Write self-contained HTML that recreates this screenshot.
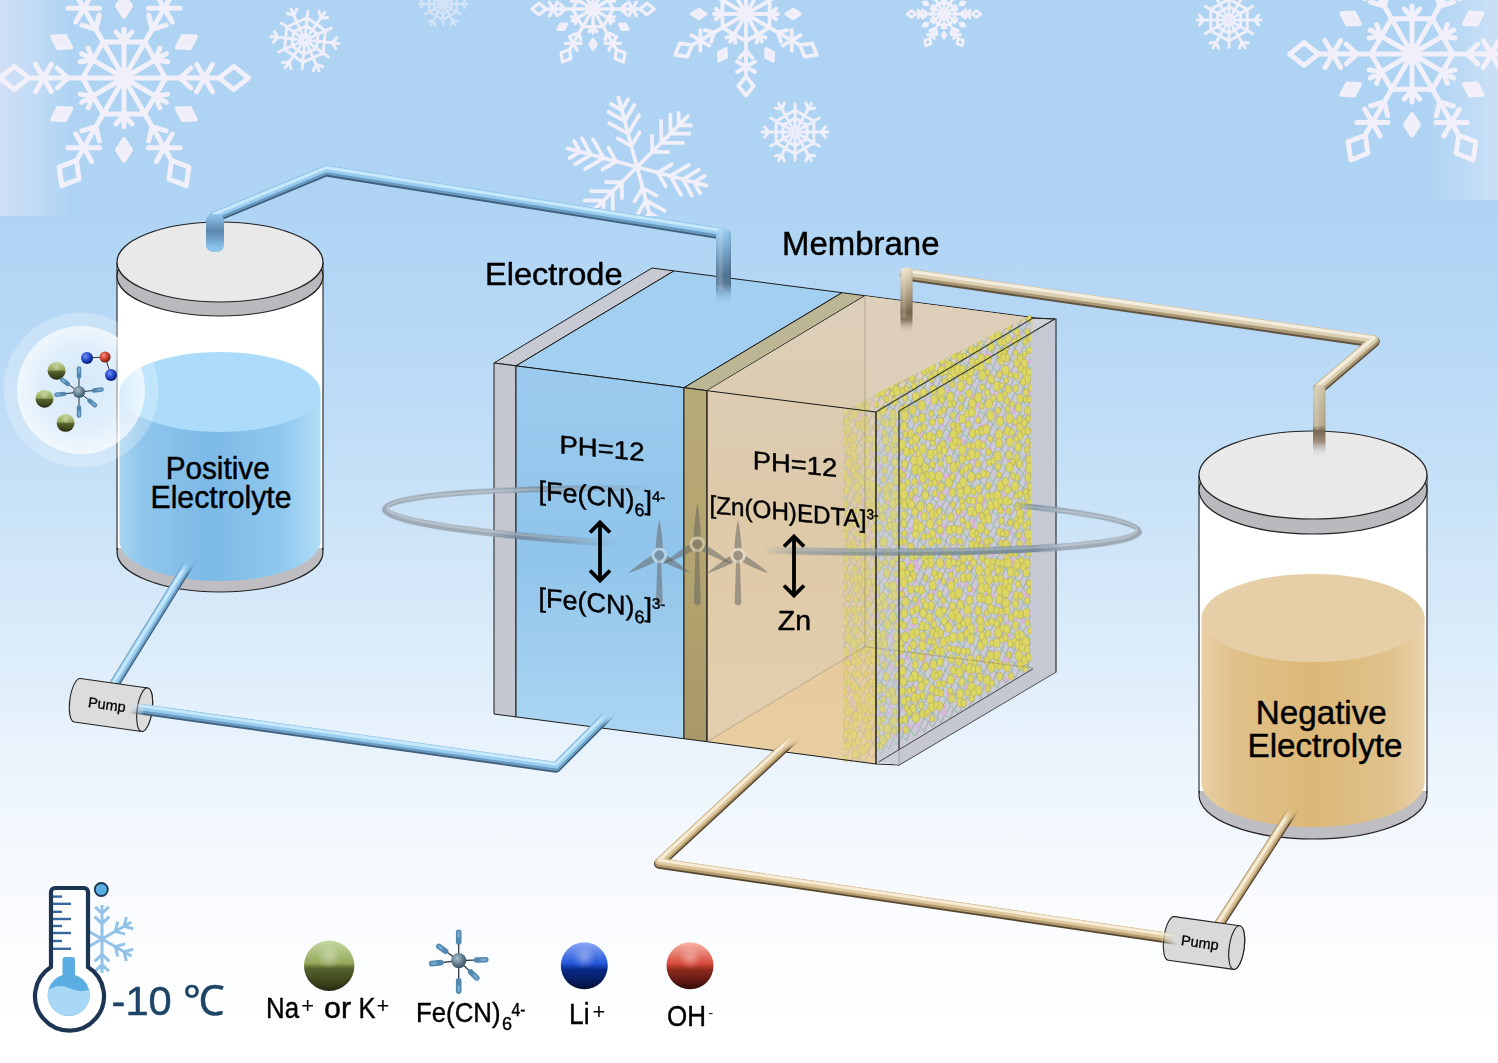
<!DOCTYPE html>
<html><head><meta charset="utf-8"><style>
html,body{margin:0;padding:0;width:1498px;height:1063px;overflow:hidden;background:#fff;}
svg{display:block;}
svg text{stroke:#000;stroke-width:0.45px;}
</style></head><body>
<svg width="1498" height="1063" viewBox="0 0 1498 1063"><defs>
<linearGradient id="bg" x1="0" y1="0" x2="0" y2="1063" gradientUnits="userSpaceOnUse">
 <stop offset="0" stop-color="#afd4f3"/>
 <stop offset="0.203" stop-color="#b0d5f4"/>
 <stop offset="0.282" stop-color="#b4d7f5"/>
 <stop offset="0.376" stop-color="#bddcf6"/>
 <stop offset="0.452" stop-color="#c6e1f7"/>
 <stop offset="0.527" stop-color="#d1e6f8"/>
 <stop offset="0.611" stop-color="#dcecfa"/>
 <stop offset="0.687" stop-color="#e7f2fc"/>
 <stop offset="0.771" stop-color="#f1f7fd"/>
 <stop offset="0.847" stop-color="#f9fbfe"/>
 <stop offset="0.941" stop-color="#fdfeff"/>
 <stop offset="1" stop-color="#ffffff"/>
</linearGradient>
<linearGradient id="haze" x1="0" y1="0" x2="1" y2="0">
 <stop offset="0" stop-color="#e2e4f8" stop-opacity="0.65"/>
 <stop offset="1" stop-color="#e6ecfa" stop-opacity="0"/>
</linearGradient>
<linearGradient id="hazeR" x1="1" y1="0" x2="0" y2="0">
 <stop offset="0" stop-color="#e6ecfa" stop-opacity="0.5"/>
 <stop offset="1" stop-color="#e6ecfa" stop-opacity="0"/>
</linearGradient>
<linearGradient id="blueLiq" x1="0" y1="0" x2="1" y2="0">
 <stop offset="0" stop-color="#a6d4f2"/>
 <stop offset="0.12" stop-color="#8fc6ec"/>
 <stop offset="0.45" stop-color="#7cb9e6"/>
 <stop offset="0.8" stop-color="#8fc8ee"/>
 <stop offset="1" stop-color="#b0dcf6"/>
</linearGradient>
<linearGradient id="tanLiq" x1="0" y1="0" x2="1" y2="0">
 <stop offset="0" stop-color="#e8d0a6"/>
 <stop offset="0.15" stop-color="#e0c08a"/>
 <stop offset="0.5" stop-color="#dcb877"/>
 <stop offset="0.85" stop-color="#e0c28c"/>
 <stop offset="1" stop-color="#e9d2aa"/>
</linearGradient>
<linearGradient id="blueFace" x1="0" y1="0" x2="0" y2="1">
 <stop offset="0" stop-color="#9ccbee"/>
 <stop offset="0.5" stop-color="#90c4ea"/>
 <stop offset="1" stop-color="#acd6f2"/>
</linearGradient>
<linearGradient id="tanFace" x1="0" y1="0" x2="0" y2="1">
 <stop offset="0" stop-color="#dccdb5"/>
 <stop offset="0.5" stop-color="#e0c9a4"/>
 <stop offset="1" stop-color="#ead0a4"/>
</linearGradient>
<radialGradient id="bubble" cx="0.5" cy="0.5" r="0.5">
 <stop offset="0" stop-color="#ffffff" stop-opacity="0.2"/>
 <stop offset="0.6" stop-color="#ffffff" stop-opacity="0.35"/>
 <stop offset="1" stop-color="#ffffff" stop-opacity="0.7"/>
</radialGradient>
<linearGradient id="gball2" x1="0" y1="0" x2="0" y2="1">
 <stop offset="0" stop-color="#c6d8a2"/>
 <stop offset="0.45" stop-color="#93a85a"/>
 <stop offset="0.55" stop-color="#55622c"/>
 <stop offset="1" stop-color="#2c3214"/>
</linearGradient>
<linearGradient id="bball2" x1="0" y1="0" x2="0" y2="1">
 <stop offset="0" stop-color="#8eaaf6"/>
 <stop offset="0.45" stop-color="#2456d8"/>
 <stop offset="0.58" stop-color="#0a2a88"/>
 <stop offset="1" stop-color="#02123e"/>
</linearGradient>
<linearGradient id="rball2" x1="0" y1="0" x2="0" y2="1">
 <stop offset="0" stop-color="#f6b4a8"/>
 <stop offset="0.45" stop-color="#d84c3c"/>
 <stop offset="0.58" stop-color="#8e2a1e"/>
 <stop offset="1" stop-color="#3c0c08"/>
</linearGradient>
<radialGradient id="hub" cx="0.4" cy="0.35" r="0.6">
 <stop offset="0" stop-color="#a9c0cc"/>
 <stop offset="1" stop-color="#3e5a6c"/>
</radialGradient>
<linearGradient id="stubB" x1="0" y1="0" x2="0" y2="1">
 <stop offset="0" stop-color="#92c8ec"/>
 <stop offset="0.45" stop-color="#5a86ac"/>
 <stop offset="0.85" stop-color="#86bee6"/>
 <stop offset="1" stop-color="#92caee"/>
</linearGradient>
<linearGradient id="stubB2" x1="0" y1="230" x2="0" y2="305" gradientUnits="userSpaceOnUse">
 <stop offset="0" stop-color="#98cdf0"/>
 <stop offset="0.2" stop-color="#7eb0d8"/>
 <stop offset="0.6" stop-color="#4d7090"/>
 <stop offset="0.72" stop-color="#56799a"/>
 <stop offset="1" stop-color="#a3cff1" stop-opacity="0"/>
</linearGradient>
<linearGradient id="stubT2" x1="0" y1="266" x2="0" y2="334" gradientUnits="userSpaceOnUse">
 <stop offset="0" stop-color="#eee6d2"/>
 <stop offset="0.18" stop-color="#d6c8aa"/>
 <stop offset="0.45" stop-color="#a89878"/>
 <stop offset="0.68" stop-color="#76664e"/>
 <stop offset="0.8" stop-color="#8c7d66"/>
 <stop offset="1" stop-color="#dcd0bb" stop-opacity="0"/>
</linearGradient>
<linearGradient id="stubHL" x1="0" y1="0" x2="1" y2="0">
 <stop offset="0" stop-color="#fff" stop-opacity="0.05"/>
 <stop offset="0.3" stop-color="#fff" stop-opacity="0.22"/>
 <stop offset="0.6" stop-color="#fff" stop-opacity="0"/>
 <stop offset="1" stop-color="#000" stop-opacity="0.12"/>
</linearGradient>
<linearGradient id="stubT" x1="0" y1="0" x2="0" y2="1">
 <stop offset="0" stop-color="#d8cdb4"/>
 <stop offset="0.5" stop-color="#8e8068"/>
 <stop offset="1" stop-color="#c9b898" stop-opacity="0.2"/>
</linearGradient>
<radialGradient id="gballR" cx="0.38" cy="0.35" r="0.65">
 <stop offset="0" stop-color="#c4d08e"/>
 <stop offset="0.6" stop-color="#8d9c52"/>
 <stop offset="1" stop-color="#4c5626"/>
</radialGradient>
<radialGradient id="bballR" cx="0.38" cy="0.35" r="0.65">
 <stop offset="0" stop-color="#6f8ef0"/>
 <stop offset="0.6" stop-color="#1f45c8"/>
 <stop offset="1" stop-color="#0a1f70"/>
</radialGradient>
<radialGradient id="rballR" cx="0.38" cy="0.35" r="0.65">
 <stop offset="0" stop-color="#f09080"/>
 <stop offset="0.6" stop-color="#cc3c2c"/>
 <stop offset="1" stop-color="#6e1a12"/>
</radialGradient>
<filter id="soft" filterUnits="userSpaceOnUse" x="0" y="0" width="1498" height="1063"><feGaussianBlur stdDeviation="0.6"/></filter>
<radialGradient id="sph" cx="0.5" cy="0.32" r="0.7">
 <stop offset="0" stop-color="#ffffff" stop-opacity="0.35"/>
 <stop offset="0.35" stop-color="#ffffff" stop-opacity="0"/>
 <stop offset="0.8" stop-color="#000000" stop-opacity="0.0"/>
 <stop offset="1" stop-color="#000000" stop-opacity="0.25"/>
</radialGradient>
<linearGradient id="membG" x1="0" y1="388" x2="0" y2="742" gradientUnits="userSpaceOnUse">
 <stop offset="0" stop-color="#b9ab78"/>
 <stop offset="0.5" stop-color="#b3a46f"/>
 <stop offset="1" stop-color="#a79866"/>
</linearGradient>
<linearGradient id="tanWall" x1="0" y1="300" x2="0" y2="740" gradientUnits="userSpaceOnUse">
 <stop offset="0" stop-color="#dccfba"/>
 <stop offset="0.5" stop-color="#dec9a8"/>
 <stop offset="1" stop-color="#e0cfb6"/>
</linearGradient>
<linearGradient id="tanFloor" x1="0" y1="650" x2="0" y2="764" gradientUnits="userSpaceOnUse">
 <stop offset="0" stop-color="#e9ca98"/>
 <stop offset="1" stop-color="#e8cd9e"/>
</linearGradient>
<linearGradient id="stubT3" x1="0" y1="385" x2="0" y2="458" gradientUnits="userSpaceOnUse">
 <stop offset="0" stop-color="#d2c7ad"/>
 <stop offset="0.55" stop-color="#b8aa8e"/>
 <stop offset="0.63" stop-color="#76664f"/>
 <stop offset="0.78" stop-color="#8a7a66" stop-opacity="0.8"/>
 <stop offset="1" stop-color="#e9e9ea" stop-opacity="0"/>
</linearGradient>
</defs>

<rect x="0" y="0" width="1498" height="1063" fill="url(#bg)"/>
<rect x="0" y="0" width="1498" height="216" fill="#afd4f3"/>
<rect x="0" y="0" width="70" height="216" fill="url(#haze)"/>
<rect x="1428" y="0" width="70" height="200" fill="url(#hazeR)"/>
<clipPath id="topband"><rect x="0" y="0" width="1498" height="216"/></clipPath><g clip-path="url(#topband)"><g filter="url(#soft)">
<g opacity="0.88"><path d="M124.0 78.0L204.5 78.0M165.5 78.0L144.7 113.9M180.1 78.0L190.8 68.0M180.1 78.0L190.8 88.0M204.5 78.0L220.4 78.0M204.5 78.0L212.5 91.7M204.5 78.0L196.6 91.7M204.5 78.0L196.6 64.3M204.5 78.0L212.5 64.3M219.2 78.0L233.8 89.6L248.4 78.0L233.8 66.4ZM124.0 78.0L166.3 102.4M155.7 96.3L167.7 94.2M155.7 96.3L159.8 107.8M124.0 78.0L164.3 147.7M144.7 113.9L103.3 113.9M152.1 126.6L166.1 130.9M152.1 126.6L148.8 140.9M164.3 147.7L172.2 161.5M164.3 147.7L156.3 161.5M164.3 147.7L148.4 147.7M164.3 147.7L172.2 134.0M164.3 147.7L180.1 147.7M171.6 160.4L168.9 178.9L186.2 185.8L188.9 167.3ZM124.0 78.0L124.0 126.8M124.0 114.6L131.9 123.9M124.0 114.6L116.1 123.9M124.0 78.0L83.7 147.7M103.3 113.9L82.5 78.0M95.9 126.6L99.2 140.9M95.9 126.6L81.9 130.9M83.7 147.7L75.8 161.5M83.7 147.7L67.9 147.7M83.7 147.7L75.8 134.0M83.7 147.7L99.6 147.7M83.7 147.7L91.7 161.5M76.4 160.4L59.1 167.3L61.8 185.8L79.1 178.9ZM124.0 78.0L81.7 102.4M92.3 96.3L88.2 107.8M92.3 96.3L80.3 94.2M124.0 78.0L43.5 78.0M82.5 78.0L103.3 42.1M67.9 78.0L57.2 88.0M67.9 78.0L57.2 68.0M43.5 78.0L27.6 78.0M43.5 78.0L35.5 64.3M43.5 78.0L51.4 64.3M43.5 78.0L51.4 91.7M43.5 78.0L35.5 91.7M28.8 78.0L14.2 66.4L-0.4 78.0L14.2 89.6ZM124.0 78.0L81.7 53.6M92.3 59.7L80.3 61.8M92.3 59.7L88.2 48.2M124.0 78.0L83.7 8.3M103.3 42.1L144.7 42.1M95.9 29.4L81.9 25.1M95.9 29.4L99.2 15.1M83.7 8.3L75.8 -5.5M83.7 8.3L91.7 -5.5M83.7 8.3L99.6 8.3M83.7 8.3L75.8 22.0M83.7 8.3L67.9 8.3M76.4 -4.4L79.1 -22.9L61.8 -29.8L59.1 -11.3ZM124.0 78.0L124.0 29.2M124.0 41.4L116.1 32.1M124.0 41.4L131.9 32.1M124.0 78.0L164.3 8.3M144.7 42.1L165.5 78.0M152.1 29.4L148.8 15.1M152.1 29.4L166.1 25.1M164.3 8.3L172.2 -5.5M164.3 8.3L180.1 8.3M164.3 8.3L172.2 22.0M164.3 8.3L148.4 8.3M164.3 8.3L156.3 -5.5M171.6 -4.4L188.9 -11.3L186.2 -29.8L168.9 -22.9ZM124.0 78.0L166.3 53.6M155.7 59.7L159.8 48.2M155.7 59.7L167.7 61.8" fill="none" stroke="#faf3fb" stroke-width="5.0" stroke-linecap="round" stroke-linejoin="round"/><path d="M176.8 108.5L182.8 120.1L195.8 119.5L189.9 107.9ZM124.0 139.0L116.9 150.0L124.0 161.0L131.1 150.0ZM71.2 108.5L58.1 107.9L52.2 119.5L65.2 120.1ZM71.2 47.5L65.2 35.9L52.2 36.5L58.1 48.1ZM124.0 17.0L131.1 6.0L124.0 -5.0L116.9 6.0ZM176.8 47.5L189.9 48.1L195.8 36.5L182.8 35.9Z" fill="#f7f0fa" stroke="#faf3fb" stroke-width="4.0" stroke-linejoin="round"/></g>
<path opacity="0.85" d="M310.0 43.6L304.4 46.1L299.4 42.5L300.0 36.4L305.6 33.9L310.6 37.5ZM316.6 48.3L303.6 54.2L292.0 45.9L293.4 31.7L306.4 25.8L318.0 34.1ZM323.2 53.1L302.8 62.3L284.5 49.2L286.8 26.9L307.2 17.7L325.5 30.8ZM313.5 40.8L338.8 43.4M332.1 42.7L336.8 37.8M332.1 42.7L335.7 48.4M311.9 45.0L328.5 56.9M308.5 47.7L319.0 71.0M316.2 64.8L322.8 66.5M316.2 64.8L313.1 70.8M304.2 48.5L302.1 68.8M300.0 46.9L285.1 67.6M289.1 62.1L291.0 68.6M289.1 62.1L282.3 62.4M297.3 43.5L278.7 51.9M296.5 39.2L271.2 36.6M277.9 37.3L273.2 42.2M277.9 37.3L274.3 31.6M298.1 35.0L281.5 23.1M301.5 32.3L291.0 9.0M293.8 15.2L287.2 13.5M293.8 15.2L296.9 9.2M305.8 31.5L307.9 11.2M310.0 33.1L324.9 12.4M320.9 17.9L319.0 11.4M320.9 17.9L327.7 17.6M312.7 36.5L331.3 28.1" fill="none" stroke="#faf3fb" stroke-width="3.0" stroke-linecap="round"/><circle cx="305" cy="40" r="2.4" fill="none" stroke="#faf3fb" stroke-width="3.0" opacity="0.85"/>
<g opacity="0.88"><path d="M593.0 9.0L632.6 9.0M613.4 9.0L603.2 26.7M620.6 9.0L625.9 4.1M620.6 9.0L625.9 13.9M632.6 9.0L640.4 9.0M632.6 9.0L636.5 15.8M632.6 9.0L628.7 15.8M632.6 9.0L628.7 2.2M632.6 9.0L636.5 2.2M639.8 9.0L647.0 14.7L654.2 9.0L647.0 3.3ZM593.0 9.0L613.8 21.0M608.6 18.0L614.5 16.9M608.6 18.0L610.6 23.6M593.0 9.0L612.8 43.3M603.2 26.7L582.8 26.7M606.8 32.9L613.7 35.0M606.8 32.9L605.2 39.9M612.8 43.3L616.7 50.0M612.8 43.3L608.9 50.0M612.8 43.3L605.0 43.3M612.8 43.3L616.7 36.5M612.8 43.3L620.6 43.3M616.4 49.5L615.1 58.6L623.6 62.0L624.9 52.9ZM593.0 9.0L593.0 33.0M593.0 27.0L596.9 31.6M593.0 27.0L589.1 31.6M593.0 9.0L573.2 43.3M582.8 26.7L572.6 9.0M579.2 32.9L580.8 39.9M579.2 32.9L572.3 35.0M573.2 43.3L569.3 50.0M573.2 43.3L565.4 43.3M573.2 43.3L569.3 36.5M573.2 43.3L581.0 43.3M573.2 43.3L577.1 50.0M569.6 49.5L561.1 52.9L562.4 62.0L570.9 58.6ZM593.0 9.0L572.2 21.0M577.4 18.0L575.4 23.6M577.4 18.0L571.5 16.9M593.0 9.0L553.4 9.0M572.6 9.0L582.8 -8.7M565.4 9.0L560.1 13.9M565.4 9.0L560.1 4.1M553.4 9.0L545.6 9.0M553.4 9.0L549.5 2.2M553.4 9.0L557.3 2.2M553.4 9.0L557.3 15.8M553.4 9.0L549.5 15.8M546.2 9.0L539.0 3.3L531.8 9.0L539.0 14.7ZM593.0 9.0L572.2 -3.0M577.4 0.0L571.5 1.1M577.4 0.0L575.4 -5.6M593.0 9.0L573.2 -25.3M582.8 -8.7L603.2 -8.7M579.2 -14.9L572.3 -17.0M579.2 -14.9L580.8 -21.9M573.2 -25.3L569.3 -32.0M573.2 -25.3L577.1 -32.0M573.2 -25.3L581.0 -25.3M573.2 -25.3L569.3 -18.5M573.2 -25.3L565.4 -25.3M569.6 -31.5L570.9 -40.6L562.4 -44.0L561.1 -34.9ZM593.0 9.0L593.0 -15.0M593.0 -9.0L589.1 -13.6M593.0 -9.0L596.9 -13.6M593.0 9.0L612.8 -25.3M603.2 -8.7L613.4 9.0M606.8 -14.9L605.2 -21.9M606.8 -14.9L613.7 -17.0M612.8 -25.3L616.7 -32.0M612.8 -25.3L620.6 -25.3M612.8 -25.3L616.7 -18.5M612.8 -25.3L605.0 -25.3M612.8 -25.3L608.9 -32.0M616.4 -31.5L624.9 -34.9L623.6 -44.0L615.1 -40.6ZM593.0 9.0L613.8 -3.0M608.6 0.0L610.6 -5.6M608.6 0.0L614.5 1.1" fill="none" stroke="#faf3fb" stroke-width="3.3" stroke-linecap="round" stroke-linejoin="round"/><path d="M619.0 24.0L621.9 29.7L628.3 29.4L625.4 23.7ZM593.0 39.0L589.5 44.4L593.0 49.8L596.5 44.4ZM567.0 24.0L560.6 23.7L557.7 29.4L564.1 29.7ZM567.0 -6.0L564.1 -11.7L557.7 -11.4L560.6 -5.7ZM593.0 -21.0L596.5 -26.4L593.0 -31.8L589.5 -26.4ZM619.0 -6.0L625.4 -5.7L628.3 -11.4L621.9 -11.7Z" fill="#f7f0fa" stroke="#faf3fb" stroke-width="2.64" stroke-linejoin="round"/></g>
<g opacity="0.88"><path d="M746.0 14.0L791.7 40.4M769.6 27.6L746.0 41.2M777.9 32.4L787.2 30.2M777.9 32.4L780.7 41.6M791.7 40.4L800.7 45.6M791.7 40.4L791.7 50.8M791.7 40.4L782.7 45.6M791.7 40.4L791.7 30.0M791.7 40.4L800.7 35.2M800.0 45.2L804.6 56.6L816.7 54.8L812.2 43.4ZM746.0 14.0L762.0 41.7M758.0 34.8L765.5 37.5M758.0 34.8L756.6 42.7M746.0 14.0L746.0 66.8M746.0 41.2L722.4 27.6M746.0 50.8L752.5 57.8M746.0 50.8L739.5 57.8M746.0 66.8L746.0 77.2M746.0 66.8L737.0 72.0M746.0 66.8L737.0 61.6M746.0 66.8L755.0 61.6M746.0 66.8L755.0 72.0M746.0 76.4L738.4 86.0L746.0 95.6L753.6 86.0ZM746.0 14.0L730.0 41.7M734.0 34.8L735.4 42.7M734.0 34.8L726.5 37.5M746.0 14.0L700.3 40.4M722.4 27.6L722.4 0.4M714.1 32.4L711.3 41.6M714.1 32.4L704.8 30.2M700.3 40.4L691.3 45.6M700.3 40.4L691.3 35.2M700.3 40.4L700.3 30.0M700.3 40.4L709.3 45.6M700.3 40.4L700.3 50.8M692.0 45.2L679.8 43.4L675.3 54.8L687.4 56.6ZM746.0 14.0L714.0 14.0M722.0 14.0L715.9 19.2M722.0 14.0L715.9 8.8M746.0 14.0L700.3 -12.4M722.4 0.4L746.0 -13.2M714.1 -4.4L704.8 -2.2M714.1 -4.4L711.3 -13.6M700.3 -12.4L691.3 -17.6M700.3 -12.4L700.3 -22.8M700.3 -12.4L709.3 -17.6M700.3 -12.4L700.3 -2.0M700.3 -12.4L691.3 -7.2M692.0 -17.2L687.4 -28.6L675.3 -26.8L679.8 -15.4ZM746.0 14.0L730.0 -13.7M734.0 -6.8L726.5 -9.5M734.0 -6.8L735.4 -14.7M746.0 14.0L746.0 -38.8M746.0 -13.2L769.6 0.4M746.0 -22.8L739.5 -29.8M746.0 -22.8L752.5 -29.8M746.0 -38.8L746.0 -49.2M746.0 -38.8L755.0 -44.0M746.0 -38.8L755.0 -33.6M746.0 -38.8L737.0 -33.6M746.0 -38.8L737.0 -44.0M746.0 -48.4L753.6 -58.0L746.0 -67.6L738.4 -58.0ZM746.0 14.0L762.0 -13.7M758.0 -6.8L756.6 -14.7M758.0 -6.8L765.5 -9.5M746.0 14.0L791.7 -12.4M769.6 0.4L769.6 27.6M777.9 -4.4L780.7 -13.6M777.9 -4.4L787.2 -2.2M791.7 -12.4L800.7 -17.6M791.7 -12.4L800.7 -7.2M791.7 -12.4L791.7 -2.0M791.7 -12.4L782.7 -17.6M791.7 -12.4L791.7 -22.8M800.0 -17.2L812.2 -15.4L816.7 -26.8L804.6 -28.6ZM746.0 14.0L778.0 14.0M770.0 14.0L776.1 8.8M770.0 14.0L776.1 19.2" fill="none" stroke="#faf3fb" stroke-width="3.8" stroke-linecap="round" stroke-linejoin="round"/><path d="M766.0 48.6L765.6 57.2L773.2 61.1L773.6 52.6ZM726.0 48.6L718.4 52.6L718.8 61.1L726.4 57.2ZM706.0 14.0L698.8 9.4L691.6 14.0L698.8 18.6ZM726.0 -20.6L726.4 -29.2L718.8 -33.1L718.4 -24.6ZM766.0 -20.6L773.6 -24.6L773.2 -33.1L765.6 -29.2ZM786.0 14.0L793.2 18.6L800.4 14.0L793.2 9.4Z" fill="#f7f0fa" stroke="#faf3fb" stroke-width="3.04" stroke-linejoin="round"/></g>
<path opacity="0.88" d="M637.0 167.0L687.9 116.1M652.3 151.7L652.0 135.9M652.3 151.7L668.1 152.0M661.4 142.6L661.1 121.0M661.4 142.6L683.0 142.9M670.6 133.4L670.3 114.7M670.6 133.4L689.3 133.7M678.7 125.3L678.6 113.0M678.7 125.3L691.0 125.4M637.0 167.0L706.5 185.6M657.9 172.6L671.5 164.5M657.9 172.6L665.6 186.4M670.4 175.9L688.9 164.9M670.4 175.9L680.9 194.8M682.9 179.3L699.0 169.7M682.9 179.3L692.0 195.6M694.0 182.3L704.5 176.0M694.0 182.3L700.0 193.0M637.0 167.0L655.6 236.5M642.6 187.9L656.4 195.6M642.6 187.9L634.5 201.5M645.9 200.4L664.8 210.9M645.9 200.4L634.9 218.9M649.3 212.9L665.6 222.0M649.3 212.9L639.7 229.0M652.3 224.0L663.0 230.0M652.3 224.0L646.0 234.5M637.0 167.0L586.1 217.9M621.7 182.3L622.0 198.1M621.7 182.3L605.9 182.0M612.6 191.4L612.9 213.0M612.6 191.4L591.0 191.1M603.4 200.6L603.7 219.3M603.4 200.6L584.7 200.3M595.3 208.7L595.4 221.0M595.3 208.7L583.0 208.6M637.0 167.0L567.5 148.4M616.1 161.4L602.5 169.5M616.1 161.4L608.4 147.6M603.6 158.1L585.1 169.1M603.6 158.1L593.1 139.2M591.1 154.7L575.0 164.3M591.1 154.7L582.0 138.4M580.0 151.7L569.5 158.0M580.0 151.7L574.0 141.0M637.0 167.0L618.4 97.5M631.4 146.1L617.6 138.4M631.4 146.1L639.5 132.5M628.1 133.6L609.2 123.1M628.1 133.6L639.1 115.1M624.7 121.1L608.4 112.0M624.7 121.1L634.3 105.0M621.7 110.0L611.0 104.0M621.7 110.0L628.0 99.5" fill="none" stroke="#faf3fb" stroke-width="3.8" stroke-linecap="round"/>
<path opacity="0.85" d="M800.1 135.0L795.0 137.9L789.9 135.0L789.9 129.0L795.0 126.1L800.1 129.0ZM807.0 138.9L795.0 145.9L783.0 138.9L783.0 125.1L795.0 118.1L807.0 125.1ZM813.9 142.9L795.0 153.8L776.1 142.9L776.1 121.1L795.0 110.2L813.9 121.1ZM803.2 132.0L828.0 132.0M821.4 132.0L825.5 126.8M821.4 132.0L825.5 137.2M802.1 136.1L819.3 146.0M799.1 139.1L811.5 160.6M808.2 154.9L814.7 155.8M808.2 154.9L805.8 161.0M795.0 140.2L795.0 160.1M790.9 139.1L778.5 160.6M781.8 154.9L784.2 161.0M781.8 154.9L775.3 155.8M787.9 136.1L770.7 146.0M786.8 132.0L762.0 132.0M768.6 132.0L764.5 137.2M768.6 132.0L764.5 126.8M787.9 127.9L770.7 118.0M790.9 124.9L778.5 103.4M781.8 109.1L775.3 108.2M781.8 109.1L784.2 103.0M795.0 123.8L795.0 104.0M799.1 124.9L811.5 103.4M808.2 109.1L805.8 103.0M808.2 109.1L814.7 108.2M802.1 127.9L819.3 118.0" fill="none" stroke="#faf3fb" stroke-width="3.0" stroke-linecap="round"/><circle cx="795" cy="132" r="2.3" fill="none" stroke="#faf3fb" stroke-width="3.0" opacity="0.85"/>
<g opacity="0.88"><path d="M944.0 14.0L967.8 14.0M956.2 14.0L950.1 24.6M960.6 14.0L963.7 11.1M960.6 14.0L963.7 16.9M967.8 14.0L972.4 14.0M967.8 14.0L970.1 18.1M967.8 14.0L965.4 18.1M967.8 14.0L965.4 9.9M967.8 14.0L970.1 9.9M972.1 14.0L976.4 17.4L980.7 14.0L976.4 10.6ZM944.0 14.0L956.5 21.2M953.4 19.4L956.9 18.8M953.4 19.4L954.6 22.8M944.0 14.0L955.9 34.6M950.1 24.6L937.9 24.6M952.3 28.3L956.4 29.6M952.3 28.3L951.3 32.6M955.9 34.6L958.2 38.6M955.9 34.6L953.5 38.6M955.9 34.6L951.2 34.6M955.9 34.6L958.2 30.5M955.9 34.6L960.6 34.6M958.0 38.3L957.2 43.8L962.4 45.8L963.2 40.3ZM944.0 14.0L944.0 28.4M944.0 24.8L946.3 27.6M944.0 24.8L941.7 27.6M944.0 14.0L932.1 34.6M937.9 24.6L931.8 14.0M935.7 28.3L936.7 32.6M935.7 28.3L931.6 29.6M932.1 34.6L929.8 38.6M932.1 34.6L927.4 34.6M932.1 34.6L929.8 30.5M932.1 34.6L936.8 34.6M932.1 34.6L934.5 38.6M930.0 38.3L924.8 40.3L925.6 45.8L930.8 43.8ZM944.0 14.0L931.5 21.2M934.6 19.4L933.4 22.8M934.6 19.4L931.1 18.8M944.0 14.0L920.2 14.0M931.8 14.0L937.9 3.4M927.4 14.0L924.3 16.9M927.4 14.0L924.3 11.1M920.2 14.0L915.6 14.0M920.2 14.0L917.9 9.9M920.2 14.0L922.6 9.9M920.2 14.0L922.6 18.1M920.2 14.0L917.9 18.1M915.9 14.0L911.6 10.6L907.3 14.0L911.6 17.4ZM944.0 14.0L931.5 6.8M934.6 8.6L931.1 9.2M934.6 8.6L933.4 5.2M944.0 14.0L932.1 -6.6M937.9 3.4L950.1 3.4M935.7 -0.3L931.6 -1.6M935.7 -0.3L936.7 -4.6M932.1 -6.6L929.8 -10.6M932.1 -6.6L934.5 -10.6M932.1 -6.6L936.8 -6.6M932.1 -6.6L929.8 -2.5M932.1 -6.6L927.4 -6.6M930.0 -10.3L930.8 -15.8L925.6 -17.8L924.8 -12.3ZM944.0 14.0L944.0 -0.4M944.0 3.2L941.7 0.4M944.0 3.2L946.3 0.4M944.0 14.0L955.9 -6.6M950.1 3.4L956.2 14.0M952.3 -0.3L951.3 -4.6M952.3 -0.3L956.4 -1.6M955.9 -6.6L958.2 -10.6M955.9 -6.6L960.6 -6.6M955.9 -6.6L958.2 -2.5M955.9 -6.6L951.2 -6.6M955.9 -6.6L953.5 -10.6M958.0 -10.3L963.2 -12.3L962.4 -17.8L957.2 -15.8ZM944.0 14.0L956.5 6.8M953.4 8.6L954.6 5.2M953.4 8.6L956.9 9.2" fill="none" stroke="#faf3fb" stroke-width="2.8" stroke-linecap="round" stroke-linejoin="round"/><path d="M959.6 23.0L961.4 26.4L965.2 26.2L963.4 22.8ZM944.0 32.0L941.9 35.2L944.0 38.5L946.1 35.2ZM928.4 23.0L924.6 22.8L922.8 26.2L926.6 26.4ZM928.4 5.0L926.6 1.6L922.8 1.8L924.6 5.2ZM944.0 -4.0L946.1 -7.2L944.0 -10.5L941.9 -7.2ZM959.6 5.0L963.4 5.2L965.2 1.8L961.4 1.6Z" fill="#f7f0fa" stroke="#faf3fb" stroke-width="2.2399999999999998" stroke-linejoin="round"/></g>
<path opacity="0.85" d="M1234.0 22.9L1229.0 25.8L1224.0 22.9L1224.0 17.1L1229.0 14.2L1234.0 17.1ZM1240.6 26.7L1229.0 33.4L1217.4 26.7L1217.4 13.3L1229.0 6.6L1240.6 13.3ZM1247.3 30.6L1229.0 41.1L1210.7 30.6L1210.7 9.4L1229.0 -1.1L1247.3 9.4ZM1237.0 20.0L1261.0 20.0M1254.6 20.0L1258.6 15.0M1254.6 20.0L1258.6 25.0M1235.9 24.0L1252.6 33.6M1233.0 26.9L1245.0 47.7M1241.8 42.2L1248.1 43.1M1241.8 42.2L1239.4 48.1M1229.0 28.0L1229.0 47.2M1225.0 26.9L1213.0 47.7M1216.2 42.2L1218.6 48.1M1216.2 42.2L1209.9 43.1M1222.1 24.0L1205.4 33.6M1221.0 20.0L1197.0 20.0M1203.4 20.0L1199.4 25.0M1203.4 20.0L1199.4 15.0M1222.1 16.0L1205.4 6.4M1225.0 13.1L1213.0 -7.7M1216.2 -2.2L1209.9 -3.1M1216.2 -2.2L1218.6 -8.1M1229.0 12.0L1229.0 -7.2M1233.0 13.1L1245.0 -7.7M1241.8 -2.2L1239.4 -8.1M1241.8 -2.2L1248.1 -3.1M1235.9 16.0L1252.6 6.4" fill="none" stroke="#faf3fb" stroke-width="3.0" stroke-linecap="round"/><circle cx="1229" cy="20" r="2.2" fill="none" stroke="#faf3fb" stroke-width="3.0" opacity="0.85"/>
<g opacity="0.88"><path d="M1412.0 54.0L1491.2 54.0M1452.8 54.0L1432.4 89.3M1467.2 54.0L1477.7 44.2M1467.2 54.0L1477.7 63.8M1491.2 54.0L1506.8 54.0M1491.2 54.0L1499.0 67.5M1491.2 54.0L1483.4 67.5M1491.2 54.0L1483.4 40.5M1491.2 54.0L1499.0 40.5M1505.6 54.0L1520.0 65.4L1534.4 54.0L1520.0 42.6ZM1412.0 54.0L1453.6 78.0M1443.2 72.0L1455.0 69.9M1443.2 72.0L1447.3 83.3M1412.0 54.0L1451.6 122.6M1432.4 89.3L1391.6 89.3M1439.6 101.8L1453.4 106.0M1439.6 101.8L1436.4 115.8M1451.6 122.6L1459.4 136.1M1451.6 122.6L1443.8 136.1M1451.6 122.6L1436.0 122.6M1451.6 122.6L1459.4 109.1M1451.6 122.6L1467.2 122.6M1458.8 135.1L1456.1 153.2L1473.2 160.0L1475.9 141.8ZM1412.0 54.0L1412.0 102.0M1412.0 90.0L1419.7 99.2M1412.0 90.0L1404.3 99.2M1412.0 54.0L1372.4 122.6M1391.6 89.3L1371.2 54.0M1384.4 101.8L1387.6 115.8M1384.4 101.8L1370.6 106.0M1372.4 122.6L1364.6 136.1M1372.4 122.6L1356.8 122.6M1372.4 122.6L1364.6 109.1M1372.4 122.6L1388.0 122.6M1372.4 122.6L1380.2 136.1M1365.2 135.1L1348.1 141.8L1350.8 160.0L1367.9 153.2ZM1412.0 54.0L1370.4 78.0M1380.8 72.0L1376.7 83.3M1380.8 72.0L1369.0 69.9M1412.0 54.0L1332.8 54.0M1371.2 54.0L1391.6 18.7M1356.8 54.0L1346.3 63.8M1356.8 54.0L1346.3 44.2M1332.8 54.0L1317.2 54.0M1332.8 54.0L1325.0 40.5M1332.8 54.0L1340.6 40.5M1332.8 54.0L1340.6 67.5M1332.8 54.0L1325.0 67.5M1318.4 54.0L1304.0 42.6L1289.6 54.0L1304.0 65.4ZM1412.0 54.0L1370.4 30.0M1380.8 36.0L1369.0 38.1M1380.8 36.0L1376.7 24.7M1412.0 54.0L1372.4 -14.6M1391.6 18.7L1432.4 18.7M1384.4 6.2L1370.6 2.0M1384.4 6.2L1387.6 -7.8M1372.4 -14.6L1364.6 -28.1M1372.4 -14.6L1380.2 -28.1M1372.4 -14.6L1388.0 -14.6M1372.4 -14.6L1364.6 -1.1M1372.4 -14.6L1356.8 -14.6M1365.2 -27.1L1367.9 -45.2L1350.8 -52.0L1348.1 -33.8ZM1412.0 54.0L1412.0 6.0M1412.0 18.0L1404.3 8.8M1412.0 18.0L1419.7 8.8M1412.0 54.0L1451.6 -14.6M1432.4 18.7L1452.8 54.0M1439.6 6.2L1436.4 -7.8M1439.6 6.2L1453.4 2.0M1451.6 -14.6L1459.4 -28.1M1451.6 -14.6L1467.2 -14.6M1451.6 -14.6L1459.4 -1.1M1451.6 -14.6L1436.0 -14.6M1451.6 -14.6L1443.8 -28.1M1458.8 -27.1L1475.9 -33.8L1473.2 -52.0L1456.1 -45.2ZM1412.0 54.0L1453.6 30.0M1443.2 36.0L1447.3 24.7M1443.2 36.0L1455.0 38.1" fill="none" stroke="#faf3fb" stroke-width="5.0" stroke-linecap="round" stroke-linejoin="round"/><path d="M1464.0 84.0L1469.8 95.4L1482.7 94.8L1476.8 83.4ZM1412.0 114.0L1405.0 124.8L1412.0 135.6L1419.0 124.8ZM1360.0 84.0L1347.2 83.4L1341.3 94.8L1354.2 95.4ZM1360.0 24.0L1354.2 12.6L1341.3 13.2L1347.2 24.6ZM1412.0 -6.0L1419.0 -16.8L1412.0 -27.6L1405.0 -16.8ZM1464.0 24.0L1476.8 24.6L1482.7 13.2L1469.8 12.6Z" fill="#f7f0fa" stroke="#faf3fb" stroke-width="4.0" stroke-linejoin="round"/></g>
<path opacity="0.5" d="M446.7 6.2L443.0 8.3L439.3 6.2L439.3 1.8L443.0 -0.3L446.7 1.8ZM451.7 9.0L443.0 14.1L434.3 9.0L434.3 -1.0L443.0 -6.1L451.7 -1.0ZM456.7 11.9L443.0 19.8L429.3 11.9L429.3 -3.9L443.0 -11.8L456.7 -3.9ZM449.0 4.0L467.0 4.0M462.2 4.0L465.2 0.2M462.2 4.0L465.2 7.8M448.2 7.0L460.7 14.2M446.0 9.2L455.0 24.8M452.6 20.6L457.3 21.3M452.6 20.6L450.8 25.1M443.0 10.0L443.0 24.4M440.0 9.2L431.0 24.8M433.4 20.6L435.2 25.1M433.4 20.6L428.7 21.3M437.8 7.0L425.3 14.2M437.0 4.0L419.0 4.0M423.8 4.0L420.8 7.8M423.8 4.0L420.8 0.2M437.8 1.0L425.3 -6.2M440.0 -1.2L431.0 -16.8M433.4 -12.6L428.7 -13.3M433.4 -12.6L435.2 -17.1M443.0 -2.0L443.0 -16.4M446.0 -1.2L455.0 -16.8M452.6 -12.6L450.8 -17.1M452.6 -12.6L457.3 -13.3M448.2 1.0L460.7 -6.2" fill="none" stroke="#faf3fb" stroke-width="2.4" stroke-linecap="round"/><circle cx="443" cy="4" r="1.7" fill="none" stroke="#faf3fb" stroke-width="2.4" opacity="0.5"/>
</g></g>
<g fill="none" stroke-linejoin="round" stroke-linecap="round" filter="url(#soft)"><path d="M214 217 L326 170.5 L722 233.5" stroke="#3f5f7c" stroke-width="10.58" transform="translate(0,0.69)"/><path d="M214 217 L326 170.5 L722 233.5" stroke="#6a9ac0" stroke-width="9.20" transform="translate(0,-0.46)"/><path d="M214 217 L326 170.5 L722 233.5" stroke="#98cdf0" stroke-width="6.90" transform="translate(0,-1.84)"/><path d="M214 217 L326 170.5 L722 233.5" stroke="#c8e8fc" stroke-width="2.99" transform="translate(0,-2.99)"/></g>
<g fill="none" stroke-linejoin="round" stroke-linecap="round" filter="url(#soft)"><path d="M906 274 L1374 341 L1319 388" stroke="#615240" stroke-width="11.50" transform="translate(0,0.75)"/><path d="M906 274 L1374 341 L1319 388" stroke="#a89878" stroke-width="10.00" transform="translate(0,-0.50)"/><path d="M906 274 L1374 341 L1319 388" stroke="#dccfb2" stroke-width="7.50" transform="translate(0,-2.00)"/><path d="M906 274 L1374 341 L1319 388" stroke="#f3ede0" stroke-width="3.25" transform="translate(0,-3.25)"/></g>
<ellipse cx="220" cy="552" rx="103" ry="40" fill="#bdbdc2" stroke="#222" stroke-width="1.2"/><rect x="117" y="262" width="206" height="286" fill="#ffffff"/><path d="M117 262 V550 M323 262 V550" stroke="#333" stroke-width="1.2"/><path d="M119.5 392 V541 A100.5 40 0 0 0 320.5 541 V392 Z" fill="url(#blueLiq)"/><ellipse cx="220" cy="392" rx="100.5" ry="40" fill="#acdcf9"/><ellipse cx="220" cy="276" rx="103" ry="40" fill="#b9b9be" stroke="#222" stroke-width="1.2"/><ellipse cx="220" cy="262" rx="103" ry="40" fill="#e9e9ea" stroke="#222" stroke-width="1.2"/><text x="217.7" y="478.6" font-family="'Liberation Sans', sans-serif" font-size="30.5" text-anchor="middle" textLength="104" lengthAdjust="spacingAndGlyphs">Positive</text><text x="221" y="508.4" font-family="'Liberation Sans', sans-serif" font-size="30.5" text-anchor="middle" textLength="141" lengthAdjust="spacingAndGlyphs">Electrolyte</text>
<ellipse cx="1313" cy="795" rx="114" ry="44" fill="#bdbdc2" stroke="#222" stroke-width="1.2"/><rect x="1199" y="475" width="228" height="316" fill="#ffffff"/><path d="M1199 475 V793 M1427 475 V793" stroke="#333" stroke-width="1.2"/><path d="M1201.5 618 V783 A111.5 44 0 0 0 1424.5 783 V618 Z" fill="url(#tanLiq)"/><ellipse cx="1313" cy="618" rx="111.5" ry="44" fill="#e6cfa6"/><ellipse cx="1313" cy="490" rx="114" ry="44" fill="#b9b9be" stroke="#222" stroke-width="1.2"/><ellipse cx="1313" cy="475" rx="114" ry="44" fill="#e9e9ea" stroke="#222" stroke-width="1.2"/><text x="1321.3" y="724.4" font-family="'Liberation Sans', sans-serif" font-size="32.5" text-anchor="middle" textLength="131" lengthAdjust="spacingAndGlyphs">Negative</text><text x="1325" y="757.4" font-family="'Liberation Sans', sans-serif" font-size="32.5" text-anchor="middle" textLength="155" lengthAdjust="spacingAndGlyphs">Electrolyte</text>
<rect x="206" y="214" width="18" height="38" rx="7" fill="url(#stubB)"/>
<rect x="1313" y="385" width="12.5" height="73" rx="5" fill="url(#stubT3)"/>
<rect x="1313" y="385" width="12.5" height="45" rx="5" fill="url(#stubHL)"/>
<polygon points="494.0,363.0 516.0,365.9 674.0,270.9 652.0,268.0" fill="#c7cad2" stroke="#1a1a1a" stroke-width="1.0" stroke-linejoin="round" />
<polygon points="516.0,365.9 684.0,387.7 842.0,292.7 674.0,270.9" fill="#a3cff1" stroke="#1a1a1a" stroke-width="1.0" stroke-linejoin="round" />
<polygon points="684.0,387.7 707.0,390.7 865.0,295.7 842.0,292.7" fill="#bcb694" stroke="#1a1a1a" stroke-width="1.0" stroke-linejoin="round" />
<polygon points="707.0,390.7 876.0,412.7 1034.0,317.7 865.0,295.7" fill="#dcd0bb" stroke="#1a1a1a" stroke-width="1.0" stroke-linejoin="round" />
<polygon points="876.0,412.0 899.0,411.0 1055.0,319.0 1033.0,318.0" fill="#cfd2d8" stroke="#333" stroke-width="1.0" stroke-linejoin="round" />
<polygon points="865.0,296.0 1033.0,318.0 1033.0,669.0 865.0,647.0" fill="#ddcfb9" stroke="none" stroke-width="1.0" stroke-linejoin="round" />
<polygon points="707.0,741.7 865.0,647.0 1033.0,669.0 876.0,764.0" fill="url(#tanFloor)" stroke="none" stroke-width="1.0" stroke-linejoin="round" />
<polygon points="707.0,390.7 865.0,296.0 865.0,647.0 707.0,741.7" fill="url(#tanWall)" stroke="none" stroke-width="1.0" stroke-linejoin="round" />
<rect x="716" y="228.5" width="15" height="77" rx="6" fill="url(#stubB2)"/>
<rect x="716" y="228.5" width="15" height="62" rx="6" fill="url(#stubHL)"/>
<rect x="900.5" y="267.5" width="12" height="66.5" rx="4" fill="url(#stubT2)"/>
<rect x="900.5" y="267.5" width="12" height="50" rx="4" fill="url(#stubHL)"/>
<polygon points="899.0,411.0 1055.0,319.0 1056.0,672.0 899.0,765.0" fill="#c4c9d4" stroke="none" stroke-width="1.0" stroke-linejoin="round" />
<clipPath id="slabclip"><polygon points="876,394 1031,315 1031,668 876,764"/></clipPath>
<defs><g id="slabG"><path d="M841.9 408.1L846.3 413.0M847.3 412.9L850.6 418.0M842.0 422.5L846.3 427.3M845.6 427.3L850.6 432.3M842.3 437.3L846.3 441.6M845.3 441.1L850.6 446.6M841.0 451.7L846.3 455.9M846.8 454.8L850.6 460.9M843.2 466.4L846.3 470.3M846.7 470.5L850.6 475.2M841.2 478.4L846.3 484.6M846.4 483.5L850.6 489.6M841.3 493.3L846.3 498.9M845.2 498.8L850.6 503.9M841.9 509.1L846.3 513.2M846.4 513.6L850.6 518.2M842.0 522.9L846.3 527.5M846.2 527.0L850.6 532.5M843.2 538.1L846.3 541.9M847.1 542.4L850.6 546.8M841.6 550.6L846.3 556.2M845.8 555.1L850.6 561.2M842.6 565.3L846.3 570.5M847.1 570.2L850.6 575.5M843.1 580.7L846.3 584.8M845.1 584.1L850.6 589.8M843.0 594.1L846.3 599.1M847.5 598.9L850.6 604.1M841.0 608.8L846.3 613.5M847.0 612.9L850.6 618.4M841.0 622.4L846.3 627.8M847.4 628.4L850.6 632.8M841.1 636.5L846.3 642.1M845.4 641.0L850.6 647.1M842.7 650.7L846.3 656.4M846.5 656.3L850.6 661.4M841.3 666.3L846.3 670.7M845.4 671.1L850.6 675.7M841.1 679.9L846.3 685.1M845.6 684.5L850.6 690.0M843.1 695.1L846.3 699.4M845.8 700.3L850.6 704.4M841.3 708.5L846.3 713.7M847.2 714.0L850.6 718.7M841.0 724.2L846.3 728.0M845.6 727.4L850.6 733.0M842.7 736.9L846.3 742.3M845.8 741.3L850.6 747.3M841.0 751.9L846.3 756.7M845.7 756.9L850.6 761.6M841.7 765.9L846.3 771.0M851.7 403.6L855.0 408.6M855.1 409.5L859.3 413.6M849.9 417.1L855.0 422.9M855.9 423.7L859.3 427.9M850.0 431.5L855.0 437.3M855.5 438.3L859.3 442.2M849.9 447.7L855.0 451.6M855.9 451.8L859.3 456.6M850.4 460.0L855.0 465.9M853.8 467.0L859.3 470.9M850.0 475.7L855.0 480.2M854.4 481.0L859.3 485.2M850.9 489.1L855.0 494.5M854.2 495.1L859.3 499.5M849.6 503.2L855.0 508.9M855.1 509.7L859.3 513.8M850.9 517.7L855.0 523.2M856.0 522.5L859.3 528.2M849.5 532.0L855.0 537.5M854.8 536.4L859.3 542.5M849.9 546.5L855.0 551.8M855.1 550.9L859.3 556.8M850.3 562.1L855.0 566.1M856.1 566.5L859.3 571.1M851.1 575.7L855.0 580.5M854.1 579.3L859.3 585.4M849.5 590.8L855.0 594.8M855.4 595.9L859.3 599.8M849.5 604.4L855.0 609.1M854.9 609.6L859.3 614.1M850.2 619.6L855.0 623.4M853.9 623.5L859.3 628.4M851.2 633.7L855.0 637.7M855.5 638.2L859.3 642.7M851.3 648.1L855.0 652.1M854.6 652.5L859.3 657.0M851.6 662.3L855.0 666.4M854.8 667.1L859.3 671.4M851.5 675.9L855.0 680.7M855.3 680.4L859.3 685.7M850.8 690.3L855.0 695.0M853.9 695.3L859.3 700.0M851.8 705.3L855.0 709.3M855.5 709.1L859.3 714.3M851.2 718.9L855.0 723.7M854.8 724.5L859.3 728.6M849.6 733.6L855.0 738.0M853.8 738.2L859.3 743.0M850.6 746.7L855.0 752.3M855.4 752.3L859.3 757.3M850.9 762.6L855.0 766.6M858.7 398.1L863.6 404.3M863.1 404.7L867.9 409.2M858.6 412.8L863.6 418.6M864.6 419.0L867.9 423.5M859.1 428.9L863.6 432.9M863.2 433.3L867.9 437.9M858.5 442.1L863.6 447.2M864.3 448.2L867.9 452.2M860.2 456.3L863.6 461.5M863.8 461.1L867.9 466.5M858.4 470.9L863.6 475.9M864.4 476.7L867.9 480.8M859.8 486.3L863.6 490.2M863.1 489.4L867.9 495.1M859.2 499.0L863.6 504.5M862.9 504.3L867.9 509.5M859.6 513.8L863.6 518.8M863.1 519.6L867.9 523.8M860.4 528.0L863.6 533.1M862.6 532.0L867.9 538.1M860.2 541.4L863.6 547.5M864.1 547.6L867.9 552.4M858.8 557.5L863.6 561.8M862.4 560.9L867.9 566.7M859.2 570.0L863.6 576.1M864.4 575.5L867.9 581.1M858.4 584.3L863.6 590.4M863.9 590.3L867.9 595.4M859.6 600.1L863.6 604.7M864.3 605.8L867.9 609.7M859.7 613.4L863.6 619.1M863.5 618.3L867.9 624.0M858.1 628.3L863.6 633.4M864.1 632.6L867.9 638.3M858.7 642.3L863.6 647.7M864.1 647.7L867.9 652.7M859.5 657.6L863.6 662.0M863.3 662.7L867.9 667.0M860.2 670.4L863.6 676.3M864.6 676.9L867.9 681.3M858.4 685.6L863.6 690.7M863.9 691.6L867.9 695.6M859.0 700.2L863.6 705.0M864.5 705.7L867.9 709.9M860.3 714.2L863.6 719.3M864.0 718.6L867.9 724.3M859.8 729.4L863.6 733.6M863.9 734.1L867.9 738.6M858.6 743.9L863.6 747.9M864.7 749.1L867.9 752.9M859.4 758.0L863.6 762.3M867.5 395.9L872.2 399.9M873.1 399.5L876.5 404.9M866.9 409.1L872.2 414.2M872.3 414.9L876.5 419.2M867.9 422.4L872.2 428.5M873.0 427.5L876.5 433.5M868.6 437.1L872.2 442.8M871.8 443.5L876.5 447.8M867.0 451.3L872.2 457.2M872.3 457.7L876.5 462.1M868.7 467.0L872.2 471.5M873.3 471.5L876.5 476.5M869.0 479.8L872.2 485.8M871.6 485.9L876.5 490.8M867.4 495.7L872.2 500.1M872.6 500.2L876.5 505.1M868.7 509.6L872.2 514.4M871.8 514.2L876.5 519.4M868.7 524.8L872.2 528.8M871.5 529.6L876.5 533.7M869.0 538.2L872.2 543.1M872.4 542.4L876.5 548.1M868.0 552.4L872.2 557.4M872.5 556.3L876.5 562.4M869.0 566.8L872.2 571.7M872.0 572.4L876.5 576.7M868.1 581.0L872.2 586.0M872.7 585.0L876.5 591.0M868.0 595.2L872.2 600.4M873.3 601.4L876.5 605.3M867.4 609.6L872.2 614.7M871.3 614.5L876.5 619.7M868.7 625.0L872.2 629.0M872.2 628.6L876.5 634.0M867.2 638.6L872.2 643.3M873.2 642.4L876.5 648.3M868.6 651.5L872.2 657.6M871.5 657.0L876.5 662.6M868.4 666.6L872.2 672.0M871.9 672.3L876.5 676.9M867.0 681.9L872.2 686.3M871.3 686.3L876.5 691.3M867.3 694.9L872.2 700.6M872.3 700.5L876.5 705.6M867.6 709.7L872.2 714.9M872.3 714.1L876.5 719.9M867.2 724.6L872.2 729.2M872.6 729.3L876.5 734.2M868.8 738.9L872.2 743.6M873.1 742.9L876.5 748.5M868.5 753.7L872.2 757.9M877.5 390.1L880.9 395.5M880.4 396.5L885.2 400.5M875.9 406.1L880.9 409.8M881.8 409.0L885.2 414.8M875.9 419.7L880.9 424.2M880.3 423.2L885.2 429.1M877.3 433.3L880.9 438.5M881.6 437.6L885.2 443.5M876.3 448.3L880.9 452.8M879.7 452.1L885.2 457.8M877.0 463.1L880.9 467.1M882.0 466.2L885.2 472.1M876.6 477.1L880.9 481.4M880.9 481.9L885.2 486.4M875.8 489.8L880.9 495.8M879.9 494.7L885.2 500.7M876.7 505.1L880.9 510.1M881.0 509.2L885.2 515.1M875.8 518.7L880.9 524.4M881.7 525.6L885.2 529.4M877.6 532.8L880.9 538.7M879.8 539.8L885.2 543.7M876.5 548.7L880.9 553.0M880.4 553.0L885.2 558.0M876.6 562.2L880.9 567.4M881.1 566.2L885.2 572.3M877.0 577.5L880.9 581.7M880.1 581.6L885.2 586.7M877.1 590.8L880.9 596.0M880.1 595.2L885.2 601.0M876.6 604.2L880.9 610.3M881.8 611.0L885.2 615.3M877.0 620.5L880.9 624.6M881.2 624.4L885.2 629.6M876.8 634.0L880.9 639.0M882.0 639.7L885.2 643.9M876.0 649.3L880.9 653.3M881.5 654.0L885.2 658.3M877.3 662.4L880.9 667.6M881.8 668.5L885.2 672.6M877.0 677.6L880.9 681.9M881.5 681.7L885.2 686.9M877.1 690.2L880.9 696.2M880.5 696.2L885.2 701.2M875.4 705.2L880.9 710.6M881.2 710.9L885.2 715.5M875.9 721.0L880.9 724.9M881.3 724.5L885.2 729.9M876.9 734.4L880.9 739.2M880.9 738.9L885.2 744.2M877.7 748.9L880.9 753.5M885.7 386.8L889.5 391.2M890.7 390.0L893.8 396.1M885.5 401.1L889.5 405.5M888.9 405.2L893.8 410.5M884.1 414.1L889.5 419.8M889.2 418.8L893.8 424.8M884.6 430.1L889.5 434.1M889.6 434.1L893.8 439.1M886.3 443.6L889.5 448.4M890.7 448.8L893.8 453.4M885.9 456.8L889.5 462.8M889.7 463.4L893.8 467.7M884.1 473.1L889.5 477.1M888.7 477.0L893.8 482.1M884.4 486.4L889.5 491.4M889.8 490.3L893.8 496.4M886.3 500.6L889.5 505.7M889.6 506.0L893.8 510.7M884.9 514.5L889.5 520.0M889.9 520.2L893.8 525.0M884.7 529.9L889.5 534.4M889.0 533.2L893.8 539.3M884.6 542.6L889.5 548.7M888.7 549.3L893.8 553.7M884.9 559.0L889.5 563.0M890.1 561.9L893.8 568.0M886.4 573.4L889.5 577.3M888.5 578.3L893.8 582.3M885.0 586.6L889.5 591.6M890.6 591.0L893.8 596.6M885.2 602.0L889.5 606.0M890.0 605.9L893.8 610.9M886.3 616.1L889.5 620.3M889.7 619.4L893.8 625.3M885.5 629.5L889.5 634.6M888.8 633.5L893.8 639.6M885.2 643.0L889.5 648.9M889.4 649.3L893.8 653.9M885.1 657.7L889.5 663.2M889.7 663.0L893.8 668.2M885.8 672.7L889.5 677.6M890.7 678.6L893.8 682.5M885.7 686.3L889.5 691.9M888.6 692.8L893.8 696.9M885.9 701.5L889.5 706.2M889.2 705.7L893.8 711.2M885.6 715.7L889.5 720.5M889.7 720.8L893.8 725.5M885.8 729.1L889.5 734.8M888.9 736.0L893.8 739.8M886.2 745.1L889.5 749.2M892.7 380.8L898.1 386.8M897.6 386.6L902.5 391.8M894.1 395.2L898.1 401.1M898.2 400.1L902.5 406.1M892.8 410.9L898.1 415.4M898.3 415.8L902.5 420.4M893.5 424.7L898.1 429.8M897.4 429.4L902.5 434.7M894.4 439.9L898.1 444.1M897.1 443.2L902.5 449.1M894.6 453.7L898.1 458.4M898.8 457.7L902.5 463.4M893.6 467.2L898.1 472.7M898.9 472.4L902.5 477.7M894.2 483.2L898.1 487.0M897.7 487.2L902.5 492.0M894.4 497.4L898.1 501.4M898.0 501.0L902.5 506.3M892.9 511.6L898.1 515.7M897.1 514.7L902.5 520.7M894.0 525.0L898.1 530.0M898.6 529.5L902.5 535.0M894.5 538.3L898.1 544.3M897.4 544.7L902.5 549.3M892.8 553.2L898.1 558.6M898.7 559.1L902.5 563.6M893.3 567.1L898.1 573.0M897.8 573.5L902.5 577.9M893.5 581.4L898.1 587.3M898.6 587.4L902.5 592.3M894.8 597.7L898.1 601.6M899.1 601.4L902.5 606.6M894.5 610.5L898.1 615.9M897.7 615.7L902.5 620.9M894.9 626.2L898.1 630.2M897.5 629.9L902.5 635.2M893.5 639.3L898.1 644.6M897.9 644.3L902.5 649.5M893.1 654.1L898.1 658.9M898.8 659.0L902.5 663.9M894.6 668.4L898.1 673.2M897.4 673.8L902.5 678.2M894.7 682.0L898.1 687.5M897.0 687.6L902.5 692.5M893.9 697.0L898.1 701.8M899.3 702.2L902.5 706.8M894.5 710.1L898.1 716.2M898.2 716.8L902.5 721.1M892.8 724.5L898.1 730.5M898.7 731.4L902.5 735.5M892.8 740.1L898.1 744.8M901.6 378.0L906.8 382.4M907.1 381.8L911.1 387.4M901.8 392.4L906.8 396.8M906.8 397.4L911.1 401.7M902.2 405.7L906.8 411.1M907.9 411.5L911.1 416.1M902.4 420.5L906.8 425.4M907.3 425.9L911.1 430.4M903.5 434.5L906.8 439.7M907.6 440.1L911.1 444.7M903.3 449.8L906.8 454.0M907.6 455.0L911.1 459.0M903.6 463.7L906.8 468.4M906.8 468.9L911.1 473.3M903.2 477.5L906.8 482.7M906.6 481.8L911.1 487.7M903.0 493.2L906.8 497.0M906.5 496.2L911.1 502.0M901.7 506.2L906.8 511.3M906.3 512.4L911.1 516.3M901.4 520.2L906.8 525.6M905.8 526.0L911.1 530.6M903.1 534.2L906.8 540.0M905.7 539.9L911.1 544.9M902.7 550.3L906.8 554.3M905.7 553.3L911.1 559.3M901.7 562.9L906.8 568.6M906.1 569.1L911.1 573.6M902.7 577.3L906.8 582.9M906.0 582.4L911.1 587.9M901.7 592.9L906.8 597.2M906.3 597.3L911.1 602.2M903.2 606.5L906.8 611.6M906.2 612.5L911.1 616.5M903.4 620.5L906.8 625.9M906.9 627.0L911.1 630.9M902.4 634.5L906.8 640.2M905.7 641.3L911.1 645.2M903.2 649.3L906.8 654.5M906.8 654.6L911.1 659.5M901.9 665.0L906.8 668.8M907.2 668.2L911.1 673.8M901.3 678.1L906.8 683.2M906.5 683.9L911.1 688.1M903.0 692.7L906.8 697.5M906.0 696.6L911.1 702.5M902.0 706.2L906.8 711.8M907.7 711.8L911.1 716.8M902.8 722.3L906.8 726.1M906.2 726.2L911.1 731.1M901.6 736.1L906.8 740.4M909.9 373.9L915.4 378.1M916.2 378.8L919.7 383.0M910.1 386.9L915.4 392.4M915.9 391.4L919.7 397.4M911.0 401.7L915.4 406.7M916.5 406.9L919.7 411.7M911.9 415.6L915.4 421.0M916.1 420.8L919.7 426.0M912.1 429.4L915.4 435.3M916.2 434.6L919.7 440.3M911.2 444.8L915.4 449.7M914.6 450.5L919.7 454.6M910.6 458.6L915.4 464.0M914.4 463.5L919.7 469.0M911.0 473.8L915.4 478.3M915.1 478.8L919.7 483.3M910.1 487.4L915.4 492.6M915.3 493.7L919.7 497.6M911.9 502.3L915.4 506.9M914.2 506.7L919.7 511.9M911.6 515.7L915.4 521.3M915.6 521.2L919.7 526.2M909.9 531.8L915.4 535.6M916.1 534.9L919.7 540.6M911.4 544.4L915.4 549.9M915.1 550.0L919.7 554.9M910.6 558.9L915.4 564.2M915.2 564.6L919.7 569.2M910.5 572.9L915.4 578.5M916.0 578.1L919.7 583.5M912.2 588.0L915.4 592.9M915.9 592.5L919.7 597.8M911.9 601.2L915.4 607.2M914.5 606.2L919.7 612.2M911.5 617.0L915.4 621.5M914.6 621.3L919.7 626.5M911.9 631.1L915.4 635.8M914.4 635.2L919.7 640.8M910.3 644.3L915.4 650.1M915.2 649.1L919.7 655.1M912.1 659.3L915.4 664.5M915.4 664.8L919.7 669.4M911.7 674.6L915.4 678.8M915.1 678.4L919.7 683.8M910.9 687.0L915.4 693.1M915.2 693.6L919.7 698.1M912.2 703.1L915.4 707.4M915.8 707.7L919.7 712.4M909.9 716.4L915.4 721.7M915.0 722.1L919.7 726.7M910.1 730.8L915.4 736.1M919.7 369.4L924.0 373.7M924.8 374.0L928.4 378.7M918.9 383.7L924.0 388.0M925.0 388.1L928.4 393.0M919.4 397.4L924.0 402.3M923.2 402.9L928.4 407.3M920.9 411.7L924.0 416.7M924.6 417.5L928.4 421.6M919.0 427.1L924.0 431.0M924.4 430.3L928.4 436.0M918.7 439.7L924.0 445.3M924.2 445.8L928.4 450.3M919.3 455.7L924.0 459.6M923.7 459.5L928.4 464.6M918.8 470.1L924.0 473.9M923.2 474.9L928.4 478.9M919.8 483.4L924.0 488.3M924.2 487.7L928.4 493.2M920.7 498.8L924.0 502.6M924.8 502.8L928.4 507.6M918.8 512.7L924.0 516.9M923.5 517.9L928.4 521.9M919.1 526.4L924.0 531.2M924.8 530.5L928.4 536.2M919.8 539.6L924.0 545.5M922.9 544.8L928.4 550.5M920.9 555.9L924.0 559.9M924.4 559.4L928.4 564.8M920.1 569.8L924.0 574.2M923.8 574.4L928.4 579.2M920.5 582.4L924.0 588.5M923.3 588.4L928.4 593.5M918.9 597.6L924.0 602.8M924.2 602.0L928.4 607.8M919.8 611.6L924.0 617.1M924.2 616.7L928.4 622.1M920.1 625.4L924.0 631.5M924.5 630.6L928.4 636.4M920.8 641.0L924.0 645.8M924.0 645.6L928.4 650.8M920.0 655.6L924.0 660.1M924.7 660.7L928.4 665.1M919.7 670.6L924.0 674.4M924.9 675.3L928.4 679.4M919.5 683.6L924.0 688.7M924.2 689.7L928.4 693.7M919.8 698.1L924.0 703.1M923.9 704.0L928.4 708.0M919.3 711.3L924.0 717.4M924.6 718.3L928.4 722.4M920.3 727.0L924.0 731.7M929.0 363.9L932.7 369.3M932.9 368.3L937.0 374.3M927.5 378.6L932.7 383.7M932.7 383.4L937.0 388.6M927.3 393.5L932.7 398.0M932.7 397.4L937.0 403.0M927.9 407.1L932.7 412.3M932.0 411.3L937.0 417.3M929.4 422.8L932.7 426.6M933.1 427.5L937.0 431.6M928.2 436.7L932.7 440.9M932.0 441.5L937.0 445.9M928.5 451.3L932.7 455.3M931.7 456.0L937.0 460.2M927.5 464.7L932.7 469.6M933.8 468.4L937.0 474.6M927.7 478.4L932.7 483.9M932.3 482.9L937.0 488.9M929.3 494.0L932.7 498.2M932.4 497.9L937.0 503.2M928.6 506.5L932.7 512.5M931.6 513.5L937.0 517.5M927.9 521.9L932.7 526.9M933.7 528.0L937.0 531.8M928.3 535.5L932.7 541.2M932.2 542.2L937.0 546.2M929.3 549.8L932.7 555.5M933.5 555.2L937.0 560.5M928.3 564.1L932.7 569.8M933.6 571.0L937.0 574.8M927.6 579.5L932.7 584.1M931.9 585.1L937.0 589.1M927.3 592.5L932.7 598.5M933.2 598.0L937.0 603.4M929.3 608.7L932.7 612.8M933.2 611.9L937.0 617.8M928.8 623.2L932.7 627.1M932.6 626.1L937.0 632.1M927.7 636.0L932.7 641.4M933.2 640.7L937.0 646.4M927.6 650.1L932.7 655.7M933.1 656.4L937.0 660.7M928.1 665.5L932.7 670.1M933.6 670.3L937.0 675.0M927.7 678.9L932.7 684.4M933.7 684.8L937.0 689.4M927.8 694.1L932.7 698.7M931.7 699.9L937.0 703.7M928.2 708.1L932.7 713.0M932.8 711.9L937.0 718.0M928.6 721.8L932.7 727.3M936.4 360.7L941.3 365.0M940.3 364.5L945.6 370.0M937.6 373.7L941.3 379.3M940.8 379.4L945.6 384.3M936.2 389.6L941.3 393.6M942.5 392.5L945.6 398.6M936.9 403.6L941.3 407.9M941.0 409.0L945.6 412.9M937.0 416.5L941.3 422.3M941.5 422.6L945.6 427.2M936.7 432.0L941.3 436.6M942.0 436.6L945.6 441.6M937.0 446.7L941.3 450.9M941.8 450.9L945.6 455.9M938.1 459.5L941.3 465.2M942.0 464.4L945.6 470.2M937.3 473.9L941.3 479.5M941.2 480.2L945.6 484.5M937.7 489.6L941.3 493.9M940.7 493.8L945.6 498.8M936.3 503.4L941.3 508.2M941.3 507.1L945.6 513.2M937.2 518.0L941.3 522.5M941.5 523.4L945.6 527.5M936.2 531.0L941.3 536.8M940.2 536.8L945.6 541.8M936.8 546.0L941.3 551.1M940.7 551.9L945.6 556.1M936.0 561.5L941.3 565.5M941.5 565.6L945.6 570.4M937.7 574.2L941.3 579.8M940.5 579.3L945.6 584.8M935.9 588.7L941.3 594.1M941.6 594.2L945.6 599.1M936.4 603.7L941.3 608.4M940.3 609.2L945.6 613.4M936.2 617.2L941.3 622.7M940.5 623.2L945.6 627.7M937.8 632.8L941.3 637.1M940.3 636.8L945.6 642.0M936.7 645.7L941.3 651.4M942.4 650.3L945.6 656.4M937.0 661.3L941.3 665.7M942.5 664.8L945.6 670.7M936.9 675.6L941.3 680.0M940.2 679.4L945.6 685.0M937.9 688.5L941.3 694.3M941.1 693.9L945.6 699.3M936.8 702.7L941.3 708.7M940.2 709.8L945.6 713.6M937.6 718.6L941.3 723.0M945.0 355.0L950.0 360.6M950.1 360.0L954.3 365.6M945.5 371.0L950.0 374.9M949.6 374.5L954.3 379.9M946.8 384.5L950.0 389.3M948.8 389.0L954.3 394.2M946.0 397.5L950.0 403.6M949.6 404.0L954.3 408.6M946.5 413.1L950.0 417.9M950.9 417.8L954.3 422.9M945.4 428.1L950.0 432.2M949.7 432.9L954.3 437.2M945.0 441.2L950.0 446.5M949.2 446.7L954.3 451.5M944.8 455.2L950.0 460.9M949.3 460.8L954.3 465.8M945.2 470.1L950.0 475.2M951.1 475.6L954.3 480.2M946.5 483.8L950.0 489.5M949.7 488.5L954.3 494.5M946.1 498.5L950.0 503.8M949.4 502.7L954.3 508.8M944.9 512.6L950.0 518.1M949.7 519.2L954.3 523.1M946.2 526.9L950.0 532.5M949.6 531.6L954.3 537.4M946.7 541.5L950.0 546.8M950.6 547.3L954.3 551.8M946.6 555.0L950.0 561.1M949.5 560.8L954.3 566.1M944.6 571.4L950.0 575.4M949.5 576.1L954.3 580.4M945.7 583.7L950.0 589.7M949.7 589.1L954.3 594.7M944.5 598.2L950.0 604.1M950.2 602.9L954.3 609.0M945.2 613.2L950.0 618.4M950.1 617.5L954.3 623.4M946.1 627.1L950.0 632.7M950.5 633.1L954.3 637.7M944.8 641.3L950.0 647.0M949.4 647.5L954.3 652.0M945.4 656.1L950.0 661.3M950.8 660.7L954.3 666.3M945.1 670.3L950.0 675.7M949.3 674.6L954.3 680.6M944.5 685.3L950.0 690.0M950.1 690.7L954.3 695.0M946.8 698.8L950.0 704.3M950.4 705.3L954.3 709.3M945.0 714.1L950.0 718.6M954.7 352.4L958.6 356.3M959.5 355.6L962.9 361.2M954.6 364.6L958.6 370.6M958.4 370.3L962.9 375.5M953.2 379.6L958.6 384.9M958.2 384.9L962.9 389.9M953.7 393.4L958.6 399.2M958.4 399.2L962.9 404.2M953.5 408.9L958.6 413.5M958.0 412.6L962.9 418.5M953.9 422.7L958.6 427.9M957.8 428.0L962.9 432.8M954.8 437.3L958.6 442.2M959.1 441.0L962.9 447.1M954.0 451.2L958.6 456.5M957.5 456.3L962.9 461.5M953.2 465.8L958.6 470.8M958.8 470.7L962.9 475.8M953.9 479.6L958.6 485.1M957.4 484.8L962.9 490.1M955.2 494.6L958.6 499.5M958.0 499.9L962.9 504.4M953.5 508.7L958.6 513.8M958.9 514.9L962.9 518.7M953.9 523.3L958.6 528.1M959.7 528.7L962.9 533.1M954.6 537.7L958.6 542.4M958.4 542.2L962.9 547.4M953.7 552.5L958.6 556.7M959.5 556.4L962.9 561.7M955.3 565.0L958.6 571.1M957.7 571.1L962.9 576.0M953.8 580.1L958.6 585.4M959.7 584.5L962.9 590.3M953.5 594.1L958.6 599.7M959.0 599.1L962.9 604.7M953.1 609.1L958.6 614.0M958.3 613.4L962.9 619.0M954.3 623.7L958.6 628.3M958.7 628.6L962.9 633.3M954.4 638.5L958.6 642.7M959.7 642.3L962.9 647.6M953.9 652.9L958.6 657.0M958.1 657.5L962.9 661.9M954.7 666.8L958.6 671.3M959.7 672.1L962.9 676.3M953.5 680.9L958.6 685.6M958.6 685.8L962.9 690.6M954.0 694.4L958.6 699.9M959.2 700.0L962.9 704.9M953.6 708.7L958.6 714.3M962.5 346.1L967.2 351.9M967.3 351.0L971.5 356.9M961.9 360.2L967.2 366.2M966.3 366.7L971.5 371.2M962.0 375.4L967.2 380.5M967.9 380.5L971.5 385.5M962.1 390.7L967.2 394.8M968.1 393.8L971.5 399.8M962.3 404.2L967.2 409.2M967.9 408.9L971.5 414.1M963.4 417.9L967.2 423.5M967.7 423.1L971.5 428.5M962.5 433.5L967.2 437.8M968.0 438.6L971.5 442.8M963.1 447.0L967.2 452.1M967.7 452.4L971.5 457.1M963.7 462.2L967.2 466.4M966.3 466.2L971.5 471.4M963.3 475.1L967.2 480.8M966.5 479.6L971.5 485.7M963.1 491.2L967.2 495.1M968.4 494.2L971.5 500.1M963.4 504.2L967.2 509.4M967.5 509.2L971.5 514.4M963.9 519.9L967.2 523.7M966.1 524.2L971.5 528.7M962.0 532.0L967.2 538.0M966.7 538.6L971.5 543.0M964.1 546.5L967.2 552.4M966.8 551.2L971.5 557.3M963.0 561.7L967.2 566.7M966.9 566.2L971.5 571.7M963.6 576.8L967.2 581.0M966.7 580.7L971.5 586.0M963.2 591.0L967.2 595.3M968.4 595.1L971.5 600.3M963.4 604.8L967.2 609.6M967.9 608.8L971.5 614.6M962.1 618.0L967.2 624.0M968.3 623.4L971.5 628.9M962.9 632.4L967.2 638.3M966.8 637.1L971.5 643.3M963.1 646.8L967.2 652.6M967.5 652.1L971.5 657.6M962.3 661.9L967.2 666.9M966.9 666.4L971.5 671.9M961.8 675.2L967.2 681.2M968.2 680.8L971.5 686.2M961.9 689.8L967.2 695.6M967.2 696.8L971.5 700.5M962.2 705.8L967.2 709.9M971.5 342.3L975.9 347.5M976.6 347.3L980.2 352.5M970.5 357.0L975.9 361.8M976.2 362.1L980.2 366.8M971.0 372.2L975.9 376.2M976.7 377.3L980.2 381.1M971.4 386.3L975.9 390.5M976.4 389.7L980.2 395.5M970.4 399.0L975.9 404.8M974.9 403.8L980.2 409.8M971.2 414.8L975.9 419.1M975.4 419.2L980.2 424.1M970.4 427.8L975.9 433.4M977.0 432.3L980.2 438.4M971.6 443.5L975.9 447.8M976.6 448.3L980.2 452.7M971.3 457.8L975.9 462.1M976.7 462.7L980.2 467.1M972.7 470.5L975.9 476.4M976.9 476.2L980.2 481.4M972.0 485.1L975.9 490.7M976.8 489.6L980.2 495.7M971.7 499.4L975.9 505.0M975.6 504.7L980.2 510.0M971.9 515.1L975.9 519.4M975.5 519.7L980.2 524.3M971.2 528.2L975.9 533.7M976.8 533.3L980.2 538.7M970.6 542.6L975.9 548.0M976.4 547.3L980.2 553.0M972.1 557.5L975.9 562.3M976.3 561.5L980.2 567.3M970.6 570.8L975.9 576.6M975.5 576.5L980.2 581.6M970.4 586.0L975.9 591.0M975.6 590.5L980.2 595.9M971.6 601.4L975.9 605.3M975.2 606.2L980.2 610.3M971.1 615.2L975.9 619.6M974.9 620.8L980.2 624.6M971.4 630.1L975.9 633.9M975.2 633.7L980.2 638.9M972.0 642.5L975.9 648.2M975.3 648.7L980.2 653.2M972.6 657.2L975.9 662.6M975.1 662.2L980.2 667.5M972.7 671.1L975.9 676.9M976.2 676.6L980.2 681.9M971.9 685.5L975.9 691.2M976.1 692.1L980.2 696.2M972.4 700.9L975.9 705.5M980.2 338.3L984.5 343.2M983.6 344.0L988.8 348.1M980.6 352.4L984.5 357.5M984.9 357.3L988.8 362.5M979.9 366.2L984.5 371.8M984.7 372.0L988.8 376.8M980.2 380.0L984.5 386.1M984.8 386.0L988.8 391.1M980.4 395.7L984.5 400.4M985.5 399.6L988.8 405.4M980.1 411.0L984.5 414.8M985.1 414.3L988.8 419.7M980.8 425.3L984.5 429.1M984.3 430.0L988.8 434.1M979.3 439.6L984.5 443.4M984.5 442.8L988.8 448.4M981.0 453.1L984.5 457.7M985.6 458.5L988.8 462.7M980.9 467.1L984.5 472.0M985.7 471.0L988.8 477.0M981.1 481.9L984.5 486.4M983.9 487.1L988.8 491.3M980.1 495.8L984.5 500.7M985.4 500.0L988.8 505.7M979.7 510.4L984.5 515.0M983.5 515.1L988.8 520.0M980.9 524.3L984.5 529.3M983.9 530.0L988.8 534.3M981.0 539.3L984.5 543.6M984.6 544.6L988.8 548.6M980.9 552.1L984.5 558.0M984.2 557.0L988.8 562.9M979.1 566.9L984.5 572.3M985.4 573.1L988.8 577.3M979.3 580.9L984.5 586.6M984.2 587.4L988.8 591.6M980.5 596.9L984.5 600.9M983.5 602.1L988.8 605.9M979.5 610.6L984.5 615.2M985.4 615.8L988.8 620.2M979.5 625.0L984.5 629.6M984.3 628.4L988.8 634.5M979.8 638.5L984.5 643.9M984.8 643.3L988.8 648.9M980.4 653.7L984.5 658.2M983.7 657.3L988.8 663.2M980.6 667.5L984.5 672.5M983.6 671.6L988.8 677.5M981.2 682.1L984.5 686.8M984.2 686.1L988.8 691.8M981.4 696.6L984.5 701.2M989.4 333.5L993.1 338.8M992.7 338.6L997.5 343.8M988.0 348.5L993.1 353.1M993.0 353.9L997.5 358.1M988.6 362.4L993.1 367.4M993.2 368.5L997.5 372.4M988.4 377.3L993.1 381.8M992.5 381.9L997.5 386.7M988.3 392.0L993.1 396.1M992.6 396.9L997.5 401.1M989.2 405.3L993.1 410.4M994.2 410.1L997.5 415.4M989.4 420.0L993.1 424.7M993.0 423.7L997.5 429.7M988.6 433.5L993.1 439.0M993.0 440.1L997.5 444.0M988.3 448.8L993.1 453.4M993.5 452.7L997.5 458.3M988.6 461.8L993.1 467.7M994.1 467.1L997.5 472.7M988.6 476.6L993.1 482.0M993.9 482.8L997.5 487.0M989.0 491.4L993.1 496.3M992.2 497.3L997.5 501.3M987.8 505.3L993.1 510.6M992.8 511.2L997.5 515.6M989.2 519.6L993.1 525.0M994.1 526.0L997.5 529.9M987.7 534.6L993.1 539.3M993.1 538.9L997.5 544.3M988.7 548.2L993.1 553.6M993.5 553.8L997.5 558.6M989.9 564.1L993.1 567.9M994.3 567.7L997.5 572.9M989.6 577.6L993.1 582.2M993.6 583.4L997.5 587.2M987.8 591.5L993.1 596.6M992.9 596.9L997.5 601.5M988.1 607.1L993.1 610.9M992.4 610.6L997.5 615.9M988.0 620.0L993.1 625.2M993.7 624.2L997.5 630.2M988.0 634.9L993.1 639.5M993.4 640.1L997.5 644.5M988.2 649.6L993.1 653.8M993.7 654.5L997.5 658.8M987.9 663.1L993.1 668.2M992.0 669.0L997.5 673.1M989.9 678.4L993.1 682.5M992.0 682.1L997.5 687.5M988.9 691.9L993.1 696.8M996.5 330.1L1001.8 334.4M1001.3 334.5L1006.1 339.4M996.6 343.9L1001.8 348.8M1000.9 347.8L1006.1 353.7M997.5 357.6L1001.8 363.1M1002.4 362.5L1006.1 368.1M997.2 371.3L1001.8 377.4M1001.1 377.3L1006.1 382.4M997.6 386.6L1001.8 391.7M1002.6 390.8L1006.1 396.7M998.3 400.2L1001.8 406.0M1002.9 406.1L1006.1 411.0M997.2 415.6L1001.8 420.4M1002.6 421.5L1006.1 425.3M997.2 428.5L1001.8 434.7M1000.9 435.4L1006.1 439.7M998.0 444.5L1001.8 449.0M1000.9 449.1L1006.1 454.0M996.3 457.4L1001.8 463.3M1001.3 464.4L1006.1 468.3M997.8 473.5L1001.8 477.6M1000.7 477.4L1006.1 482.6M996.4 486.4L1001.8 492.0M1000.8 493.0L1006.1 496.9M997.0 501.3L1001.8 506.3M1002.1 507.2L1006.1 511.3M998.5 515.8L1001.8 520.6M1001.8 521.6L1006.1 525.6M997.2 529.5L1001.8 534.9M1002.3 534.3L1006.1 539.9M997.1 544.1L1001.8 549.2M1001.7 548.9L1006.1 554.2M997.3 558.5L1001.8 563.6M1000.7 564.4L1006.1 568.5M996.4 573.0L1001.8 577.9M1001.9 577.6L1006.1 582.9M996.8 586.3L1001.8 592.2M1001.5 591.7L1006.1 597.2M997.4 600.9L1001.8 606.5M1002.4 606.5L1006.1 611.5M996.3 615.6L1001.8 620.8M1002.9 619.6L1006.1 625.8M997.7 631.3L1001.8 635.2M1001.5 635.4L1006.1 640.1M997.1 644.0L1001.8 649.5M1002.0 649.7L1006.1 654.5M997.0 658.8L1001.8 663.8M1001.8 664.4L1006.1 668.8M996.4 672.2L1001.8 678.1M1001.2 677.6L1006.1 683.1M998.2 687.3L1001.8 692.4M1007.0 324.9L1010.4 330.1M1009.9 330.5L1014.7 335.0M1005.1 340.6L1010.4 344.4M1011.2 344.0L1014.7 349.4M1005.7 354.5L1010.4 358.7M1011.1 359.1L1014.7 363.7M1005.0 368.7L1010.4 373.0M1009.3 373.3L1014.7 378.0M1006.2 383.4L1010.4 387.3M1010.7 386.2L1014.7 392.3M1007.1 397.3L1010.4 401.7M1010.6 400.5L1014.7 406.6M1006.7 410.8L1010.4 416.0M1010.8 417.1L1014.7 421.0M1007.1 424.3L1010.4 430.3M1011.1 430.2L1014.7 435.3M1006.7 439.4L1010.4 444.6M1010.3 444.5L1014.7 449.6M1005.2 453.5L1010.4 458.9M1011.0 457.9L1014.7 463.9M1005.2 469.1L1010.4 473.3M1010.8 473.4L1014.7 478.2M1005.2 481.7L1010.4 487.6M1010.0 488.7L1014.7 492.6M1006.2 497.9L1010.4 501.9M1009.7 501.7L1014.7 506.9M1006.2 512.1L1010.4 516.2M1009.5 517.1L1014.7 521.2M1006.0 524.4L1010.4 530.5M1010.2 530.3L1014.7 535.5M1006.5 540.9L1010.4 544.9M1010.4 545.3L1014.7 549.8M1005.8 554.9L1010.4 559.2M1009.5 559.8L1014.7 564.2M1005.3 568.7L1010.4 573.5M1009.7 573.1L1014.7 578.5M1005.3 582.5L1010.4 587.8M1010.6 587.9L1014.7 592.8M1005.8 597.3L1010.4 602.1M1011.2 601.8L1014.7 607.1M1006.3 611.4L1010.4 616.5M1011.6 616.1L1014.7 621.4M1006.6 625.2L1010.4 630.8M1009.8 631.3L1014.7 635.8M1006.3 639.5L1010.4 645.1M1009.4 645.9L1014.7 650.1M1005.8 655.0L1010.4 659.4M1010.2 659.7L1014.7 664.4M1006.2 669.9L1010.4 673.7M1011.4 673.6L1014.7 678.7M1006.1 682.4L1010.4 688.1M1015.3 319.8L1019.0 325.7M1018.6 326.5L1023.4 330.7M1013.6 335.5L1019.0 340.0M1019.2 340.1L1023.4 345.0M1014.3 348.5L1019.0 354.3M1020.1 355.0L1023.4 359.3M1015.5 362.7L1019.0 368.7M1019.7 368.0L1023.4 373.6M1014.0 378.1L1019.0 383.0M1019.3 382.1L1023.4 388.0M1015.4 392.5L1019.0 397.3M1020.0 398.3L1023.4 402.3M1015.2 406.3L1019.0 411.6M1020.1 412.2L1023.4 416.6M1014.2 421.8L1019.0 425.9M1019.6 425.4L1023.4 430.9M1014.1 434.1L1019.0 440.3M1019.1 439.7L1023.4 445.2M1014.2 449.0L1019.0 454.6M1018.2 454.5L1023.4 459.6M1014.2 463.4L1019.0 468.9M1018.5 468.9L1023.4 473.9M1015.6 477.4L1019.0 483.2M1019.9 484.1L1023.4 488.2M1015.0 492.7L1019.0 497.5M1019.6 497.6L1023.4 502.5M1015.1 507.9L1019.0 511.9M1019.7 511.3L1023.4 516.8M1013.7 522.3L1019.0 526.2M1018.7 526.9L1023.4 531.2M1014.1 535.4L1019.0 540.5M1018.7 541.1L1023.4 545.5M1015.8 549.9L1019.0 554.8M1019.2 554.5L1023.4 559.8M1014.1 565.2L1019.0 569.1M1018.1 570.2L1023.4 574.1M1015.1 577.5L1019.0 583.5M1020.0 582.5L1023.4 588.4M1014.9 591.9L1019.0 597.8M1020.2 597.3L1023.4 602.8M1015.6 606.1L1019.0 612.1M1019.4 611.1L1023.4 617.1M1013.6 621.6L1019.0 626.4M1020.2 626.9L1023.4 631.4M1015.6 636.5L1019.0 640.7M1019.1 639.7L1023.4 645.7M1014.8 649.3L1019.0 655.1M1019.1 654.7L1023.4 660.0M1014.7 663.7L1019.0 669.4M1019.5 669.2L1023.4 674.4M1014.7 677.7L1019.0 683.7M1023.3 316.5L1027.7 321.3M1028.8 321.5L1032.0 326.3M1022.5 330.2L1027.7 335.7M1027.3 336.1L1032.0 340.6M1024.4 346.1L1027.7 350.0M1028.8 351.0L1032.0 355.0M1024.2 360.4L1027.7 364.3M1026.5 364.3L1032.0 369.3M1023.6 374.1L1027.7 378.6M1028.0 378.9L1032.0 383.6M1024.4 387.0L1027.7 392.9M1027.7 394.0L1032.0 397.9M1022.2 401.4L1027.7 407.3M1028.6 408.4L1032.0 412.2M1022.2 415.5L1027.7 421.6M1028.5 422.0L1032.0 426.6M1023.4 431.1L1027.7 435.9M1028.3 436.6L1032.0 440.9M1022.2 444.2L1027.7 450.2M1028.4 451.4L1032.0 455.2M1024.2 459.3L1027.7 464.5M1027.3 464.2L1032.0 469.5M1022.2 474.5L1027.7 478.9M1027.1 479.1L1032.0 483.8M1023.4 487.8L1027.7 493.2M1028.1 493.1L1032.0 498.2M1022.7 503.4L1027.7 507.5M1026.9 506.7L1032.0 512.5M1022.8 516.8L1027.7 521.8M1028.4 521.4L1032.0 526.8M1022.7 531.5L1027.7 536.1M1027.1 536.2L1032.0 541.1M1022.8 546.4L1027.7 550.5M1026.9 549.8L1032.0 555.4M1022.9 559.4L1027.7 564.8M1028.2 565.2L1032.0 569.8M1024.1 574.2L1027.7 579.1M1026.7 579.7L1032.0 584.1M1022.8 587.8L1027.7 593.4M1027.5 594.6L1032.0 598.4M1023.1 602.4L1027.7 607.7M1028.7 608.9L1032.0 612.7M1023.1 616.2L1027.7 622.1M1028.4 622.7L1032.0 627.0M1023.0 632.1L1027.7 636.4M1027.4 635.9L1032.0 641.4M1023.6 646.3L1027.7 650.7M1027.6 651.5L1032.0 655.7M1022.2 660.0L1027.7 665.0M1027.4 664.0L1032.0 670.0M1024.4 673.5L1027.7 679.3M1031.3 312.9L1036.3 317.0M1037.4 318.0L1040.6 322.0M1031.6 327.4L1036.3 331.3M1035.5 331.8L1040.6 336.3M1033.1 339.9L1036.3 345.6M1035.4 346.0L1040.6 350.6M1032.9 355.5L1036.3 359.9M1037.4 359.8L1040.6 364.9M1031.7 368.4L1036.3 374.3M1035.8 375.3L1040.6 379.2M1031.0 382.8L1036.3 388.6M1036.0 387.5L1040.6 393.6M1031.5 397.2L1036.3 402.9M1035.4 403.0L1040.6 407.9M1032.1 412.4L1036.3 417.2M1036.9 417.3L1040.6 422.2M1033.1 425.6L1036.3 431.5M1035.7 430.5L1040.6 436.5M1031.5 441.5L1036.3 445.9M1037.3 445.9L1040.6 450.8M1031.2 454.8L1036.3 460.2M1036.5 459.7L1040.6 465.2M1032.7 470.7L1036.3 474.5M1036.2 474.7L1040.6 479.5M1032.8 483.8L1036.3 488.8M1035.6 489.9L1040.6 493.8M1033.1 497.0L1036.3 503.1M1036.9 502.9L1040.6 508.1M1030.9 511.7L1036.3 517.5M1035.5 518.0L1040.6 522.4M1031.3 525.6L1036.3 531.8M1035.6 532.5L1040.6 536.8M1032.0 541.5L1036.3 546.1M1036.2 545.3L1040.6 551.1M1030.8 555.0L1036.3 560.4M1035.2 559.8L1040.6 565.4M1032.3 569.4L1036.3 574.7M1036.3 575.0L1040.6 579.7M1031.6 583.7L1036.3 589.1M1037.2 589.3L1040.6 594.0M1031.8 598.5L1036.3 603.4M1036.2 603.0L1040.6 608.4M1033.0 612.1L1036.3 617.7M1037.4 618.5L1040.6 622.7M1032.9 626.2L1036.3 632.0M1036.3 633.2L1040.6 637.0M1031.5 640.6L1036.3 646.3M1036.9 645.7L1040.6 651.3M1032.2 654.9L1036.3 660.7M1037.4 660.1L1040.6 665.6M1031.0 670.4L1036.3 675.0" stroke="#98c8a6" stroke-width="1.3" fill="none" opacity="0.9"/><path d="M841.9 408.1L837.7 417.3M847.3 412.9L842.0 422.3M842.0 422.5L837.7 431.7M845.6 427.3L842.0 436.6M842.3 437.3L837.7 446.0M845.3 441.1L842.0 451.0M841.0 451.7L837.7 460.3M846.8 454.8L842.0 465.3M843.2 466.4L837.7 474.6M846.7 470.5L842.0 479.6M841.2 478.4L837.7 488.9M846.4 483.5L842.0 493.9M841.3 493.3L837.7 503.3M845.2 498.8L842.0 508.2M841.9 509.1L837.7 517.6M846.4 513.6L842.0 522.6M842.0 522.9L837.7 531.9M846.2 527.0L842.0 536.9M843.2 538.1L837.7 546.2M847.1 542.4L842.0 551.2M841.6 550.6L837.7 560.5M845.8 555.1L842.0 565.5M842.6 565.3L837.7 574.9M847.1 570.2L842.0 579.8M843.1 580.7L837.7 589.2M845.1 584.1L842.0 594.2M843.0 594.1L837.7 603.5M847.5 598.9L842.0 608.5M841.0 608.8L837.7 617.8M847.0 612.9L842.0 622.8M841.0 622.4L837.7 632.1M847.4 628.4L842.0 637.1M841.1 636.5L837.7 646.5M845.4 641.0L842.0 651.4M842.7 650.7L837.7 660.8M846.5 656.3L842.0 665.8M841.3 666.3L837.7 675.1M845.4 671.1L842.0 680.1M841.1 679.9L837.7 689.4M845.6 684.5L842.0 694.4M843.1 695.1L837.7 703.7M845.8 700.3L842.0 708.7M841.3 708.5L837.7 718.1M847.2 714.0L842.0 723.0M841.0 724.2L837.7 732.4M845.6 727.4L842.0 737.4M842.7 736.9L837.7 746.7M845.8 741.3L842.0 751.7M841.0 751.9L837.7 761.0M845.7 756.9L842.0 766.0M841.7 765.9L837.7 775.3M851.7 403.6L846.3 413.0M855.1 409.5L850.6 418.0M849.9 417.1L846.3 427.3M855.9 423.7L850.6 432.3M850.0 431.5L846.3 441.6M855.5 438.3L850.6 446.6M849.9 447.7L846.3 455.9M855.9 451.8L850.6 460.9M850.4 460.0L846.3 470.3M853.8 467.0L850.6 475.2M850.0 475.7L846.3 484.6M854.4 481.0L850.6 489.6M850.9 489.1L846.3 498.9M854.2 495.1L850.6 503.9M849.6 503.2L846.3 513.2M855.1 509.7L850.6 518.2M850.9 517.7L846.3 527.5M856.0 522.5L850.6 532.5M849.5 532.0L846.3 541.9M854.8 536.4L850.6 546.8M849.9 546.5L846.3 556.2M855.1 550.9L850.6 561.2M850.3 562.1L846.3 570.5M856.1 566.5L850.6 575.5M851.1 575.7L846.3 584.8M854.1 579.3L850.6 589.8M849.5 590.8L846.3 599.1M855.4 595.9L850.6 604.1M849.5 604.4L846.3 613.5M854.9 609.6L850.6 618.4M850.2 619.6L846.3 627.8M853.9 623.5L850.6 632.8M851.2 633.7L846.3 642.1M855.5 638.2L850.6 647.1M851.3 648.1L846.3 656.4M854.6 652.5L850.6 661.4M851.6 662.3L846.3 670.7M854.8 667.1L850.6 675.7M851.5 675.9L846.3 685.1M855.3 680.4L850.6 690.0M850.8 690.3L846.3 699.4M853.9 695.3L850.6 704.4M851.8 705.3L846.3 713.7M855.5 709.1L850.6 718.7M851.2 718.9L846.3 728.0M854.8 724.5L850.6 733.0M849.6 733.6L846.3 742.3M853.8 738.2L850.6 747.3M850.6 746.7L846.3 756.7M855.4 752.3L850.6 761.6M850.9 762.6L846.3 771.0M858.7 398.1L855.0 408.6M863.1 404.7L859.3 413.6M858.6 412.8L855.0 422.9M864.6 419.0L859.3 427.9M859.1 428.9L855.0 437.3M863.2 433.3L859.3 442.2M858.5 442.1L855.0 451.6M864.3 448.2L859.3 456.6M860.2 456.3L855.0 465.9M863.8 461.1L859.3 470.9M858.4 470.9L855.0 480.2M864.4 476.7L859.3 485.2M859.8 486.3L855.0 494.5M863.1 489.4L859.3 499.5M859.2 499.0L855.0 508.9M862.9 504.3L859.3 513.8M859.6 513.8L855.0 523.2M863.1 519.6L859.3 528.2M860.4 528.0L855.0 537.5M862.6 532.0L859.3 542.5M860.2 541.4L855.0 551.8M864.1 547.6L859.3 556.8M858.8 557.5L855.0 566.1M862.4 560.9L859.3 571.1M859.2 570.0L855.0 580.5M864.4 575.5L859.3 585.4M858.4 584.3L855.0 594.8M863.9 590.3L859.3 599.8M859.6 600.1L855.0 609.1M864.3 605.8L859.3 614.1M859.7 613.4L855.0 623.4M863.5 618.3L859.3 628.4M858.1 628.3L855.0 637.7M864.1 632.6L859.3 642.7M858.7 642.3L855.0 652.1M864.1 647.7L859.3 657.0M859.5 657.6L855.0 666.4M863.3 662.7L859.3 671.4M860.2 670.4L855.0 680.7M864.6 676.9L859.3 685.7M858.4 685.6L855.0 695.0M863.9 691.6L859.3 700.0M859.0 700.2L855.0 709.3M864.5 705.7L859.3 714.3M860.3 714.2L855.0 723.7M864.0 718.6L859.3 728.6M859.8 729.4L855.0 738.0M863.9 734.1L859.3 743.0M858.6 743.9L855.0 752.3M864.7 749.1L859.3 757.3M859.4 758.0L855.0 766.6M867.5 395.9L863.6 404.3M873.1 399.5L867.9 409.2M866.9 409.1L863.6 418.6M872.3 414.9L867.9 423.5M867.9 422.4L863.6 432.9M873.0 427.5L867.9 437.9M868.6 437.1L863.6 447.2M871.8 443.5L867.9 452.2M867.0 451.3L863.6 461.5M872.3 457.7L867.9 466.5M868.7 467.0L863.6 475.9M873.3 471.5L867.9 480.8M869.0 479.8L863.6 490.2M871.6 485.9L867.9 495.1M867.4 495.7L863.6 504.5M872.6 500.2L867.9 509.5M868.7 509.6L863.6 518.8M871.8 514.2L867.9 523.8M868.7 524.8L863.6 533.1M871.5 529.6L867.9 538.1M869.0 538.2L863.6 547.5M872.4 542.4L867.9 552.4M868.0 552.4L863.6 561.8M872.5 556.3L867.9 566.7M869.0 566.8L863.6 576.1M872.0 572.4L867.9 581.1M868.1 581.0L863.6 590.4M872.7 585.0L867.9 595.4M868.0 595.2L863.6 604.7M873.3 601.4L867.9 609.7M867.4 609.6L863.6 619.1M871.3 614.5L867.9 624.0M868.7 625.0L863.6 633.4M872.2 628.6L867.9 638.3M867.2 638.6L863.6 647.7M873.2 642.4L867.9 652.7M868.6 651.5L863.6 662.0M871.5 657.0L867.9 667.0M868.4 666.6L863.6 676.3M871.9 672.3L867.9 681.3M867.0 681.9L863.6 690.7M871.3 686.3L867.9 695.6M867.3 694.9L863.6 705.0M872.3 700.5L867.9 709.9M867.6 709.7L863.6 719.3M872.3 714.1L867.9 724.3M867.2 724.6L863.6 733.6M872.6 729.3L867.9 738.6M868.8 738.9L863.6 747.9M873.1 742.9L867.9 752.9M868.5 753.7L863.6 762.3M877.5 390.1L872.2 399.9M880.4 396.5L876.5 404.9M875.9 406.1L872.2 414.2M881.8 409.0L876.5 419.2M875.9 419.7L872.2 428.5M880.3 423.2L876.5 433.5M877.3 433.3L872.2 442.8M881.6 437.6L876.5 447.8M876.3 448.3L872.2 457.2M879.7 452.1L876.5 462.1M877.0 463.1L872.2 471.5M882.0 466.2L876.5 476.5M876.6 477.1L872.2 485.8M880.9 481.9L876.5 490.8M875.8 489.8L872.2 500.1M879.9 494.7L876.5 505.1M876.7 505.1L872.2 514.4M881.0 509.2L876.5 519.4M875.8 518.7L872.2 528.8M881.7 525.6L876.5 533.7M877.6 532.8L872.2 543.1M879.8 539.8L876.5 548.1M876.5 548.7L872.2 557.4M880.4 553.0L876.5 562.4M876.6 562.2L872.2 571.7M881.1 566.2L876.5 576.7M877.0 577.5L872.2 586.0M880.1 581.6L876.5 591.0M877.1 590.8L872.2 600.4M880.1 595.2L876.5 605.3M876.6 604.2L872.2 614.7M881.8 611.0L876.5 619.7M877.0 620.5L872.2 629.0M881.2 624.4L876.5 634.0M876.8 634.0L872.2 643.3M882.0 639.7L876.5 648.3M876.0 649.3L872.2 657.6M881.5 654.0L876.5 662.6M877.3 662.4L872.2 672.0M881.8 668.5L876.5 676.9M877.0 677.6L872.2 686.3M881.5 681.7L876.5 691.3M877.1 690.2L872.2 700.6M880.5 696.2L876.5 705.6M875.4 705.2L872.2 714.9M881.2 710.9L876.5 719.9M875.9 721.0L872.2 729.2M881.3 724.5L876.5 734.2M876.9 734.4L872.2 743.6M880.9 738.9L876.5 748.5M877.7 748.9L872.2 757.9M885.7 386.8L880.9 395.5M890.7 390.0L885.2 400.5M885.5 401.1L880.9 409.8M888.9 405.2L885.2 414.8M884.1 414.1L880.9 424.2M889.2 418.8L885.2 429.1M884.6 430.1L880.9 438.5M889.6 434.1L885.2 443.5M886.3 443.6L880.9 452.8M890.7 448.8L885.2 457.8M885.9 456.8L880.9 467.1M889.7 463.4L885.2 472.1M884.1 473.1L880.9 481.4M888.7 477.0L885.2 486.4M884.4 486.4L880.9 495.8M889.8 490.3L885.2 500.7M886.3 500.6L880.9 510.1M889.6 506.0L885.2 515.1M884.9 514.5L880.9 524.4M889.9 520.2L885.2 529.4M884.7 529.9L880.9 538.7M889.0 533.2L885.2 543.7M884.6 542.6L880.9 553.0M888.7 549.3L885.2 558.0M884.9 559.0L880.9 567.4M890.1 561.9L885.2 572.3M886.4 573.4L880.9 581.7M888.5 578.3L885.2 586.7M885.0 586.6L880.9 596.0M890.6 591.0L885.2 601.0M885.2 602.0L880.9 610.3M890.0 605.9L885.2 615.3M886.3 616.1L880.9 624.6M889.7 619.4L885.2 629.6M885.5 629.5L880.9 639.0M888.8 633.5L885.2 643.9M885.2 643.0L880.9 653.3M889.4 649.3L885.2 658.3M885.1 657.7L880.9 667.6M889.7 663.0L885.2 672.6M885.8 672.7L880.9 681.9M890.7 678.6L885.2 686.9M885.7 686.3L880.9 696.2M888.6 692.8L885.2 701.2M885.9 701.5L880.9 710.6M889.2 705.7L885.2 715.5M885.6 715.7L880.9 724.9M889.7 720.8L885.2 729.9M885.8 729.1L880.9 739.2M888.9 736.0L885.2 744.2M886.2 745.1L880.9 753.5M892.7 380.8L889.5 391.2M897.6 386.6L893.8 396.1M894.1 395.2L889.5 405.5M898.2 400.1L893.8 410.5M892.8 410.9L889.5 419.8M898.3 415.8L893.8 424.8M893.5 424.7L889.5 434.1M897.4 429.4L893.8 439.1M894.4 439.9L889.5 448.4M897.1 443.2L893.8 453.4M894.6 453.7L889.5 462.8M898.8 457.7L893.8 467.7M893.6 467.2L889.5 477.1M898.9 472.4L893.8 482.1M894.2 483.2L889.5 491.4M897.7 487.2L893.8 496.4M894.4 497.4L889.5 505.7M898.0 501.0L893.8 510.7M892.9 511.6L889.5 520.0M897.1 514.7L893.8 525.0M894.0 525.0L889.5 534.4M898.6 529.5L893.8 539.3M894.5 538.3L889.5 548.7M897.4 544.7L893.8 553.7M892.8 553.2L889.5 563.0M898.7 559.1L893.8 568.0M893.3 567.1L889.5 577.3M897.8 573.5L893.8 582.3M893.5 581.4L889.5 591.6M898.6 587.4L893.8 596.6M894.8 597.7L889.5 606.0M899.1 601.4L893.8 610.9M894.5 610.5L889.5 620.3M897.7 615.7L893.8 625.3M894.9 626.2L889.5 634.6M897.5 629.9L893.8 639.6M893.5 639.3L889.5 648.9M897.9 644.3L893.8 653.9M893.1 654.1L889.5 663.2M898.8 659.0L893.8 668.2M894.6 668.4L889.5 677.6M897.4 673.8L893.8 682.5M894.7 682.0L889.5 691.9M897.0 687.6L893.8 696.9M893.9 697.0L889.5 706.2M899.3 702.2L893.8 711.2M894.5 710.1L889.5 720.5M898.2 716.8L893.8 725.5M892.8 724.5L889.5 734.8M898.7 731.4L893.8 739.8M892.8 740.1L889.5 749.2M901.6 378.0L898.1 386.8M907.1 381.8L902.5 391.8M901.8 392.4L898.1 401.1M906.8 397.4L902.5 406.1M902.2 405.7L898.1 415.4M907.9 411.5L902.5 420.4M902.4 420.5L898.1 429.8M907.3 425.9L902.5 434.7M903.5 434.5L898.1 444.1M907.6 440.1L902.5 449.1M903.3 449.8L898.1 458.4M907.6 455.0L902.5 463.4M903.6 463.7L898.1 472.7M906.8 468.9L902.5 477.7M903.2 477.5L898.1 487.0M906.6 481.8L902.5 492.0M903.0 493.2L898.1 501.4M906.5 496.2L902.5 506.3M901.7 506.2L898.1 515.7M906.3 512.4L902.5 520.7M901.4 520.2L898.1 530.0M905.8 526.0L902.5 535.0M903.1 534.2L898.1 544.3M905.7 539.9L902.5 549.3M902.7 550.3L898.1 558.6M905.7 553.3L902.5 563.6M901.7 562.9L898.1 573.0M906.1 569.1L902.5 577.9M902.7 577.3L898.1 587.3M906.0 582.4L902.5 592.3M901.7 592.9L898.1 601.6M906.3 597.3L902.5 606.6M903.2 606.5L898.1 615.9M906.2 612.5L902.5 620.9M903.4 620.5L898.1 630.2M906.9 627.0L902.5 635.2M902.4 634.5L898.1 644.6M905.7 641.3L902.5 649.5M903.2 649.3L898.1 658.9M906.8 654.6L902.5 663.9M901.9 665.0L898.1 673.2M907.2 668.2L902.5 678.2M901.3 678.1L898.1 687.5M906.5 683.9L902.5 692.5M903.0 692.7L898.1 701.8M906.0 696.6L902.5 706.8M902.0 706.2L898.1 716.2M907.7 711.8L902.5 721.1M902.8 722.3L898.1 730.5M906.2 726.2L902.5 735.5M901.6 736.1L898.1 744.8M909.9 373.9L906.8 382.4M916.2 378.8L911.1 387.4M910.1 386.9L906.8 396.8M915.9 391.4L911.1 401.7M911.0 401.7L906.8 411.1M916.5 406.9L911.1 416.1M911.9 415.6L906.8 425.4M916.1 420.8L911.1 430.4M912.1 429.4L906.8 439.7M916.2 434.6L911.1 444.7M911.2 444.8L906.8 454.0M914.6 450.5L911.1 459.0M910.6 458.6L906.8 468.4M914.4 463.5L911.1 473.3M911.0 473.8L906.8 482.7M915.1 478.8L911.1 487.7M910.1 487.4L906.8 497.0M915.3 493.7L911.1 502.0M911.9 502.3L906.8 511.3M914.2 506.7L911.1 516.3M911.6 515.7L906.8 525.6M915.6 521.2L911.1 530.6M909.9 531.8L906.8 540.0M916.1 534.9L911.1 544.9M911.4 544.4L906.8 554.3M915.1 550.0L911.1 559.3M910.6 558.9L906.8 568.6M915.2 564.6L911.1 573.6M910.5 572.9L906.8 582.9M916.0 578.1L911.1 587.9M912.2 588.0L906.8 597.2M915.9 592.5L911.1 602.2M911.9 601.2L906.8 611.6M914.5 606.2L911.1 616.5M911.5 617.0L906.8 625.9M914.6 621.3L911.1 630.9M911.9 631.1L906.8 640.2M914.4 635.2L911.1 645.2M910.3 644.3L906.8 654.5M915.2 649.1L911.1 659.5M912.1 659.3L906.8 668.8M915.4 664.8L911.1 673.8M911.7 674.6L906.8 683.2M915.1 678.4L911.1 688.1M910.9 687.0L906.8 697.5M915.2 693.6L911.1 702.5M912.2 703.1L906.8 711.8M915.8 707.7L911.1 716.8M909.9 716.4L906.8 726.1M915.0 722.1L911.1 731.1M910.1 730.8L906.8 740.4M919.7 369.4L915.4 378.1M924.8 374.0L919.7 383.0M918.9 383.7L915.4 392.4M925.0 388.1L919.7 397.4M919.4 397.4L915.4 406.7M923.2 402.9L919.7 411.7M920.9 411.7L915.4 421.0M924.6 417.5L919.7 426.0M919.0 427.1L915.4 435.3M924.4 430.3L919.7 440.3M918.7 439.7L915.4 449.7M924.2 445.8L919.7 454.6M919.3 455.7L915.4 464.0M923.7 459.5L919.7 469.0M918.8 470.1L915.4 478.3M923.2 474.9L919.7 483.3M919.8 483.4L915.4 492.6M924.2 487.7L919.7 497.6M920.7 498.8L915.4 506.9M924.8 502.8L919.7 511.9M918.8 512.7L915.4 521.3M923.5 517.9L919.7 526.2M919.1 526.4L915.4 535.6M924.8 530.5L919.7 540.6M919.8 539.6L915.4 549.9M922.9 544.8L919.7 554.9M920.9 555.9L915.4 564.2M924.4 559.4L919.7 569.2M920.1 569.8L915.4 578.5M923.8 574.4L919.7 583.5M920.5 582.4L915.4 592.9M923.3 588.4L919.7 597.8M918.9 597.6L915.4 607.2M924.2 602.0L919.7 612.2M919.8 611.6L915.4 621.5M924.2 616.7L919.7 626.5M920.1 625.4L915.4 635.8M924.5 630.6L919.7 640.8M920.8 641.0L915.4 650.1M924.0 645.6L919.7 655.1M920.0 655.6L915.4 664.5M924.7 660.7L919.7 669.4M919.7 670.6L915.4 678.8M924.9 675.3L919.7 683.8M919.5 683.6L915.4 693.1M924.2 689.7L919.7 698.1M919.8 698.1L915.4 707.4M923.9 704.0L919.7 712.4M919.3 711.3L915.4 721.7M924.6 718.3L919.7 726.7M920.3 727.0L915.4 736.1M929.0 363.9L924.0 373.7M932.9 368.3L928.4 378.7M927.5 378.6L924.0 388.0M932.7 383.4L928.4 393.0M927.3 393.5L924.0 402.3M932.7 397.4L928.4 407.3M927.9 407.1L924.0 416.7M932.0 411.3L928.4 421.6M929.4 422.8L924.0 431.0M933.1 427.5L928.4 436.0M928.2 436.7L924.0 445.3M932.0 441.5L928.4 450.3M928.5 451.3L924.0 459.6M931.7 456.0L928.4 464.6M927.5 464.7L924.0 473.9M933.8 468.4L928.4 478.9M927.7 478.4L924.0 488.3M932.3 482.9L928.4 493.2M929.3 494.0L924.0 502.6M932.4 497.9L928.4 507.6M928.6 506.5L924.0 516.9M931.6 513.5L928.4 521.9M927.9 521.9L924.0 531.2M933.7 528.0L928.4 536.2M928.3 535.5L924.0 545.5M932.2 542.2L928.4 550.5M929.3 549.8L924.0 559.9M933.5 555.2L928.4 564.8M928.3 564.1L924.0 574.2M933.6 571.0L928.4 579.2M927.6 579.5L924.0 588.5M931.9 585.1L928.4 593.5M927.3 592.5L924.0 602.8M933.2 598.0L928.4 607.8M929.3 608.7L924.0 617.1M933.2 611.9L928.4 622.1M928.8 623.2L924.0 631.5M932.6 626.1L928.4 636.4M927.7 636.0L924.0 645.8M933.2 640.7L928.4 650.8M927.6 650.1L924.0 660.1M933.1 656.4L928.4 665.1M928.1 665.5L924.0 674.4M933.6 670.3L928.4 679.4M927.7 678.9L924.0 688.7M933.7 684.8L928.4 693.7M927.8 694.1L924.0 703.1M931.7 699.9L928.4 708.0M928.2 708.1L924.0 717.4M932.8 711.9L928.4 722.4M928.6 721.8L924.0 731.7M936.4 360.7L932.7 369.3M940.3 364.5L937.0 374.3M937.6 373.7L932.7 383.7M940.8 379.4L937.0 388.6M936.2 389.6L932.7 398.0M942.5 392.5L937.0 403.0M936.9 403.6L932.7 412.3M941.0 409.0L937.0 417.3M937.0 416.5L932.7 426.6M941.5 422.6L937.0 431.6M936.7 432.0L932.7 440.9M942.0 436.6L937.0 445.9M937.0 446.7L932.7 455.3M941.8 450.9L937.0 460.2M938.1 459.5L932.7 469.6M942.0 464.4L937.0 474.6M937.3 473.9L932.7 483.9M941.2 480.2L937.0 488.9M937.7 489.6L932.7 498.2M940.7 493.8L937.0 503.2M936.3 503.4L932.7 512.5M941.3 507.1L937.0 517.5M937.2 518.0L932.7 526.9M941.5 523.4L937.0 531.8M936.2 531.0L932.7 541.2M940.2 536.8L937.0 546.2M936.8 546.0L932.7 555.5M940.7 551.9L937.0 560.5M936.0 561.5L932.7 569.8M941.5 565.6L937.0 574.8M937.7 574.2L932.7 584.1M940.5 579.3L937.0 589.1M935.9 588.7L932.7 598.5M941.6 594.2L937.0 603.4M936.4 603.7L932.7 612.8M940.3 609.2L937.0 617.8M936.2 617.2L932.7 627.1M940.5 623.2L937.0 632.1M937.8 632.8L932.7 641.4M940.3 636.8L937.0 646.4M936.7 645.7L932.7 655.7M942.4 650.3L937.0 660.7M937.0 661.3L932.7 670.1M942.5 664.8L937.0 675.0M936.9 675.6L932.7 684.4M940.2 679.4L937.0 689.4M937.9 688.5L932.7 698.7M941.1 693.9L937.0 703.7M936.8 702.7L932.7 713.0M940.2 709.8L937.0 718.0M937.6 718.6L932.7 727.3M945.0 355.0L941.3 365.0M950.1 360.0L945.6 370.0M945.5 371.0L941.3 379.3M949.6 374.5L945.6 384.3M946.8 384.5L941.3 393.6M948.8 389.0L945.6 398.6M946.0 397.5L941.3 407.9M949.6 404.0L945.6 412.9M946.5 413.1L941.3 422.3M950.9 417.8L945.6 427.2M945.4 428.1L941.3 436.6M949.7 432.9L945.6 441.6M945.0 441.2L941.3 450.9M949.2 446.7L945.6 455.9M944.8 455.2L941.3 465.2M949.3 460.8L945.6 470.2M945.2 470.1L941.3 479.5M951.1 475.6L945.6 484.5M946.5 483.8L941.3 493.9M949.7 488.5L945.6 498.8M946.1 498.5L941.3 508.2M949.4 502.7L945.6 513.2M944.9 512.6L941.3 522.5M949.7 519.2L945.6 527.5M946.2 526.9L941.3 536.8M949.6 531.6L945.6 541.8M946.7 541.5L941.3 551.1M950.6 547.3L945.6 556.1M946.6 555.0L941.3 565.5M949.5 560.8L945.6 570.4M944.6 571.4L941.3 579.8M949.5 576.1L945.6 584.8M945.7 583.7L941.3 594.1M949.7 589.1L945.6 599.1M944.5 598.2L941.3 608.4M950.2 602.9L945.6 613.4M945.2 613.2L941.3 622.7M950.1 617.5L945.6 627.7M946.1 627.1L941.3 637.1M950.5 633.1L945.6 642.0M944.8 641.3L941.3 651.4M949.4 647.5L945.6 656.4M945.4 656.1L941.3 665.7M950.8 660.7L945.6 670.7M945.1 670.3L941.3 680.0M949.3 674.6L945.6 685.0M944.5 685.3L941.3 694.3M950.1 690.7L945.6 699.3M946.8 698.8L941.3 708.7M950.4 705.3L945.6 713.6M945.0 714.1L941.3 723.0M954.7 352.4L950.0 360.6M959.5 355.6L954.3 365.6M954.6 364.6L950.0 374.9M958.4 370.3L954.3 379.9M953.2 379.6L950.0 389.3M958.2 384.9L954.3 394.2M953.7 393.4L950.0 403.6M958.4 399.2L954.3 408.6M953.5 408.9L950.0 417.9M958.0 412.6L954.3 422.9M953.9 422.7L950.0 432.2M957.8 428.0L954.3 437.2M954.8 437.3L950.0 446.5M959.1 441.0L954.3 451.5M954.0 451.2L950.0 460.9M957.5 456.3L954.3 465.8M953.2 465.8L950.0 475.2M958.8 470.7L954.3 480.2M953.9 479.6L950.0 489.5M957.4 484.8L954.3 494.5M955.2 494.6L950.0 503.8M958.0 499.9L954.3 508.8M953.5 508.7L950.0 518.1M958.9 514.9L954.3 523.1M953.9 523.3L950.0 532.5M959.7 528.7L954.3 537.4M954.6 537.7L950.0 546.8M958.4 542.2L954.3 551.8M953.7 552.5L950.0 561.1M959.5 556.4L954.3 566.1M955.3 565.0L950.0 575.4M957.7 571.1L954.3 580.4M953.8 580.1L950.0 589.7M959.7 584.5L954.3 594.7M953.5 594.1L950.0 604.1M959.0 599.1L954.3 609.0M953.1 609.1L950.0 618.4M958.3 613.4L954.3 623.4M954.3 623.7L950.0 632.7M958.7 628.6L954.3 637.7M954.4 638.5L950.0 647.0M959.7 642.3L954.3 652.0M953.9 652.9L950.0 661.3M958.1 657.5L954.3 666.3M954.7 666.8L950.0 675.7M959.7 672.1L954.3 680.6M953.5 680.9L950.0 690.0M958.6 685.8L954.3 695.0M954.0 694.4L950.0 704.3M959.2 700.0L954.3 709.3M953.6 708.7L950.0 718.6M962.5 346.1L958.6 356.3M967.3 351.0L962.9 361.2M961.9 360.2L958.6 370.6M966.3 366.7L962.9 375.5M962.0 375.4L958.6 384.9M967.9 380.5L962.9 389.9M962.1 390.7L958.6 399.2M968.1 393.8L962.9 404.2M962.3 404.2L958.6 413.5M967.9 408.9L962.9 418.5M963.4 417.9L958.6 427.9M967.7 423.1L962.9 432.8M962.5 433.5L958.6 442.2M968.0 438.6L962.9 447.1M963.1 447.0L958.6 456.5M967.7 452.4L962.9 461.5M963.7 462.2L958.6 470.8M966.3 466.2L962.9 475.8M963.3 475.1L958.6 485.1M966.5 479.6L962.9 490.1M963.1 491.2L958.6 499.5M968.4 494.2L962.9 504.4M963.4 504.2L958.6 513.8M967.5 509.2L962.9 518.7M963.9 519.9L958.6 528.1M966.1 524.2L962.9 533.1M962.0 532.0L958.6 542.4M966.7 538.6L962.9 547.4M964.1 546.5L958.6 556.7M966.8 551.2L962.9 561.7M963.0 561.7L958.6 571.1M966.9 566.2L962.9 576.0M963.6 576.8L958.6 585.4M966.7 580.7L962.9 590.3M963.2 591.0L958.6 599.7M968.4 595.1L962.9 604.7M963.4 604.8L958.6 614.0M967.9 608.8L962.9 619.0M962.1 618.0L958.6 628.3M968.3 623.4L962.9 633.3M962.9 632.4L958.6 642.7M966.8 637.1L962.9 647.6M963.1 646.8L958.6 657.0M967.5 652.1L962.9 661.9M962.3 661.9L958.6 671.3M966.9 666.4L962.9 676.3M961.8 675.2L958.6 685.6M968.2 680.8L962.9 690.6M961.9 689.8L958.6 699.9M967.2 696.8L962.9 704.9M962.2 705.8L958.6 714.3M971.5 342.3L967.2 351.9M976.6 347.3L971.5 356.9M970.5 357.0L967.2 366.2M976.2 362.1L971.5 371.2M971.0 372.2L967.2 380.5M976.7 377.3L971.5 385.5M971.4 386.3L967.2 394.8M976.4 389.7L971.5 399.8M970.4 399.0L967.2 409.2M974.9 403.8L971.5 414.1M971.2 414.8L967.2 423.5M975.4 419.2L971.5 428.5M970.4 427.8L967.2 437.8M977.0 432.3L971.5 442.8M971.6 443.5L967.2 452.1M976.6 448.3L971.5 457.1M971.3 457.8L967.2 466.4M976.7 462.7L971.5 471.4M972.7 470.5L967.2 480.8M976.9 476.2L971.5 485.7M972.0 485.1L967.2 495.1M976.8 489.6L971.5 500.1M971.7 499.4L967.2 509.4M975.6 504.7L971.5 514.4M971.9 515.1L967.2 523.7M975.5 519.7L971.5 528.7M971.2 528.2L967.2 538.0M976.8 533.3L971.5 543.0M970.6 542.6L967.2 552.4M976.4 547.3L971.5 557.3M972.1 557.5L967.2 566.7M976.3 561.5L971.5 571.7M970.6 570.8L967.2 581.0M975.5 576.5L971.5 586.0M970.4 586.0L967.2 595.3M975.6 590.5L971.5 600.3M971.6 601.4L967.2 609.6M975.2 606.2L971.5 614.6M971.1 615.2L967.2 624.0M974.9 620.8L971.5 628.9M971.4 630.1L967.2 638.3M975.2 633.7L971.5 643.3M972.0 642.5L967.2 652.6M975.3 648.7L971.5 657.6M972.6 657.2L967.2 666.9M975.1 662.2L971.5 671.9M972.7 671.1L967.2 681.2M976.2 676.6L971.5 686.2M971.9 685.5L967.2 695.6M976.1 692.1L971.5 700.5M972.4 700.9L967.2 709.9M980.2 338.3L975.9 347.5M983.6 344.0L980.2 352.5M980.6 352.4L975.9 361.8M984.9 357.3L980.2 366.8M979.9 366.2L975.9 376.2M984.7 372.0L980.2 381.1M980.2 380.0L975.9 390.5M984.8 386.0L980.2 395.5M980.4 395.7L975.9 404.8M985.5 399.6L980.2 409.8M980.1 411.0L975.9 419.1M985.1 414.3L980.2 424.1M980.8 425.3L975.9 433.4M984.3 430.0L980.2 438.4M979.3 439.6L975.9 447.8M984.5 442.8L980.2 452.7M981.0 453.1L975.9 462.1M985.6 458.5L980.2 467.1M980.9 467.1L975.9 476.4M985.7 471.0L980.2 481.4M981.1 481.9L975.9 490.7M983.9 487.1L980.2 495.7M980.1 495.8L975.9 505.0M985.4 500.0L980.2 510.0M979.7 510.4L975.9 519.4M983.5 515.1L980.2 524.3M980.9 524.3L975.9 533.7M983.9 530.0L980.2 538.7M981.0 539.3L975.9 548.0M984.6 544.6L980.2 553.0M980.9 552.1L975.9 562.3M984.2 557.0L980.2 567.3M979.1 566.9L975.9 576.6M985.4 573.1L980.2 581.6M979.3 580.9L975.9 591.0M984.2 587.4L980.2 595.9M980.5 596.9L975.9 605.3M983.5 602.1L980.2 610.3M979.5 610.6L975.9 619.6M985.4 615.8L980.2 624.6M979.5 625.0L975.9 633.9M984.3 628.4L980.2 638.9M979.8 638.5L975.9 648.2M984.8 643.3L980.2 653.2M980.4 653.7L975.9 662.6M983.7 657.3L980.2 667.5M980.6 667.5L975.9 676.9M983.6 671.6L980.2 681.9M981.2 682.1L975.9 691.2M984.2 686.1L980.2 696.2M981.4 696.6L975.9 705.5M989.4 333.5L984.5 343.2M992.7 338.6L988.8 348.1M988.0 348.5L984.5 357.5M993.0 353.9L988.8 362.5M988.6 362.4L984.5 371.8M993.2 368.5L988.8 376.8M988.4 377.3L984.5 386.1M992.5 381.9L988.8 391.1M988.3 392.0L984.5 400.4M992.6 396.9L988.8 405.4M989.2 405.3L984.5 414.8M994.2 410.1L988.8 419.7M989.4 420.0L984.5 429.1M993.0 423.7L988.8 434.1M988.6 433.5L984.5 443.4M993.0 440.1L988.8 448.4M988.3 448.8L984.5 457.7M993.5 452.7L988.8 462.7M988.6 461.8L984.5 472.0M994.1 467.1L988.8 477.0M988.6 476.6L984.5 486.4M993.9 482.8L988.8 491.3M989.0 491.4L984.5 500.7M992.2 497.3L988.8 505.7M987.8 505.3L984.5 515.0M992.8 511.2L988.8 520.0M989.2 519.6L984.5 529.3M994.1 526.0L988.8 534.3M987.7 534.6L984.5 543.6M993.1 538.9L988.8 548.6M988.7 548.2L984.5 558.0M993.5 553.8L988.8 562.9M989.9 564.1L984.5 572.3M994.3 567.7L988.8 577.3M989.6 577.6L984.5 586.6M993.6 583.4L988.8 591.6M987.8 591.5L984.5 600.9M992.9 596.9L988.8 605.9M988.1 607.1L984.5 615.2M992.4 610.6L988.8 620.2M988.0 620.0L984.5 629.6M993.7 624.2L988.8 634.5M988.0 634.9L984.5 643.9M993.4 640.1L988.8 648.9M988.2 649.6L984.5 658.2M993.7 654.5L988.8 663.2M987.9 663.1L984.5 672.5M992.0 669.0L988.8 677.5M989.9 678.4L984.5 686.8M992.0 682.1L988.8 691.8M988.9 691.9L984.5 701.2M996.5 330.1L993.1 338.8M1001.3 334.5L997.5 343.8M996.6 343.9L993.1 353.1M1000.9 347.8L997.5 358.1M997.5 357.6L993.1 367.4M1002.4 362.5L997.5 372.4M997.2 371.3L993.1 381.8M1001.1 377.3L997.5 386.7M997.6 386.6L993.1 396.1M1002.6 390.8L997.5 401.1M998.3 400.2L993.1 410.4M1002.9 406.1L997.5 415.4M997.2 415.6L993.1 424.7M1002.6 421.5L997.5 429.7M997.2 428.5L993.1 439.0M1000.9 435.4L997.5 444.0M998.0 444.5L993.1 453.4M1000.9 449.1L997.5 458.3M996.3 457.4L993.1 467.7M1001.3 464.4L997.5 472.7M997.8 473.5L993.1 482.0M1000.7 477.4L997.5 487.0M996.4 486.4L993.1 496.3M1000.8 493.0L997.5 501.3M997.0 501.3L993.1 510.6M1002.1 507.2L997.5 515.6M998.5 515.8L993.1 525.0M1001.8 521.6L997.5 529.9M997.2 529.5L993.1 539.3M1002.3 534.3L997.5 544.3M997.1 544.1L993.1 553.6M1001.7 548.9L997.5 558.6M997.3 558.5L993.1 567.9M1000.7 564.4L997.5 572.9M996.4 573.0L993.1 582.2M1001.9 577.6L997.5 587.2M996.8 586.3L993.1 596.6M1001.5 591.7L997.5 601.5M997.4 600.9L993.1 610.9M1002.4 606.5L997.5 615.9M996.3 615.6L993.1 625.2M1002.9 619.6L997.5 630.2M997.7 631.3L993.1 639.5M1001.5 635.4L997.5 644.5M997.1 644.0L993.1 653.8M1002.0 649.7L997.5 658.8M997.0 658.8L993.1 668.2M1001.8 664.4L997.5 673.1M996.4 672.2L993.1 682.5M1001.2 677.6L997.5 687.5M998.2 687.3L993.1 696.8M1007.0 324.9L1001.8 334.4M1009.9 330.5L1006.1 339.4M1005.1 340.6L1001.8 348.8M1011.2 344.0L1006.1 353.7M1005.7 354.5L1001.8 363.1M1011.1 359.1L1006.1 368.1M1005.0 368.7L1001.8 377.4M1009.3 373.3L1006.1 382.4M1006.2 383.4L1001.8 391.7M1010.7 386.2L1006.1 396.7M1007.1 397.3L1001.8 406.0M1010.6 400.5L1006.1 411.0M1006.7 410.8L1001.8 420.4M1010.8 417.1L1006.1 425.3M1007.1 424.3L1001.8 434.7M1011.1 430.2L1006.1 439.7M1006.7 439.4L1001.8 449.0M1010.3 444.5L1006.1 454.0M1005.2 453.5L1001.8 463.3M1011.0 457.9L1006.1 468.3M1005.2 469.1L1001.8 477.6M1010.8 473.4L1006.1 482.6M1005.2 481.7L1001.8 492.0M1010.0 488.7L1006.1 496.9M1006.2 497.9L1001.8 506.3M1009.7 501.7L1006.1 511.3M1006.2 512.1L1001.8 520.6M1009.5 517.1L1006.1 525.6M1006.0 524.4L1001.8 534.9M1010.2 530.3L1006.1 539.9M1006.5 540.9L1001.8 549.2M1010.4 545.3L1006.1 554.2M1005.8 554.9L1001.8 563.6M1009.5 559.8L1006.1 568.5M1005.3 568.7L1001.8 577.9M1009.7 573.1L1006.1 582.9M1005.3 582.5L1001.8 592.2M1010.6 587.9L1006.1 597.2M1005.8 597.3L1001.8 606.5M1011.2 601.8L1006.1 611.5M1006.3 611.4L1001.8 620.8M1011.6 616.1L1006.1 625.8M1006.6 625.2L1001.8 635.2M1009.8 631.3L1006.1 640.1M1006.3 639.5L1001.8 649.5M1009.4 645.9L1006.1 654.5M1005.8 655.0L1001.8 663.8M1010.2 659.7L1006.1 668.8M1006.2 669.9L1001.8 678.1M1011.4 673.6L1006.1 683.1M1006.1 682.4L1001.8 692.4M1015.3 319.8L1010.4 330.1M1018.6 326.5L1014.7 335.0M1013.6 335.5L1010.4 344.4M1019.2 340.1L1014.7 349.4M1014.3 348.5L1010.4 358.7M1020.1 355.0L1014.7 363.7M1015.5 362.7L1010.4 373.0M1019.7 368.0L1014.7 378.0M1014.0 378.1L1010.4 387.3M1019.3 382.1L1014.7 392.3M1015.4 392.5L1010.4 401.7M1020.0 398.3L1014.7 406.6M1015.2 406.3L1010.4 416.0M1020.1 412.2L1014.7 421.0M1014.2 421.8L1010.4 430.3M1019.6 425.4L1014.7 435.3M1014.1 434.1L1010.4 444.6M1019.1 439.7L1014.7 449.6M1014.2 449.0L1010.4 458.9M1018.2 454.5L1014.7 463.9M1014.2 463.4L1010.4 473.3M1018.5 468.9L1014.7 478.2M1015.6 477.4L1010.4 487.6M1019.9 484.1L1014.7 492.6M1015.0 492.7L1010.4 501.9M1019.6 497.6L1014.7 506.9M1015.1 507.9L1010.4 516.2M1019.7 511.3L1014.7 521.2M1013.7 522.3L1010.4 530.5M1018.7 526.9L1014.7 535.5M1014.1 535.4L1010.4 544.9M1018.7 541.1L1014.7 549.8M1015.8 549.9L1010.4 559.2M1019.2 554.5L1014.7 564.2M1014.1 565.2L1010.4 573.5M1018.1 570.2L1014.7 578.5M1015.1 577.5L1010.4 587.8M1020.0 582.5L1014.7 592.8M1014.9 591.9L1010.4 602.1M1020.2 597.3L1014.7 607.1M1015.6 606.1L1010.4 616.5M1019.4 611.1L1014.7 621.4M1013.6 621.6L1010.4 630.8M1020.2 626.9L1014.7 635.8M1015.6 636.5L1010.4 645.1M1019.1 639.7L1014.7 650.1M1014.8 649.3L1010.4 659.4M1019.1 654.7L1014.7 664.4M1014.7 663.7L1010.4 673.7M1019.5 669.2L1014.7 678.7M1014.7 677.7L1010.4 688.1M1023.3 316.5L1019.0 325.7M1028.8 321.5L1023.4 330.7M1022.5 330.2L1019.0 340.0M1027.3 336.1L1023.4 345.0M1024.4 346.1L1019.0 354.3M1028.8 351.0L1023.4 359.3M1024.2 360.4L1019.0 368.7M1026.5 364.3L1023.4 373.6M1023.6 374.1L1019.0 383.0M1028.0 378.9L1023.4 388.0M1024.4 387.0L1019.0 397.3M1027.7 394.0L1023.4 402.3M1022.2 401.4L1019.0 411.6M1028.6 408.4L1023.4 416.6M1022.2 415.5L1019.0 425.9M1028.5 422.0L1023.4 430.9M1023.4 431.1L1019.0 440.3M1028.3 436.6L1023.4 445.2M1022.2 444.2L1019.0 454.6M1028.4 451.4L1023.4 459.6M1024.2 459.3L1019.0 468.9M1027.3 464.2L1023.4 473.9M1022.2 474.5L1019.0 483.2M1027.1 479.1L1023.4 488.2M1023.4 487.8L1019.0 497.5M1028.1 493.1L1023.4 502.5M1022.7 503.4L1019.0 511.9M1026.9 506.7L1023.4 516.8M1022.8 516.8L1019.0 526.2M1028.4 521.4L1023.4 531.2M1022.7 531.5L1019.0 540.5M1027.1 536.2L1023.4 545.5M1022.8 546.4L1019.0 554.8M1026.9 549.8L1023.4 559.8M1022.9 559.4L1019.0 569.1M1028.2 565.2L1023.4 574.1M1024.1 574.2L1019.0 583.5M1026.7 579.7L1023.4 588.4M1022.8 587.8L1019.0 597.8M1027.5 594.6L1023.4 602.8M1023.1 602.4L1019.0 612.1M1028.7 608.9L1023.4 617.1M1023.1 616.2L1019.0 626.4M1028.4 622.7L1023.4 631.4M1023.0 632.1L1019.0 640.7M1027.4 635.9L1023.4 645.7M1023.6 646.3L1019.0 655.1M1027.6 651.5L1023.4 660.0M1022.2 660.0L1019.0 669.4M1027.4 664.0L1023.4 674.4M1024.4 673.5L1019.0 683.7M1031.3 312.9L1027.7 321.3M1037.4 318.0L1032.0 326.3M1031.6 327.4L1027.7 335.7M1035.5 331.8L1032.0 340.6M1033.1 339.9L1027.7 350.0M1035.4 346.0L1032.0 355.0M1032.9 355.5L1027.7 364.3M1037.4 359.8L1032.0 369.3M1031.7 368.4L1027.7 378.6M1035.8 375.3L1032.0 383.6M1031.0 382.8L1027.7 392.9M1036.0 387.5L1032.0 397.9M1031.5 397.2L1027.7 407.3M1035.4 403.0L1032.0 412.2M1032.1 412.4L1027.7 421.6M1036.9 417.3L1032.0 426.6M1033.1 425.6L1027.7 435.9M1035.7 430.5L1032.0 440.9M1031.5 441.5L1027.7 450.2M1037.3 445.9L1032.0 455.2M1031.2 454.8L1027.7 464.5M1036.5 459.7L1032.0 469.5M1032.7 470.7L1027.7 478.9M1036.2 474.7L1032.0 483.8M1032.8 483.8L1027.7 493.2M1035.6 489.9L1032.0 498.2M1033.1 497.0L1027.7 507.5M1036.9 502.9L1032.0 512.5M1030.9 511.7L1027.7 521.8M1035.5 518.0L1032.0 526.8M1031.3 525.6L1027.7 536.1M1035.6 532.5L1032.0 541.1M1032.0 541.5L1027.7 550.5M1036.2 545.3L1032.0 555.4M1030.8 555.0L1027.7 564.8M1035.2 559.8L1032.0 569.8M1032.3 569.4L1027.7 579.1M1036.3 575.0L1032.0 584.1M1031.6 583.7L1027.7 593.4M1037.2 589.3L1032.0 598.4M1031.8 598.5L1027.7 607.7M1036.2 603.0L1032.0 612.7M1033.0 612.1L1027.7 622.1M1037.4 618.5L1032.0 627.0M1032.9 626.2L1027.7 636.4M1036.3 633.2L1032.0 641.4M1031.5 640.6L1027.7 650.7M1036.9 645.7L1032.0 655.7M1032.2 654.9L1027.7 665.0M1037.4 660.1L1032.0 670.0M1031.0 670.4L1027.7 679.3" stroke="#a9a7b0" stroke-width="1.2" fill="none" opacity="0.8"/><ellipse cx="907.9" cy="574.9" rx="1.8" ry="2.3" fill="#dcb0dc"/><ellipse cx="936.5" cy="690.5" rx="1.8" ry="2.3" fill="#dcb0dc"/><ellipse cx="939.7" cy="494.3" rx="1.8" ry="2.3" fill="#dcb0dc"/><ellipse cx="842.3" cy="585.6" rx="1.8" ry="2.3" fill="#dcb0dc"/><ellipse cx="893.1" cy="587.7" rx="1.8" ry="2.3" fill="#dcb0dc"/><ellipse cx="962.1" cy="512.8" rx="1.8" ry="2.3" fill="#dcb0dc"/><ellipse cx="859.1" cy="577.5" rx="1.8" ry="2.3" fill="#dcb0dc"/><ellipse cx="933.5" cy="591.3" rx="1.8" ry="2.3" fill="#dcb0dc"/><ellipse cx="1026.3" cy="415.2" rx="1.8" ry="2.3" fill="#dcb0dc"/><ellipse cx="926.1" cy="395.8" rx="1.8" ry="2.3" fill="#dcb0dc"/><ellipse cx="994.0" cy="415.1" rx="1.8" ry="2.3" fill="#dcb0dc"/><ellipse cx="999.5" cy="614.1" rx="1.8" ry="2.3" fill="#dcb0dc"/><ellipse cx="890.4" cy="706.8" rx="1.8" ry="2.3" fill="#dcb0dc"/><ellipse cx="937.8" cy="512.2" rx="1.8" ry="2.3" fill="#dcb0dc"/><ellipse cx="947.5" cy="693.3" rx="1.8" ry="2.3" fill="#dcb0dc"/><ellipse cx="935.1" cy="533.6" rx="1.8" ry="2.3" fill="#dcb0dc"/><ellipse cx="897.2" cy="681.2" rx="1.8" ry="2.3" fill="#dcb0dc"/><ellipse cx="937.6" cy="482.3" rx="1.8" ry="2.3" fill="#dcb0dc"/><ellipse cx="879.3" cy="466.2" rx="1.8" ry="2.3" fill="#dcb0dc"/><ellipse cx="1000.5" cy="615.6" rx="1.8" ry="2.3" fill="#dcb0dc"/><ellipse cx="1027.9" cy="642.4" rx="1.8" ry="2.3" fill="#dcb0dc"/><ellipse cx="972.2" cy="627.7" rx="1.8" ry="2.3" fill="#dcb0dc"/><ellipse cx="977.2" cy="629.5" rx="1.8" ry="2.3" fill="#dcb0dc"/><ellipse cx="994.2" cy="394.2" rx="1.8" ry="2.3" fill="#dcb0dc"/><ellipse cx="996.8" cy="438.4" rx="1.8" ry="2.3" fill="#dcb0dc"/><ellipse cx="888.4" cy="713.8" rx="1.8" ry="2.3" fill="#dcb0dc"/><ellipse cx="846.3" cy="589.0" rx="1.8" ry="2.3" fill="#dcb0dc"/><ellipse cx="907.2" cy="658.5" rx="1.8" ry="2.3" fill="#dcb0dc"/><ellipse cx="958.0" cy="675.5" rx="1.8" ry="2.3" fill="#dcb0dc"/><ellipse cx="1019.2" cy="549.1" rx="1.8" ry="2.3" fill="#dcb0dc"/><ellipse cx="854.3" cy="640.7" rx="1.8" ry="2.3" fill="#dcb0dc"/><ellipse cx="862.8" cy="749.1" rx="1.8" ry="2.3" fill="#dcb0dc"/><ellipse cx="1007.6" cy="435.6" rx="1.8" ry="2.3" fill="#dcb0dc"/><ellipse cx="877.3" cy="638.7" rx="1.8" ry="2.3" fill="#dcb0dc"/><ellipse cx="986.0" cy="687.9" rx="1.8" ry="2.3" fill="#dcb0dc"/><ellipse cx="960.3" cy="393.1" rx="1.8" ry="2.3" fill="#dcb0dc"/><ellipse cx="980.1" cy="359.2" rx="1.8" ry="2.3" fill="#dcb0dc"/><ellipse cx="1006.9" cy="599.9" rx="1.8" ry="2.3" fill="#dcb0dc"/><ellipse cx="991.2" cy="645.4" rx="1.8" ry="2.3" fill="#dcb0dc"/><ellipse cx="950.1" cy="691.1" rx="1.8" ry="2.3" fill="#dcb0dc"/><ellipse cx="963.4" cy="522.8" rx="1.8" ry="2.3" fill="#dcb0dc"/><ellipse cx="915.1" cy="497.6" rx="1.8" ry="2.3" fill="#dcb0dc"/><ellipse cx="846.3" cy="463.5" rx="1.8" ry="2.3" fill="#dcb0dc"/><ellipse cx="993.2" cy="413.5" rx="1.8" ry="2.3" fill="#dcb0dc"/><ellipse cx="966.2" cy="622.8" rx="1.8" ry="2.3" fill="#dcb0dc"/><ellipse cx="973.9" cy="526.0" rx="1.8" ry="2.3" fill="#dcb0dc"/><ellipse cx="902.0" cy="475.4" rx="1.8" ry="2.3" fill="#dcb0dc"/><ellipse cx="877.6" cy="621.9" rx="1.8" ry="2.3" fill="#dcb0dc"/><ellipse cx="972.4" cy="679.4" rx="1.8" ry="2.3" fill="#dcb0dc"/><ellipse cx="904.8" cy="708.2" rx="1.8" ry="2.3" fill="#dcb0dc"/><ellipse cx="1015.2" cy="424.5" rx="1.8" ry="2.3" fill="#dcb0dc"/><ellipse cx="1022.9" cy="538.3" rx="1.8" ry="2.3" fill="#dcb0dc"/><ellipse cx="1024.9" cy="592.7" rx="1.8" ry="2.3" fill="#dcb0dc"/><ellipse cx="905.3" cy="476.0" rx="1.8" ry="2.3" fill="#dcb0dc"/><ellipse cx="941.3" cy="532.5" rx="1.8" ry="2.3" fill="#dcb0dc"/><ellipse cx="848.7" cy="713.4" rx="1.8" ry="2.3" fill="#dcb0dc"/><ellipse cx="943.7" cy="525.9" rx="1.8" ry="2.3" fill="#dcb0dc"/><ellipse cx="983.5" cy="425.9" rx="1.8" ry="2.3" fill="#dcb0dc"/><ellipse cx="879.9" cy="596.8" rx="1.8" ry="2.3" fill="#dcb0dc"/><ellipse cx="887.9" cy="502.1" rx="1.8" ry="2.3" fill="#dcb0dc"/><ellipse cx="855.3" cy="420.0" rx="1.8" ry="2.3" fill="#dcb0dc"/><ellipse cx="909.5" cy="562.5" rx="1.8" ry="2.3" fill="#dcb0dc"/><ellipse cx="1022.3" cy="545.9" rx="1.8" ry="2.3" fill="#dcb0dc"/><ellipse cx="920.7" cy="513.8" rx="1.8" ry="2.3" fill="#dcb0dc"/><ellipse cx="886.7" cy="555.1" rx="1.8" ry="2.3" fill="#dcb0dc"/><ellipse cx="1024.2" cy="359.6" rx="1.8" ry="2.3" fill="#dcb0dc"/><ellipse cx="924.3" cy="611.9" rx="1.8" ry="2.3" fill="#dcb0dc"/><ellipse cx="986.9" cy="533.5" rx="1.8" ry="2.3" fill="#dcb0dc"/><ellipse cx="963.8" cy="682.4" rx="1.8" ry="2.3" fill="#dcb0dc"/><ellipse cx="1013.5" cy="411.3" rx="1.8" ry="2.3" fill="#dcb0dc"/><ellipse cx="944.8" cy="713.1" rx="1.8" ry="2.3" fill="#dcb0dc"/><ellipse cx="942.3" cy="425.1" rx="1.8" ry="2.3" fill="#dcb0dc"/><ellipse cx="987.6" cy="354.8" rx="1.8" ry="2.3" fill="#dcb0dc"/><ellipse cx="870.6" cy="590.9" rx="1.8" ry="2.3" fill="#dcb0dc"/><ellipse cx="893.8" cy="639.5" rx="1.8" ry="2.3" fill="#dcb0dc"/><ellipse cx="980.1" cy="452.5" rx="1.8" ry="2.3" fill="#dcb0dc"/><ellipse cx="987.7" cy="566.3" rx="1.8" ry="2.3" fill="#dcb0dc"/><ellipse cx="976.1" cy="503.7" rx="1.8" ry="2.3" fill="#dcb0dc"/><ellipse cx="924.2" cy="404.6" rx="1.8" ry="2.3" fill="#dcb0dc"/><ellipse cx="932.2" cy="704.2" rx="1.8" ry="2.3" fill="#dcb0dc"/><ellipse cx="1010.8" cy="342.8" rx="1.8" ry="2.3" fill="#dcb0dc"/><ellipse cx="855.5" cy="497.6" rx="1.8" ry="2.3" fill="#dcb0dc"/><ellipse cx="974.0" cy="498.0" rx="1.8" ry="2.3" fill="#dcb0dc"/><ellipse cx="866.3" cy="548.1" rx="1.8" ry="2.3" fill="#dcb0dc"/><ellipse cx="950.9" cy="619.4" rx="1.8" ry="2.3" fill="#dcb0dc"/><ellipse cx="918.6" cy="601.9" rx="1.8" ry="2.3" fill="#dcb0dc"/><ellipse cx="971.4" cy="563.0" rx="1.8" ry="2.3" fill="#dcb0dc"/><ellipse cx="850.8" cy="657.9" rx="1.8" ry="2.3" fill="#dcb0dc"/><ellipse cx="866.4" cy="415.3" rx="1.8" ry="2.3" fill="#dcb0dc"/><ellipse cx="932.0" cy="368.6" rx="1.8" ry="2.3" fill="#dcb0dc"/><ellipse cx="855.8" cy="541.0" rx="1.8" ry="2.3" fill="#dcb0dc"/><ellipse cx="931.0" cy="400.8" rx="1.8" ry="2.3" fill="#dcb0dc"/><ellipse cx="1023.2" cy="621.5" rx="1.8" ry="2.3" fill="#dcb0dc"/><ellipse cx="934.5" cy="571.7" rx="1.8" ry="2.3" fill="#dcb0dc"/><ellipse cx="902.0" cy="729.9" rx="1.8" ry="2.3" fill="#dcb0dc"/><ellipse cx="864.8" cy="505.4" rx="1.8" ry="2.3" fill="#dcb0dc"/><ellipse cx="884.0" cy="696.7" rx="1.8" ry="2.3" fill="#dcb0dc"/><ellipse cx="938.7" cy="506.1" rx="1.8" ry="2.3" fill="#dcb0dc"/><ellipse cx="917.8" cy="687.3" rx="1.8" ry="2.3" fill="#dcb0dc"/><ellipse cx="890.9" cy="666.6" rx="1.8" ry="2.3" fill="#dcb0dc"/><ellipse cx="976.5" cy="500.5" rx="1.8" ry="2.3" fill="#dcb0dc"/><ellipse cx="911.5" cy="529.3" rx="1.8" ry="2.3" fill="#dcb0dc"/><ellipse cx="928.1" cy="477.5" rx="1.8" ry="2.3" fill="#dcb0dc"/><ellipse cx="960.5" cy="495.3" rx="1.8" ry="2.3" fill="#dcb0dc"/><ellipse cx="899.7" cy="655.5" rx="1.8" ry="2.3" fill="#dcb0dc"/><ellipse cx="928.5" cy="533.8" rx="1.8" ry="2.3" fill="#dcb0dc"/><ellipse cx="1009.1" cy="486.3" rx="1.8" ry="2.3" fill="#dcb0dc"/><ellipse cx="913.4" cy="693.4" rx="1.8" ry="2.3" fill="#dcb0dc"/><ellipse cx="1027.5" cy="595.5" rx="1.8" ry="2.3" fill="#dcb0dc"/><ellipse cx="918.3" cy="609.7" rx="1.8" ry="2.3" fill="#dcb0dc"/><ellipse cx="982.8" cy="442.9" rx="1.8" ry="2.3" fill="#dcb0dc"/><ellipse cx="979.6" cy="678.5" rx="1.8" ry="2.3" fill="#dcb0dc"/><ellipse cx="966.6" cy="584.5" rx="1.8" ry="2.3" fill="#dcb0dc"/><ellipse cx="924.7" cy="600.1" rx="1.8" ry="2.3" fill="#dcb0dc"/><ellipse cx="884.9" cy="662.1" rx="1.8" ry="2.3" fill="#dcb0dc"/><ellipse cx="944.4" cy="707.1" rx="1.8" ry="2.3" fill="#dcb0dc"/><ellipse cx="906.9" cy="630.0" rx="1.8" ry="2.3" fill="#dcb0dc"/><ellipse cx="845.2" cy="555.4" rx="1.8" ry="2.3" fill="#dcb0dc"/><ellipse cx="987.6" cy="427.3" rx="1.8" ry="2.3" fill="#dcb0dc"/><ellipse cx="958.6" cy="428.2" rx="1.8" ry="2.3" fill="#dcb0dc"/><ellipse cx="917.7" cy="725.5" rx="1.8" ry="2.3" fill="#dcb0dc"/><ellipse cx="879.4" cy="715.9" rx="1.8" ry="2.3" fill="#dcb0dc"/><ellipse cx="853.4" cy="611.0" rx="1.8" ry="2.3" fill="#dcb0dc"/><ellipse cx="998.0" cy="628.9" rx="1.8" ry="2.3" fill="#dcb0dc"/><ellipse cx="916.3" cy="581.8" rx="1.8" ry="2.3" fill="#dcb0dc"/><ellipse cx="977.3" cy="612.3" rx="1.8" ry="2.3" fill="#dcb0dc"/><ellipse cx="983.9" cy="543.6" rx="1.8" ry="2.3" fill="#dcb0dc"/><ellipse cx="889.8" cy="636.3" rx="1.8" ry="2.3" fill="#dcb0dc"/><ellipse cx="948.6" cy="549.0" rx="1.8" ry="2.3" fill="#dcb0dc"/><ellipse cx="1029.5" cy="362.1" rx="1.8" ry="2.3" fill="#dcb0dc"/><ellipse cx="990.3" cy="449.3" rx="1.8" ry="2.3" fill="#dcb0dc"/><ellipse cx="980.0" cy="678.5" rx="1.8" ry="2.3" fill="#dcb0dc"/><ellipse cx="894.1" cy="584.7" rx="1.8" ry="2.3" fill="#dcb0dc"/><ellipse cx="942.4" cy="534.6" rx="1.8" ry="2.3" fill="#dcb0dc"/><ellipse cx="873.7" cy="615.9" rx="1.8" ry="2.3" fill="#dcb0dc"/><ellipse cx="1011.8" cy="559.7" rx="1.8" ry="2.3" fill="#dcb0dc"/><ellipse cx="896.9" cy="668.8" rx="1.8" ry="2.3" fill="#dcb0dc"/><ellipse cx="921.8" cy="419.7" rx="1.8" ry="2.3" fill="#dcb0dc"/><ellipse cx="957.1" cy="514.6" rx="1.8" ry="2.3" fill="#dcb0dc"/><ellipse cx="942.7" cy="712.0" rx="1.8" ry="2.3" fill="#dcb0dc"/><ellipse cx="950.2" cy="694.7" rx="1.8" ry="2.3" fill="#dcb0dc"/><ellipse cx="909.0" cy="645.8" rx="1.8" ry="2.3" fill="#dcb0dc"/><ellipse cx="856.3" cy="508.3" rx="1.8" ry="2.3" fill="#dcb0dc"/><ellipse cx="973.5" cy="588.7" rx="1.8" ry="2.3" fill="#dcb0dc"/><ellipse cx="999.4" cy="464.6" rx="1.8" ry="2.3" fill="#dcb0dc"/><ellipse cx="894.0" cy="510.0" rx="1.8" ry="2.3" fill="#dcb0dc"/><ellipse cx="944.1" cy="365.1" rx="1.8" ry="2.3" fill="#dcb0dc"/><ellipse cx="913.2" cy="607.3" rx="1.8" ry="2.3" fill="#dcb0dc"/><ellipse cx="870.2" cy="505.1" rx="1.8" ry="2.3" fill="#dcb0dc"/><ellipse cx="1007.8" cy="658.4" rx="1.8" ry="2.3" fill="#dcb0dc"/><ellipse cx="889.4" cy="447.7" rx="1.8" ry="2.3" fill="#dcb0dc"/><ellipse cx="864.4" cy="427.4" rx="1.8" ry="2.3" fill="#dcb0dc"/><ellipse cx="992.9" cy="596.3" rx="1.8" ry="2.3" fill="#dcb0dc"/><ellipse cx="892.2" cy="557.7" rx="1.8" ry="2.3" fill="#dcb0dc"/><ellipse cx="974.1" cy="351.3" rx="1.8" ry="2.3" fill="#dcb0dc"/><ellipse cx="997.6" cy="637.1" rx="1.8" ry="2.3" fill="#dcb0dc"/><ellipse cx="882.1" cy="639.5" rx="1.8" ry="2.3" fill="#dcb0dc"/><ellipse cx="974.9" cy="461.5" rx="1.8" ry="2.3" fill="#dcb0dc"/><ellipse cx="1008.9" cy="401.9" rx="1.8" ry="2.3" fill="#dcb0dc"/><ellipse cx="932.0" cy="474.8" rx="1.8" ry="2.3" fill="#dcb0dc"/><ellipse cx="926.0" cy="656.4" rx="1.8" ry="2.3" fill="#dcb0dc"/><ellipse cx="950.3" cy="571.4" rx="1.8" ry="2.3" fill="#dcb0dc"/><ellipse cx="1029.5" cy="393.2" rx="1.8" ry="2.3" fill="#dcb0dc"/><ellipse cx="884.3" cy="608.5" rx="1.8" ry="2.3" fill="#dcb0dc"/><ellipse cx="870.5" cy="738.8" rx="1.8" ry="2.3" fill="#dcb0dc"/><ellipse cx="906.8" cy="532.8" rx="1.8" ry="2.3" fill="#dcb0dc"/><ellipse cx="923.9" cy="662.9" rx="1.8" ry="2.3" fill="#dcb0dc"/><ellipse cx="1015.9" cy="562.5" rx="1.8" ry="2.3" fill="#dcb0dc"/><ellipse cx="874.6" cy="518.7" rx="1.8" ry="2.3" fill="#dcb0dc"/><ellipse cx="976.2" cy="417.5" rx="1.8" ry="2.3" fill="#dcb0dc"/><ellipse cx="1009.7" cy="635.5" rx="1.8" ry="2.3" fill="#dcb0dc"/><ellipse cx="885.0" cy="516.7" rx="1.8" ry="2.3" fill="#dcb0dc"/><ellipse cx="885.5" cy="643.3" rx="1.8" ry="2.3" fill="#dcb0dc"/><ellipse cx="851.0" cy="652.5" rx="1.8" ry="2.3" fill="#dcb0dc"/><ellipse cx="853.9" cy="703.1" rx="1.8" ry="2.3" fill="#dcb0dc"/><ellipse cx="945.2" cy="564.6" rx="1.8" ry="2.3" fill="#dcb0dc"/><ellipse cx="860.1" cy="414.7" rx="1.8" ry="2.3" fill="#dcb0dc"/><ellipse cx="909.1" cy="726.6" rx="1.8" ry="2.3" fill="#dcb0dc"/><ellipse cx="956.0" cy="659.1" rx="1.8" ry="2.3" fill="#dcb0dc"/><ellipse cx="853.9" cy="438.4" rx="1.8" ry="2.3" fill="#dcb0dc"/><ellipse cx="846.0" cy="655.5" rx="1.8" ry="2.3" fill="#dcb0dc"/><ellipse cx="875.5" cy="488.7" rx="1.8" ry="2.3" fill="#dcb0dc"/><ellipse cx="968.7" cy="593.0" rx="1.8" ry="2.3" fill="#dcb0dc"/><ellipse cx="903.3" cy="544.4" rx="1.8" ry="2.3" fill="#dcb0dc"/><ellipse cx="896.9" cy="581.2" rx="1.8" ry="2.3" fill="#dcb0dc"/><ellipse cx="909.6" cy="502.7" rx="1.8" ry="2.3" fill="#dcb0dc"/><ellipse cx="889.3" cy="488.7" rx="1.8" ry="2.3" fill="#dcb0dc"/><ellipse cx="891.6" cy="388.8" rx="1.8" ry="2.3" fill="#dcb0dc"/><ellipse cx="901.0" cy="590.1" rx="1.8" ry="2.3" fill="#dcb0dc"/><ellipse cx="893.0" cy="422.7" rx="1.8" ry="2.3" fill="#dcb0dc"/><ellipse cx="1002.7" cy="494.7" rx="1.8" ry="2.3" fill="#dcb0dc"/><ellipse cx="939.2" cy="470.5" rx="1.8" ry="2.3" fill="#dcb0dc"/><ellipse cx="1010.5" cy="592.8" rx="1.8" ry="2.3" fill="#dcb0dc"/><ellipse cx="960.3" cy="584.3" rx="1.8" ry="2.3" fill="#dcb0dc"/><ellipse cx="973.6" cy="520.7" rx="1.8" ry="2.3" fill="#dcb0dc"/><ellipse cx="920.5" cy="508.0" rx="1.8" ry="2.3" fill="#dcb0dc"/><ellipse cx="937.8" cy="527.4" rx="1.8" ry="2.3" fill="#dcb0dc"/><ellipse cx="942.5" cy="548.1" rx="1.8" ry="2.3" fill="#dcb0dc"/><ellipse cx="991.8" cy="651.8" rx="1.8" ry="2.3" fill="#dcb0dc"/><ellipse cx="884.6" cy="394.5" rx="1.8" ry="2.3" fill="#dcb0dc"/><ellipse cx="899.2" cy="390.5" rx="1.8" ry="2.3" fill="#dcb0dc"/><ellipse cx="993.3" cy="553.6" rx="1.8" ry="2.3" fill="#dcb0dc"/><ellipse cx="896.2" cy="449.1" rx="1.8" ry="2.3" fill="#dcb0dc"/><ellipse cx="1007.0" cy="623.9" rx="1.8" ry="2.3" fill="#dcb0dc"/><ellipse cx="971.9" cy="590.0" rx="1.8" ry="2.3" fill="#dcb0dc"/><ellipse cx="983.5" cy="499.3" rx="1.8" ry="2.3" fill="#dcb0dc"/><ellipse cx="917.5" cy="567.8" rx="1.8" ry="2.3" fill="#dcb0dc"/><ellipse cx="1009.3" cy="678.4" rx="1.8" ry="2.3" fill="#dcb0dc"/><ellipse cx="1016.2" cy="619.1" rx="1.8" ry="2.3" fill="#dcb0dc"/><ellipse cx="856.1" cy="489.3" rx="1.8" ry="2.3" fill="#dcb0dc"/><ellipse cx="1026.5" cy="509.4" rx="1.8" ry="2.3" fill="#dcb0dc"/><ellipse cx="939.8" cy="469.5" rx="1.8" ry="2.3" fill="#dcb0dc"/><ellipse cx="1005.8" cy="510.3" rx="1.8" ry="2.3" fill="#dcb0dc"/><ellipse cx="1030.2" cy="340.0" rx="1.8" ry="2.3" fill="#dcb0dc"/><ellipse cx="1030.7" cy="317.4" rx="1.8" ry="2.3" fill="#dcb0dc"/><ellipse cx="870.2" cy="533.2" rx="1.8" ry="2.3" fill="#dcb0dc"/><ellipse cx="963.5" cy="386.2" rx="1.8" ry="2.3" fill="#dcb0dc"/><ellipse cx="948.9" cy="690.3" rx="1.8" ry="2.3" fill="#dcb0dc"/><ellipse cx="924.7" cy="639.1" rx="1.8" ry="2.3" fill="#dcb0dc"/><ellipse cx="954.5" cy="559.7" rx="1.8" ry="2.3" fill="#dcb0dc"/><ellipse cx="874.9" cy="557.5" rx="1.8" ry="2.3" fill="#dcb0dc"/><ellipse cx="1013.1" cy="562.9" rx="1.8" ry="2.3" fill="#dcb0dc"/><ellipse cx="883.2" cy="547.2" rx="1.8" ry="2.3" fill="#dcb0dc"/><ellipse cx="945.3" cy="476.4" rx="1.8" ry="2.3" fill="#dcb0dc"/><ellipse cx="951.8" cy="578.6" rx="1.8" ry="2.3" fill="#dcb0dc"/><ellipse cx="845.4" cy="485.1" rx="1.8" ry="2.3" fill="#dcb0dc"/><ellipse cx="966.8" cy="421.7" rx="1.8" ry="2.3" fill="#dcb0dc"/><ellipse cx="855.8" cy="673.8" rx="1.8" ry="2.3" fill="#dcb0dc"/><ellipse cx="905.4" cy="718.8" rx="1.8" ry="2.3" fill="#dcb0dc"/><ellipse cx="948.2" cy="390.6" rx="1.8" ry="2.3" fill="#dcb0dc"/><ellipse cx="963.0" cy="440.8" rx="1.8" ry="2.3" fill="#dcb0dc"/><ellipse cx="996.7" cy="589.1" rx="1.8" ry="2.3" fill="#dcb0dc"/><ellipse cx="986.1" cy="355.7" rx="1.8" ry="2.3" fill="#dcb0dc"/><ellipse cx="848.5" cy="690.4" rx="1.8" ry="2.3" fill="#dcb0dc"/><ellipse cx="868.7" cy="466.7" rx="1.8" ry="2.3" fill="#dcb0dc"/><ellipse cx="847.7" cy="463.7" rx="1.8" ry="2.3" fill="#dcb0dc"/><ellipse cx="932.0" cy="705.5" rx="1.8" ry="2.3" fill="#dcb0dc"/><ellipse cx="903.0" cy="470.0" rx="1.8" ry="2.3" fill="#dcb0dc"/><ellipse cx="999.3" cy="394.5" rx="1.8" ry="2.3" fill="#dcb0dc"/><ellipse cx="962.7" cy="567.3" rx="1.8" ry="2.3" fill="#dcb0dc"/><ellipse cx="1019.7" cy="333.9" rx="1.8" ry="2.3" fill="#dcb0dc"/><ellipse cx="949.0" cy="491.0" rx="1.8" ry="2.3" fill="#dcb0dc"/><ellipse cx="998.5" cy="419.3" rx="1.8" ry="2.3" fill="#dcb0dc"/><ellipse cx="977.8" cy="405.7" rx="1.8" ry="2.3" fill="#dcb0dc"/><ellipse cx="936.1" cy="707.1" rx="1.8" ry="2.3" fill="#dcb0dc"/><ellipse cx="887.6" cy="484.8" rx="1.8" ry="2.3" fill="#dcb0dc"/><ellipse cx="1016.3" cy="561.4" rx="1.8" ry="2.3" fill="#dcb0dc"/><ellipse cx="854.5" cy="468.4" rx="1.8" ry="2.3" fill="#dcb0dc"/><ellipse cx="887.1" cy="489.0" rx="1.8" ry="2.3" fill="#dcb0dc"/><ellipse cx="1002.5" cy="577.7" rx="1.8" ry="2.3" fill="#dcb0dc"/><ellipse cx="1028.2" cy="553.7" rx="1.8" ry="2.3" fill="#dcb0dc"/><ellipse cx="961.3" cy="484.9" rx="1.8" ry="2.3" fill="#dcb0dc"/><ellipse cx="978.3" cy="515.8" rx="1.8" ry="2.3" fill="#dcb0dc"/><ellipse cx="853.2" cy="578.5" rx="1.8" ry="2.3" fill="#dcb0dc"/><ellipse cx="915.0" cy="561.2" rx="1.8" ry="2.3" fill="#dcb0dc"/><ellipse cx="851.3" cy="413.3" rx="1.8" ry="2.3" fill="#dcb0dc"/><ellipse cx="1028.7" cy="446.6" rx="1.8" ry="2.3" fill="#dcb0dc"/><ellipse cx="904.7" cy="429.4" rx="1.8" ry="2.3" fill="#dcb0dc"/><ellipse cx="954.6" cy="678.6" rx="1.8" ry="2.3" fill="#dcb0dc"/><ellipse cx="876.3" cy="569.8" rx="1.8" ry="2.3" fill="#dcb0dc"/><ellipse cx="936.9" cy="634.2" rx="1.8" ry="2.3" fill="#dcb0dc"/><ellipse cx="949.4" cy="439.3" rx="1.8" ry="2.3" fill="#dcb0dc"/><ellipse cx="878.0" cy="649.2" rx="1.8" ry="2.3" fill="#dcb0dc"/><ellipse cx="856.8" cy="710.1" rx="1.8" ry="2.3" fill="#dcb0dc"/><ellipse cx="848.4" cy="472.6" rx="1.8" ry="2.3" fill="#dcb0dc"/><ellipse cx="930.9" cy="665.2" rx="1.8" ry="2.3" fill="#dcb0dc"/><ellipse cx="959.7" cy="615.5" rx="1.8" ry="2.3" fill="#dcb0dc"/><ellipse cx="986.6" cy="593.6" rx="1.8" ry="2.3" fill="#dcb0dc"/><ellipse cx="851.8" cy="698.5" rx="1.8" ry="2.3" fill="#dcb0dc"/><ellipse cx="870.1" cy="451.9" rx="1.8" ry="2.3" fill="#dcb0dc"/><ellipse cx="849.1" cy="414.6" rx="1.8" ry="2.3" fill="#dcb0dc"/><ellipse cx="1008.6" cy="460.2" rx="1.8" ry="2.3" fill="#dcb0dc"/><ellipse cx="858.4" cy="416.4" rx="1.8" ry="2.3" fill="#dcb0dc"/><ellipse cx="1002.8" cy="542.1" rx="1.8" ry="2.3" fill="#dcb0dc"/><ellipse cx="1016.1" cy="333.4" rx="1.8" ry="2.3" fill="#dcb0dc"/><ellipse cx="863.4" cy="499.8" rx="1.8" ry="2.3" fill="#dcb0dc"/><ellipse cx="878.3" cy="429.8" rx="1.8" ry="2.3" fill="#dcb0dc"/><ellipse cx="880.1" cy="618.0" rx="1.8" ry="2.3" fill="#dcb0dc"/><ellipse cx="873.9" cy="452.2" rx="1.8" ry="2.3" fill="#dcb0dc"/><ellipse cx="943.8" cy="491.0" rx="1.8" ry="2.3" fill="#dcb0dc"/><ellipse cx="870.4" cy="597.0" rx="1.8" ry="2.3" fill="#dcb0dc"/><ellipse cx="938.5" cy="498.1" rx="1.8" ry="2.3" fill="#dcb0dc"/><ellipse cx="932.1" cy="376.7" rx="1.8" ry="2.3" fill="#dcb0dc"/><ellipse cx="958.9" cy="418.2" rx="1.8" ry="2.3" fill="#dcb0dc"/><ellipse cx="905.8" cy="379.1" rx="1.8" ry="2.3" fill="#dcb0dc"/><ellipse cx="1010.7" cy="533.2" rx="1.8" ry="2.3" fill="#dcb0dc"/><ellipse cx="916.5" cy="564.3" rx="1.8" ry="2.3" fill="#dcb0dc"/><ellipse cx="1020.6" cy="365.1" rx="1.8" ry="2.3" fill="#dcb0dc"/><ellipse cx="914.9" cy="624.7" rx="1.8" ry="2.3" fill="#dcb0dc"/><ellipse cx="912.7" cy="625.3" rx="1.8" ry="2.3" fill="#dcb0dc"/><ellipse cx="1014.6" cy="335.4" rx="1.8" ry="2.3" fill="#dcb0dc"/><ellipse cx="896.1" cy="485.5" rx="1.8" ry="2.3" fill="#dcb0dc"/><ellipse cx="984.5" cy="616.8" rx="1.8" ry="2.3" fill="#dcb0dc"/><ellipse cx="974.9" cy="671.9" rx="1.8" ry="2.3" fill="#dcb0dc"/><ellipse cx="877.3" cy="531.0" rx="1.8" ry="2.3" fill="#dcb0dc"/><ellipse cx="1004.1" cy="600.2" rx="1.8" ry="2.3" fill="#dcb0dc"/><ellipse cx="863.4" cy="747.9" rx="1.8" ry="2.3" fill="#dcb0dc"/><ellipse cx="982.7" cy="646.9" rx="1.8" ry="2.3" fill="#dcb0dc"/><ellipse cx="910.8" cy="590.0" rx="1.8" ry="2.3" fill="#dcb0dc"/><ellipse cx="1024.2" cy="637.4" rx="1.8" ry="2.3" fill="#dcb0dc"/><ellipse cx="951.6" cy="671.2" rx="1.8" ry="2.3" fill="#dcb0dc"/><ellipse cx="1031.8" cy="612.5" rx="1.8" ry="2.3" fill="#dcb0dc"/><ellipse cx="966.6" cy="688.8" rx="1.8" ry="2.3" fill="#dcb0dc"/><ellipse cx="869.3" cy="538.7" rx="1.8" ry="2.3" fill="#dcb0dc"/><ellipse cx="949.2" cy="401.0" rx="1.8" ry="2.3" fill="#dcb0dc"/><ellipse cx="990.3" cy="355.3" rx="1.8" ry="2.3" fill="#dcb0dc"/><ellipse cx="961.5" cy="447.8" rx="1.8" ry="2.3" fill="#dcb0dc"/><ellipse cx="903.3" cy="594.3" rx="1.8" ry="2.3" fill="#dcb0dc"/><ellipse cx="878.4" cy="549.8" rx="1.8" ry="2.3" fill="#dcb0dc"/><ellipse cx="1004.9" cy="679.0" rx="1.8" ry="2.3" fill="#dcb0dc"/><ellipse cx="891.9" cy="513.7" rx="1.8" ry="2.3" fill="#dcb0dc"/><ellipse cx="973.8" cy="409.3" rx="1.8" ry="2.3" fill="#dcb0dc"/><ellipse cx="1003.3" cy="397.6" rx="1.8" ry="2.3" fill="#dcb0dc"/><ellipse cx="947.8" cy="476.1" rx="1.8" ry="2.3" fill="#dcb0dc"/><ellipse cx="842.2" cy="408.3" rx="1.8" ry="2.3" fill="#dcb0dc"/><ellipse cx="842.4" cy="525.3" rx="1.8" ry="2.3" fill="#dcb0dc"/><ellipse cx="894.3" cy="736.5" rx="1.8" ry="2.3" fill="#dcb0dc"/><ellipse cx="963.2" cy="370.1" rx="1.8" ry="2.3" fill="#dcb0dc"/><ellipse cx="978.0" cy="422.5" rx="1.8" ry="2.3" fill="#dcb0dc"/><ellipse cx="933.5" cy="620.5" rx="1.8" ry="2.3" fill="#dcb0dc"/><ellipse cx="1004.8" cy="660.6" rx="1.8" ry="2.3" fill="#dcb0dc"/><ellipse cx="922.0" cy="481.3" rx="1.8" ry="2.3" fill="#dcb0dc"/><ellipse cx="917.5" cy="481.8" rx="1.8" ry="2.3" fill="#dcb0dc"/><ellipse cx="982.9" cy="502.5" rx="1.8" ry="2.3" fill="#dcb0dc"/><ellipse cx="972.2" cy="396.6" rx="1.8" ry="2.3" fill="#dcb0dc"/><ellipse cx="990.7" cy="678.9" rx="1.8" ry="2.3" fill="#dcb0dc"/><ellipse cx="880.6" cy="609.2" rx="1.8" ry="2.3" fill="#dcb0dc"/><ellipse cx="872.8" cy="405.1" rx="1.8" ry="2.3" fill="#dcb0dc"/><ellipse cx="920.7" cy="433.9" rx="1.8" ry="2.3" fill="#dcb0dc"/><ellipse cx="980.8" cy="542.7" rx="1.8" ry="2.3" fill="#dcb0dc"/><ellipse cx="849.4" cy="409.1" rx="2.4" ry="3.2" fill="#dcd664" stroke="#b9b04a" stroke-width="0.6"/><ellipse cx="845.8" cy="412.2" rx="2.5" ry="3.4" fill="#dcd868" stroke="#b9b04a" stroke-width="0.6"/><ellipse cx="847.0" cy="421.6" rx="3.0" ry="4.1" fill="#dcd664" stroke="#b9b04a" stroke-width="0.6"/><ellipse cx="847.6" cy="429.5" rx="3.3" ry="4.5" fill="#dcd664" stroke="#b9b04a" stroke-width="0.6"/><ellipse cx="843.3" cy="434.2" rx="2.2" ry="3.0" fill="#dcd868" stroke="#b9b04a" stroke-width="0.6"/><ellipse cx="844.6" cy="441.5" rx="3.7" ry="5.0" fill="#dcd664" stroke="#b9b04a" stroke-width="0.6"/><ellipse cx="849.1" cy="451.4" rx="3.0" ry="4.1" fill="#dcd664" stroke="#b9b04a" stroke-width="0.6"/><ellipse cx="848.9" cy="463.0" rx="3.7" ry="5.0" fill="#dcd664" stroke="#b9b04a" stroke-width="0.6"/><ellipse cx="844.2" cy="474.5" rx="3.7" ry="5.0" fill="#dcd664" stroke="#b9b04a" stroke-width="0.6"/><ellipse cx="848.3" cy="481.8" rx="3.3" ry="4.5" fill="#dcd664" stroke="#b9b04a" stroke-width="0.6"/><ellipse cx="846.6" cy="490.5" rx="3.0" ry="4.1" fill="#dcd664" stroke="#b9b04a" stroke-width="0.6"/><ellipse cx="844.8" cy="503.9" rx="3.0" ry="4.1" fill="#dcd664" stroke="#b9b04a" stroke-width="0.6"/><ellipse cx="840.8" cy="504.9" rx="2.2" ry="3.0" fill="#dcd868" stroke="#b9b04a" stroke-width="0.6"/><ellipse cx="848.4" cy="514.9" rx="3.0" ry="4.1" fill="#dcd664" stroke="#b9b04a" stroke-width="0.6"/><ellipse cx="853.1" cy="511.8" rx="2.8" ry="3.8" fill="#dcd868" stroke="#b9b04a" stroke-width="0.6"/><ellipse cx="846.2" cy="526.4" rx="3.3" ry="4.5" fill="#dcd664" stroke="#b9b04a" stroke-width="0.6"/><ellipse cx="844.6" cy="535.4" rx="3.3" ry="4.5" fill="#dcd664" stroke="#b9b04a" stroke-width="0.6"/><ellipse cx="849.3" cy="545.7" rx="3.3" ry="4.5" fill="#dcd664" stroke="#b9b04a" stroke-width="0.6"/><ellipse cx="852.9" cy="542.0" rx="2.2" ry="3.0" fill="#dcd868" stroke="#b9b04a" stroke-width="0.6"/><ellipse cx="845.6" cy="557.7" rx="3.0" ry="4.1" fill="#dcd664" stroke="#b9b04a" stroke-width="0.6"/><ellipse cx="841.1" cy="556.5" rx="2.2" ry="3.0" fill="#dcd868" stroke="#b9b04a" stroke-width="0.6"/><ellipse cx="844.7" cy="568.5" rx="2.7" ry="3.6" fill="#dcd664" stroke="#b9b04a" stroke-width="0.6"/><ellipse cx="840.4" cy="568.2" rx="2.5" ry="3.4" fill="#dcd868" stroke="#b9b04a" stroke-width="0.6"/><ellipse cx="847.3" cy="577.2" rx="2.4" ry="3.2" fill="#dcd664" stroke="#b9b04a" stroke-width="0.6"/><ellipse cx="843.4" cy="576.7" rx="2.2" ry="3.0" fill="#dcd868" stroke="#b9b04a" stroke-width="0.6"/><ellipse cx="844.1" cy="587.3" rx="3.0" ry="4.1" fill="#dcd664" stroke="#b9b04a" stroke-width="0.6"/><ellipse cx="848.4" cy="597.5" rx="2.7" ry="3.6" fill="#dcd664" stroke="#b9b04a" stroke-width="0.6"/><ellipse cx="844.9" cy="611.7" rx="3.3" ry="4.5" fill="#dcd664" stroke="#b9b04a" stroke-width="0.6"/><ellipse cx="848.7" cy="610.9" rx="2.2" ry="3.0" fill="#dcd868" stroke="#b9b04a" stroke-width="0.6"/><ellipse cx="844.8" cy="621.8" rx="3.3" ry="4.5" fill="#dcd664" stroke="#b9b04a" stroke-width="0.6"/><ellipse cx="848.0" cy="629.6" rx="2.4" ry="3.2" fill="#dcd664" stroke="#b9b04a" stroke-width="0.6"/><ellipse cx="848.7" cy="638.3" rx="3.7" ry="5.0" fill="#dcd664" stroke="#b9b04a" stroke-width="0.6"/><ellipse cx="845.3" cy="652.3" rx="3.7" ry="5.0" fill="#dcd664" stroke="#b9b04a" stroke-width="0.6"/><ellipse cx="847.3" cy="663.5" rx="3.0" ry="4.1" fill="#dcd664" stroke="#b9b04a" stroke-width="0.6"/><ellipse cx="846.3" cy="673.6" rx="2.7" ry="3.6" fill="#dcd664" stroke="#b9b04a" stroke-width="0.6"/><ellipse cx="844.4" cy="683.0" rx="2.7" ry="3.6" fill="#dcd664" stroke="#b9b04a" stroke-width="0.6"/><ellipse cx="848.6" cy="681.9" rx="2.5" ry="3.4" fill="#dcd868" stroke="#b9b04a" stroke-width="0.6"/><ellipse cx="844.3" cy="691.9" rx="2.7" ry="3.6" fill="#dcd664" stroke="#b9b04a" stroke-width="0.6"/><ellipse cx="844.6" cy="702.7" rx="3.7" ry="5.0" fill="#dcd664" stroke="#b9b04a" stroke-width="0.6"/><ellipse cx="848.3" cy="711.8" rx="3.7" ry="5.0" fill="#dcd664" stroke="#b9b04a" stroke-width="0.6"/><ellipse cx="846.4" cy="724.6" rx="2.7" ry="3.6" fill="#dcd664" stroke="#b9b04a" stroke-width="0.6"/><ellipse cx="846.2" cy="734.4" rx="3.0" ry="4.1" fill="#dcd664" stroke="#b9b04a" stroke-width="0.6"/><ellipse cx="850.2" cy="731.3" rx="2.5" ry="3.4" fill="#dcd868" stroke="#b9b04a" stroke-width="0.6"/><ellipse cx="847.8" cy="745.5" rx="3.0" ry="4.1" fill="#dcd664" stroke="#b9b04a" stroke-width="0.6"/><ellipse cx="844.0" cy="746.1" rx="2.2" ry="3.0" fill="#dcd868" stroke="#b9b04a" stroke-width="0.6"/><ellipse cx="844.9" cy="759.7" rx="3.0" ry="4.1" fill="#dcd664" stroke="#b9b04a" stroke-width="0.6"/><ellipse cx="859.0" cy="404.4" rx="3.7" ry="5.0" fill="#dcd664" stroke="#b9b04a" stroke-width="0.6"/><ellipse cx="854.9" cy="414.8" rx="3.3" ry="4.5" fill="#dcd664" stroke="#b9b04a" stroke-width="0.6"/><ellipse cx="850.9" cy="416.6" rx="2.2" ry="3.0" fill="#dcd868" stroke="#b9b04a" stroke-width="0.6"/><ellipse cx="858.7" cy="424.7" rx="3.0" ry="4.1" fill="#dcd664" stroke="#b9b04a" stroke-width="0.6"/><ellipse cx="862.2" cy="424.0" rx="2.5" ry="3.4" fill="#dcd868" stroke="#b9b04a" stroke-width="0.6"/><ellipse cx="853.5" cy="437.8" rx="3.3" ry="4.5" fill="#dcd664" stroke="#b9b04a" stroke-width="0.6"/><ellipse cx="849.7" cy="439.4" rx="2.5" ry="3.4" fill="#dcd868" stroke="#b9b04a" stroke-width="0.6"/><ellipse cx="853.6" cy="447.2" rx="3.3" ry="4.5" fill="#dcd664" stroke="#b9b04a" stroke-width="0.6"/><ellipse cx="854.2" cy="456.1" rx="3.7" ry="5.0" fill="#dcd664" stroke="#b9b04a" stroke-width="0.6"/><ellipse cx="856.7" cy="467.0" rx="2.7" ry="3.6" fill="#dcd664" stroke="#b9b04a" stroke-width="0.6"/><ellipse cx="853.0" cy="470.0" rx="2.8" ry="3.8" fill="#dcd868" stroke="#b9b04a" stroke-width="0.6"/><ellipse cx="855.7" cy="475.8" rx="2.7" ry="3.6" fill="#dcd664" stroke="#b9b04a" stroke-width="0.6"/><ellipse cx="860.0" cy="476.5" rx="2.2" ry="3.0" fill="#dcd868" stroke="#b9b04a" stroke-width="0.6"/><ellipse cx="857.1" cy="486.8" rx="3.3" ry="4.5" fill="#dcd664" stroke="#b9b04a" stroke-width="0.6"/><ellipse cx="861.5" cy="482.1" rx="2.8" ry="3.8" fill="#dcd868" stroke="#b9b04a" stroke-width="0.6"/><ellipse cx="858.0" cy="498.6" rx="3.7" ry="5.0" fill="#dcd664" stroke="#b9b04a" stroke-width="0.6"/><ellipse cx="858.1" cy="510.4" rx="2.4" ry="3.2" fill="#dcd664" stroke="#b9b04a" stroke-width="0.6"/><ellipse cx="858.3" cy="521.9" rx="3.0" ry="4.1" fill="#dcd664" stroke="#b9b04a" stroke-width="0.6"/><ellipse cx="854.2" cy="524.4" rx="2.5" ry="3.4" fill="#dcd868" stroke="#b9b04a" stroke-width="0.6"/><ellipse cx="856.9" cy="533.6" rx="2.4" ry="3.2" fill="#dcd664" stroke="#b9b04a" stroke-width="0.6"/><ellipse cx="853.4" cy="547.3" rx="3.7" ry="5.0" fill="#dcd664" stroke="#b9b04a" stroke-width="0.6"/><ellipse cx="849.9" cy="547.4" rx="2.8" ry="3.8" fill="#dcd868" stroke="#b9b04a" stroke-width="0.6"/><ellipse cx="857.2" cy="556.2" rx="3.3" ry="4.5" fill="#dcd664" stroke="#b9b04a" stroke-width="0.6"/><ellipse cx="853.1" cy="555.0" rx="2.2" ry="3.0" fill="#dcd868" stroke="#b9b04a" stroke-width="0.6"/><ellipse cx="854.0" cy="569.1" rx="2.7" ry="3.6" fill="#dcd664" stroke="#b9b04a" stroke-width="0.6"/><ellipse cx="856.5" cy="578.6" rx="3.3" ry="4.5" fill="#dcd664" stroke="#b9b04a" stroke-width="0.6"/><ellipse cx="851.8" cy="580.1" rx="2.2" ry="3.0" fill="#dcd868" stroke="#b9b04a" stroke-width="0.6"/><ellipse cx="857.2" cy="588.5" rx="3.3" ry="4.5" fill="#dcd664" stroke="#b9b04a" stroke-width="0.6"/><ellipse cx="862.0" cy="583.9" rx="2.2" ry="3.0" fill="#dcd868" stroke="#b9b04a" stroke-width="0.6"/><ellipse cx="855.8" cy="598.9" rx="2.4" ry="3.2" fill="#dcd664" stroke="#b9b04a" stroke-width="0.6"/><ellipse cx="854.1" cy="610.0" rx="3.0" ry="4.1" fill="#dcd664" stroke="#b9b04a" stroke-width="0.6"/><ellipse cx="858.5" cy="609.3" rx="2.5" ry="3.4" fill="#dcd868" stroke="#b9b04a" stroke-width="0.6"/><ellipse cx="856.0" cy="619.1" rx="3.3" ry="4.5" fill="#dcd664" stroke="#b9b04a" stroke-width="0.6"/><ellipse cx="856.3" cy="630.8" rx="3.0" ry="4.1" fill="#dcd664" stroke="#b9b04a" stroke-width="0.6"/><ellipse cx="854.3" cy="643.2" rx="3.7" ry="5.0" fill="#dcd664" stroke="#b9b04a" stroke-width="0.6"/><ellipse cx="859.1" cy="641.1" rx="2.5" ry="3.4" fill="#dcd868" stroke="#b9b04a" stroke-width="0.6"/><ellipse cx="854.7" cy="654.2" rx="3.0" ry="4.1" fill="#dcd664" stroke="#b9b04a" stroke-width="0.6"/><ellipse cx="858.4" cy="649.5" rx="2.2" ry="3.0" fill="#dcd868" stroke="#b9b04a" stroke-width="0.6"/><ellipse cx="857.3" cy="661.1" rx="3.7" ry="5.0" fill="#dcd664" stroke="#b9b04a" stroke-width="0.6"/><ellipse cx="853.6" cy="661.8" rx="2.5" ry="3.4" fill="#dcd868" stroke="#b9b04a" stroke-width="0.6"/><ellipse cx="854.7" cy="674.1" rx="2.4" ry="3.2" fill="#dcd664" stroke="#b9b04a" stroke-width="0.6"/><ellipse cx="858.6" cy="674.0" rx="2.8" ry="3.8" fill="#dcd868" stroke="#b9b04a" stroke-width="0.6"/><ellipse cx="853.7" cy="686.7" rx="3.3" ry="4.5" fill="#dcd664" stroke="#b9b04a" stroke-width="0.6"/><ellipse cx="857.2" cy="688.3" rx="2.2" ry="3.0" fill="#dcd868" stroke="#b9b04a" stroke-width="0.6"/><ellipse cx="856.8" cy="697.6" rx="3.7" ry="5.0" fill="#dcd664" stroke="#b9b04a" stroke-width="0.6"/><ellipse cx="859.1" cy="705.2" rx="2.7" ry="3.6" fill="#dcd664" stroke="#b9b04a" stroke-width="0.6"/><ellipse cx="856.0" cy="715.7" rx="3.3" ry="4.5" fill="#dcd664" stroke="#b9b04a" stroke-width="0.6"/><ellipse cx="859.7" cy="716.7" rx="2.8" ry="3.8" fill="#dcd868" stroke="#b9b04a" stroke-width="0.6"/><ellipse cx="855.1" cy="724.2" rx="3.0" ry="4.1" fill="#dcd664" stroke="#b9b04a" stroke-width="0.6"/><ellipse cx="853.8" cy="734.7" rx="3.3" ry="4.5" fill="#dcd664" stroke="#b9b04a" stroke-width="0.6"/><ellipse cx="849.8" cy="737.5" rx="2.5" ry="3.4" fill="#dcd868" stroke="#b9b04a" stroke-width="0.6"/><ellipse cx="853.8" cy="743.8" rx="2.4" ry="3.2" fill="#dcd664" stroke="#b9b04a" stroke-width="0.6"/><ellipse cx="858.0" cy="740.9" rx="2.8" ry="3.8" fill="#dcd868" stroke="#b9b04a" stroke-width="0.6"/><ellipse cx="855.5" cy="753.5" rx="3.3" ry="4.5" fill="#dcd664" stroke="#b9b04a" stroke-width="0.6"/><ellipse cx="865.1" cy="399.9" rx="3.0" ry="4.1" fill="#dcd664" stroke="#b9b04a" stroke-width="0.6"/><ellipse cx="867.2" cy="406.7" rx="2.7" ry="3.6" fill="#dcd664" stroke="#b9b04a" stroke-width="0.6"/><ellipse cx="862.6" cy="409.7" rx="2.8" ry="3.8" fill="#dcd868" stroke="#b9b04a" stroke-width="0.6"/><ellipse cx="865.0" cy="420.1" rx="3.3" ry="4.5" fill="#dcd664" stroke="#b9b04a" stroke-width="0.6"/><ellipse cx="865.3" cy="428.6" rx="3.3" ry="4.5" fill="#dcd664" stroke="#b9b04a" stroke-width="0.6"/><ellipse cx="865.7" cy="439.1" rx="3.0" ry="4.1" fill="#dcd664" stroke="#b9b04a" stroke-width="0.6"/><ellipse cx="869.9" cy="439.1" rx="2.8" ry="3.8" fill="#dcd868" stroke="#b9b04a" stroke-width="0.6"/><ellipse cx="867.0" cy="450.8" rx="3.0" ry="4.1" fill="#dcd664" stroke="#b9b04a" stroke-width="0.6"/><ellipse cx="866.2" cy="461.7" rx="3.7" ry="5.0" fill="#dcd664" stroke="#b9b04a" stroke-width="0.6"/><ellipse cx="868.2" cy="473.6" rx="3.7" ry="5.0" fill="#dcd664" stroke="#b9b04a" stroke-width="0.6"/><ellipse cx="868.0" cy="484.4" rx="3.7" ry="5.0" fill="#dcd664" stroke="#b9b04a" stroke-width="0.6"/><ellipse cx="868.3" cy="493.9" rx="2.7" ry="3.6" fill="#dcd664" stroke="#b9b04a" stroke-width="0.6"/><ellipse cx="868.0" cy="503.3" rx="3.3" ry="4.5" fill="#dcd664" stroke="#b9b04a" stroke-width="0.6"/><ellipse cx="872.7" cy="500.5" rx="2.5" ry="3.4" fill="#dcd868" stroke="#b9b04a" stroke-width="0.6"/><ellipse cx="867.1" cy="512.8" rx="3.0" ry="4.1" fill="#dcd664" stroke="#b9b04a" stroke-width="0.6"/><ellipse cx="865.5" cy="523.5" rx="2.4" ry="3.2" fill="#dcd664" stroke="#b9b04a" stroke-width="0.6"/><ellipse cx="863.3" cy="536.0" rx="3.3" ry="4.5" fill="#dcd664" stroke="#b9b04a" stroke-width="0.6"/><ellipse cx="863.5" cy="545.5" rx="3.3" ry="4.5" fill="#dcd664" stroke="#b9b04a" stroke-width="0.6"/><ellipse cx="865.4" cy="553.0" rx="3.0" ry="4.1" fill="#dcd664" stroke="#b9b04a" stroke-width="0.6"/><ellipse cx="863.9" cy="564.2" rx="3.3" ry="4.5" fill="#dcd664" stroke="#b9b04a" stroke-width="0.6"/><ellipse cx="865.4" cy="573.7" rx="3.7" ry="5.0" fill="#dcd664" stroke="#b9b04a" stroke-width="0.6"/><ellipse cx="860.5" cy="579.0" rx="2.8" ry="3.8" fill="#dcd868" stroke="#b9b04a" stroke-width="0.6"/><ellipse cx="864.3" cy="583.2" rx="3.3" ry="4.5" fill="#dcd664" stroke="#b9b04a" stroke-width="0.6"/><ellipse cx="866.9" cy="592.2" rx="3.0" ry="4.1" fill="#dcd664" stroke="#b9b04a" stroke-width="0.6"/><ellipse cx="863.3" cy="597.1" rx="2.8" ry="3.8" fill="#dcd868" stroke="#b9b04a" stroke-width="0.6"/><ellipse cx="868.3" cy="604.2" rx="2.7" ry="3.6" fill="#dcd664" stroke="#b9b04a" stroke-width="0.6"/><ellipse cx="863.7" cy="609.3" rx="2.5" ry="3.4" fill="#dcd868" stroke="#b9b04a" stroke-width="0.6"/><ellipse cx="865.4" cy="616.2" rx="3.0" ry="4.1" fill="#dcd664" stroke="#b9b04a" stroke-width="0.6"/><ellipse cx="865.6" cy="627.6" rx="3.0" ry="4.1" fill="#dcd664" stroke="#b9b04a" stroke-width="0.6"/><ellipse cx="864.4" cy="638.6" rx="3.7" ry="5.0" fill="#dcd664" stroke="#b9b04a" stroke-width="0.6"/><ellipse cx="867.1" cy="648.7" rx="2.7" ry="3.6" fill="#dcd664" stroke="#b9b04a" stroke-width="0.6"/><ellipse cx="863.4" cy="652.3" rx="2.2" ry="3.0" fill="#dcd868" stroke="#b9b04a" stroke-width="0.6"/><ellipse cx="868.2" cy="660.8" rx="3.3" ry="4.5" fill="#dcd664" stroke="#b9b04a" stroke-width="0.6"/><ellipse cx="866.1" cy="673.8" rx="2.4" ry="3.2" fill="#dcd664" stroke="#b9b04a" stroke-width="0.6"/><ellipse cx="867.1" cy="685.8" rx="2.4" ry="3.2" fill="#dcd664" stroke="#b9b04a" stroke-width="0.6"/><ellipse cx="862.9" cy="689.8" rx="2.2" ry="3.0" fill="#dcd868" stroke="#b9b04a" stroke-width="0.6"/><ellipse cx="868.5" cy="697.5" rx="3.3" ry="4.5" fill="#dcd664" stroke="#b9b04a" stroke-width="0.6"/><ellipse cx="864.7" cy="708.3" rx="3.3" ry="4.5" fill="#dcd664" stroke="#b9b04a" stroke-width="0.6"/><ellipse cx="860.1" cy="709.7" rx="2.8" ry="3.8" fill="#dcd868" stroke="#b9b04a" stroke-width="0.6"/><ellipse cx="865.5" cy="719.8" rx="2.7" ry="3.6" fill="#dcd664" stroke="#b9b04a" stroke-width="0.6"/><ellipse cx="870.0" cy="717.9" rx="2.2" ry="3.0" fill="#dcd868" stroke="#b9b04a" stroke-width="0.6"/><ellipse cx="868.5" cy="726.9" rx="2.7" ry="3.6" fill="#dcd664" stroke="#b9b04a" stroke-width="0.6"/><ellipse cx="868.4" cy="735.5" rx="3.7" ry="5.0" fill="#dcd664" stroke="#b9b04a" stroke-width="0.6"/><ellipse cx="863.0" cy="749.5" rx="3.7" ry="5.0" fill="#dcd664" stroke="#b9b04a" stroke-width="0.6"/><ellipse cx="867.4" cy="746.3" rx="2.5" ry="3.4" fill="#dcd868" stroke="#b9b04a" stroke-width="0.6"/><ellipse cx="878.0" cy="392.3" rx="3.7" ry="5.0" fill="#dcd664" stroke="#b9b04a" stroke-width="0.6"/><ellipse cx="875.9" cy="404.6" rx="2.4" ry="3.2" fill="#dcd664" stroke="#b9b04a" stroke-width="0.6"/><ellipse cx="878.0" cy="415.5" rx="3.3" ry="4.5" fill="#dcd664" stroke="#b9b04a" stroke-width="0.6"/><ellipse cx="875.8" cy="427.5" rx="2.7" ry="3.6" fill="#dcd664" stroke="#b9b04a" stroke-width="0.6"/><ellipse cx="874.5" cy="439.1" rx="2.4" ry="3.2" fill="#dcd664" stroke="#b9b04a" stroke-width="0.6"/><ellipse cx="875.2" cy="448.2" rx="3.3" ry="4.5" fill="#dcd664" stroke="#b9b04a" stroke-width="0.6"/><ellipse cx="876.8" cy="459.6" rx="2.7" ry="3.6" fill="#dcd664" stroke="#b9b04a" stroke-width="0.6"/><ellipse cx="874.7" cy="473.0" rx="2.4" ry="3.2" fill="#dcd664" stroke="#b9b04a" stroke-width="0.6"/><ellipse cx="872.7" cy="486.5" rx="3.7" ry="5.0" fill="#dcd664" stroke="#b9b04a" stroke-width="0.6"/><ellipse cx="876.3" cy="487.4" rx="2.8" ry="3.8" fill="#dcd868" stroke="#b9b04a" stroke-width="0.6"/><ellipse cx="874.7" cy="494.9" rx="2.4" ry="3.2" fill="#dcd664" stroke="#b9b04a" stroke-width="0.6"/><ellipse cx="878.6" cy="489.7" rx="2.8" ry="3.8" fill="#dcd868" stroke="#b9b04a" stroke-width="0.6"/><ellipse cx="873.5" cy="508.3" rx="3.7" ry="5.0" fill="#dcd664" stroke="#b9b04a" stroke-width="0.6"/><ellipse cx="877.0" cy="505.1" rx="2.8" ry="3.8" fill="#dcd868" stroke="#b9b04a" stroke-width="0.6"/><ellipse cx="875.2" cy="516.8" rx="3.7" ry="5.0" fill="#dcd664" stroke="#b9b04a" stroke-width="0.6"/><ellipse cx="874.4" cy="528.5" rx="3.3" ry="4.5" fill="#dcd664" stroke="#b9b04a" stroke-width="0.6"/><ellipse cx="879.3" cy="528.0" rx="2.8" ry="3.8" fill="#dcd868" stroke="#b9b04a" stroke-width="0.6"/><ellipse cx="873.2" cy="542.0" rx="3.0" ry="4.1" fill="#dcd664" stroke="#b9b04a" stroke-width="0.6"/><ellipse cx="873.1" cy="550.2" rx="2.4" ry="3.2" fill="#dcd664" stroke="#b9b04a" stroke-width="0.6"/><ellipse cx="876.8" cy="561.2" rx="2.7" ry="3.6" fill="#dcd664" stroke="#b9b04a" stroke-width="0.6"/><ellipse cx="874.9" cy="570.5" rx="3.3" ry="4.5" fill="#dcd664" stroke="#b9b04a" stroke-width="0.6"/><ellipse cx="879.1" cy="566.8" rx="2.5" ry="3.4" fill="#dcd868" stroke="#b9b04a" stroke-width="0.6"/><ellipse cx="872.8" cy="581.4" rx="2.4" ry="3.2" fill="#dcd664" stroke="#b9b04a" stroke-width="0.6"/><ellipse cx="869.1" cy="582.9" rx="2.5" ry="3.4" fill="#dcd868" stroke="#b9b04a" stroke-width="0.6"/><ellipse cx="876.2" cy="589.2" rx="3.7" ry="5.0" fill="#dcd664" stroke="#b9b04a" stroke-width="0.6"/><ellipse cx="877.7" cy="600.8" rx="3.0" ry="4.1" fill="#dcd664" stroke="#b9b04a" stroke-width="0.6"/><ellipse cx="875.8" cy="611.4" rx="2.4" ry="3.2" fill="#dcd664" stroke="#b9b04a" stroke-width="0.6"/><ellipse cx="876.3" cy="621.5" rx="2.7" ry="3.6" fill="#dcd664" stroke="#b9b04a" stroke-width="0.6"/><ellipse cx="872.4" cy="634.0" rx="2.7" ry="3.6" fill="#dcd664" stroke="#b9b04a" stroke-width="0.6"/><ellipse cx="877.1" cy="631.6" rx="2.5" ry="3.4" fill="#dcd868" stroke="#b9b04a" stroke-width="0.6"/><ellipse cx="872.6" cy="645.3" rx="3.7" ry="5.0" fill="#dcd664" stroke="#b9b04a" stroke-width="0.6"/><ellipse cx="877.1" cy="640.3" rx="2.8" ry="3.8" fill="#dcd868" stroke="#b9b04a" stroke-width="0.6"/><ellipse cx="874.8" cy="653.0" rx="3.7" ry="5.0" fill="#dcd664" stroke="#b9b04a" stroke-width="0.6"/><ellipse cx="879.5" cy="652.0" rx="2.5" ry="3.4" fill="#dcd868" stroke="#b9b04a" stroke-width="0.6"/><ellipse cx="876.8" cy="661.6" rx="3.0" ry="4.1" fill="#dcd664" stroke="#b9b04a" stroke-width="0.6"/><ellipse cx="873.2" cy="660.5" rx="2.8" ry="3.8" fill="#dcd868" stroke="#b9b04a" stroke-width="0.6"/><ellipse cx="875.1" cy="672.8" rx="2.4" ry="3.2" fill="#dcd664" stroke="#b9b04a" stroke-width="0.6"/><ellipse cx="874.6" cy="682.6" rx="3.0" ry="4.1" fill="#dcd664" stroke="#b9b04a" stroke-width="0.6"/><ellipse cx="870.9" cy="681.9" rx="2.2" ry="3.0" fill="#dcd868" stroke="#b9b04a" stroke-width="0.6"/><ellipse cx="875.7" cy="690.7" rx="3.3" ry="4.5" fill="#dcd664" stroke="#b9b04a" stroke-width="0.6"/><ellipse cx="879.6" cy="686.5" rx="2.5" ry="3.4" fill="#dcd868" stroke="#b9b04a" stroke-width="0.6"/><ellipse cx="872.6" cy="700.7" rx="3.7" ry="5.0" fill="#dcd664" stroke="#b9b04a" stroke-width="0.6"/><ellipse cx="873.8" cy="710.5" rx="2.7" ry="3.6" fill="#dcd664" stroke="#b9b04a" stroke-width="0.6"/><ellipse cx="870.0" cy="710.0" rx="2.5" ry="3.4" fill="#dcd868" stroke="#b9b04a" stroke-width="0.6"/><ellipse cx="877.7" cy="721.0" rx="3.7" ry="5.0" fill="#dcd664" stroke="#b9b04a" stroke-width="0.6"/><ellipse cx="877.2" cy="733.2" rx="2.7" ry="3.6" fill="#dcd664" stroke="#b9b04a" stroke-width="0.6"/><ellipse cx="881.7" cy="727.4" rx="2.5" ry="3.4" fill="#dcd868" stroke="#b9b04a" stroke-width="0.6"/><ellipse cx="877.3" cy="745.4" rx="2.4" ry="3.2" fill="#dcd664" stroke="#b9b04a" stroke-width="0.6"/><ellipse cx="881.1" cy="746.0" rx="2.2" ry="3.0" fill="#dcd868" stroke="#b9b04a" stroke-width="0.6"/><ellipse cx="882.2" cy="391.5" rx="3.3" ry="4.5" fill="#dcd664" stroke="#b9b04a" stroke-width="0.6"/><ellipse cx="886.3" cy="386.8" rx="2.8" ry="3.8" fill="#dcd868" stroke="#b9b04a" stroke-width="0.6"/><ellipse cx="886.4" cy="399.2" rx="2.4" ry="3.2" fill="#dcd664" stroke="#b9b04a" stroke-width="0.6"/><ellipse cx="883.3" cy="410.6" rx="3.3" ry="4.5" fill="#dcd664" stroke="#b9b04a" stroke-width="0.6"/><ellipse cx="883.2" cy="422.0" rx="2.7" ry="3.6" fill="#dcd664" stroke="#b9b04a" stroke-width="0.6"/><ellipse cx="886.9" cy="423.6" rx="2.8" ry="3.8" fill="#dcd868" stroke="#b9b04a" stroke-width="0.6"/><ellipse cx="884.3" cy="432.8" rx="2.4" ry="3.2" fill="#dcd664" stroke="#b9b04a" stroke-width="0.6"/><ellipse cx="885.5" cy="440.3" rx="3.3" ry="4.5" fill="#dcd664" stroke="#b9b04a" stroke-width="0.6"/><ellipse cx="887.5" cy="449.1" rx="2.7" ry="3.6" fill="#dcd664" stroke="#b9b04a" stroke-width="0.6"/><ellipse cx="892.4" cy="444.6" rx="2.2" ry="3.0" fill="#dcd868" stroke="#b9b04a" stroke-width="0.6"/><ellipse cx="884.6" cy="459.7" rx="3.0" ry="4.1" fill="#dcd664" stroke="#b9b04a" stroke-width="0.6"/><ellipse cx="884.6" cy="470.6" rx="2.4" ry="3.2" fill="#dcd664" stroke="#b9b04a" stroke-width="0.6"/><ellipse cx="883.5" cy="479.1" rx="2.4" ry="3.2" fill="#dcd664" stroke="#b9b04a" stroke-width="0.6"/><ellipse cx="886.5" cy="488.7" rx="3.7" ry="5.0" fill="#dcd664" stroke="#b9b04a" stroke-width="0.6"/><ellipse cx="890.6" cy="485.9" rx="2.8" ry="3.8" fill="#dcd868" stroke="#b9b04a" stroke-width="0.6"/><ellipse cx="886.8" cy="496.5" rx="3.3" ry="4.5" fill="#dcd664" stroke="#b9b04a" stroke-width="0.6"/><ellipse cx="884.7" cy="506.4" rx="2.7" ry="3.6" fill="#dcd664" stroke="#b9b04a" stroke-width="0.6"/><ellipse cx="881.2" cy="510.1" rx="2.5" ry="3.4" fill="#dcd868" stroke="#b9b04a" stroke-width="0.6"/><ellipse cx="882.7" cy="517.5" rx="3.0" ry="4.1" fill="#dcd664" stroke="#b9b04a" stroke-width="0.6"/><ellipse cx="887.4" cy="527.3" rx="2.7" ry="3.6" fill="#dcd664" stroke="#b9b04a" stroke-width="0.6"/><ellipse cx="883.4" cy="541.9" rx="3.7" ry="5.0" fill="#dcd664" stroke="#b9b04a" stroke-width="0.6"/><ellipse cx="887.0" cy="552.9" rx="3.7" ry="5.0" fill="#dcd664" stroke="#b9b04a" stroke-width="0.6"/><ellipse cx="885.1" cy="562.4" rx="2.4" ry="3.2" fill="#dcd664" stroke="#b9b04a" stroke-width="0.6"/><ellipse cx="880.6" cy="564.6" rx="2.2" ry="3.0" fill="#dcd868" stroke="#b9b04a" stroke-width="0.6"/><ellipse cx="886.8" cy="573.2" rx="3.3" ry="4.5" fill="#dcd664" stroke="#b9b04a" stroke-width="0.6"/><ellipse cx="887.3" cy="584.8" rx="2.4" ry="3.2" fill="#dcd664" stroke="#b9b04a" stroke-width="0.6"/><ellipse cx="882.7" cy="597.0" rx="3.3" ry="4.5" fill="#dcd664" stroke="#b9b04a" stroke-width="0.6"/><ellipse cx="884.8" cy="604.5" rx="3.3" ry="4.5" fill="#dcd664" stroke="#b9b04a" stroke-width="0.6"/><ellipse cx="880.1" cy="607.7" rx="2.5" ry="3.4" fill="#dcd868" stroke="#b9b04a" stroke-width="0.6"/><ellipse cx="882.8" cy="616.2" rx="3.0" ry="4.1" fill="#dcd664" stroke="#b9b04a" stroke-width="0.6"/><ellipse cx="887.3" cy="624.9" rx="3.7" ry="5.0" fill="#dcd664" stroke="#b9b04a" stroke-width="0.6"/><ellipse cx="883.0" cy="635.1" rx="3.3" ry="4.5" fill="#dcd664" stroke="#b9b04a" stroke-width="0.6"/><ellipse cx="878.7" cy="635.6" rx="2.2" ry="3.0" fill="#dcd868" stroke="#b9b04a" stroke-width="0.6"/><ellipse cx="883.9" cy="643.7" rx="3.7" ry="5.0" fill="#dcd664" stroke="#b9b04a" stroke-width="0.6"/><ellipse cx="880.1" cy="645.0" rx="2.2" ry="3.0" fill="#dcd868" stroke="#b9b04a" stroke-width="0.6"/><ellipse cx="886.9" cy="654.1" rx="2.7" ry="3.6" fill="#dcd664" stroke="#b9b04a" stroke-width="0.6"/><ellipse cx="883.9" cy="665.3" rx="2.7" ry="3.6" fill="#dcd664" stroke="#b9b04a" stroke-width="0.6"/><ellipse cx="886.2" cy="676.5" rx="3.0" ry="4.1" fill="#dcd664" stroke="#b9b04a" stroke-width="0.6"/><ellipse cx="883.4" cy="688.6" rx="2.7" ry="3.6" fill="#dcd664" stroke="#b9b04a" stroke-width="0.6"/><ellipse cx="878.6" cy="689.9" rx="2.8" ry="3.8" fill="#dcd868" stroke="#b9b04a" stroke-width="0.6"/><ellipse cx="883.4" cy="699.4" rx="2.4" ry="3.2" fill="#dcd664" stroke="#b9b04a" stroke-width="0.6"/><ellipse cx="878.8" cy="702.3" rx="2.2" ry="3.0" fill="#dcd868" stroke="#b9b04a" stroke-width="0.6"/><ellipse cx="882.5" cy="709.0" rx="2.7" ry="3.6" fill="#dcd664" stroke="#b9b04a" stroke-width="0.6"/><ellipse cx="883.0" cy="718.9" rx="2.4" ry="3.2" fill="#dcd664" stroke="#b9b04a" stroke-width="0.6"/><ellipse cx="887.5" cy="728.7" rx="3.7" ry="5.0" fill="#dcd664" stroke="#b9b04a" stroke-width="0.6"/><ellipse cx="883.2" cy="740.0" rx="3.7" ry="5.0" fill="#dcd664" stroke="#b9b04a" stroke-width="0.6"/><ellipse cx="887.6" cy="736.2" rx="2.8" ry="3.8" fill="#dcd868" stroke="#b9b04a" stroke-width="0.6"/><ellipse cx="896.4" cy="381.7" rx="2.4" ry="3.2" fill="#dcd664" stroke="#b9b04a" stroke-width="0.6"/><ellipse cx="892.3" cy="386.3" rx="2.8" ry="3.8" fill="#dcd868" stroke="#b9b04a" stroke-width="0.6"/><ellipse cx="896.5" cy="391.0" rx="3.7" ry="5.0" fill="#dcd664" stroke="#b9b04a" stroke-width="0.6"/><ellipse cx="892.2" cy="393.6" rx="2.2" ry="3.0" fill="#dcd868" stroke="#b9b04a" stroke-width="0.6"/><ellipse cx="894.7" cy="401.3" rx="3.0" ry="4.1" fill="#dcd664" stroke="#b9b04a" stroke-width="0.6"/><ellipse cx="893.1" cy="414.7" rx="3.7" ry="5.0" fill="#dcd664" stroke="#b9b04a" stroke-width="0.6"/><ellipse cx="897.2" cy="415.9" rx="2.8" ry="3.8" fill="#dcd868" stroke="#b9b04a" stroke-width="0.6"/><ellipse cx="892.7" cy="423.2" rx="3.0" ry="4.1" fill="#dcd664" stroke="#b9b04a" stroke-width="0.6"/><ellipse cx="895.2" cy="429.9" rx="2.7" ry="3.6" fill="#dcd664" stroke="#b9b04a" stroke-width="0.6"/><ellipse cx="895.1" cy="438.7" rx="3.7" ry="5.0" fill="#dcd664" stroke="#b9b04a" stroke-width="0.6"/><ellipse cx="894.1" cy="451.0" rx="2.7" ry="3.6" fill="#dcd664" stroke="#b9b04a" stroke-width="0.6"/><ellipse cx="898.3" cy="449.0" rx="2.5" ry="3.4" fill="#dcd868" stroke="#b9b04a" stroke-width="0.6"/><ellipse cx="894.7" cy="462.2" rx="3.0" ry="4.1" fill="#dcd664" stroke="#b9b04a" stroke-width="0.6"/><ellipse cx="895.8" cy="472.3" rx="3.0" ry="4.1" fill="#dcd664" stroke="#b9b04a" stroke-width="0.6"/><ellipse cx="899.9" cy="473.0" rx="2.8" ry="3.8" fill="#dcd868" stroke="#b9b04a" stroke-width="0.6"/><ellipse cx="896.8" cy="480.5" rx="3.7" ry="5.0" fill="#dcd664" stroke="#b9b04a" stroke-width="0.6"/><ellipse cx="894.9" cy="494.4" rx="3.3" ry="4.5" fill="#dcd664" stroke="#b9b04a" stroke-width="0.6"/><ellipse cx="893.2" cy="503.7" rx="3.7" ry="5.0" fill="#dcd664" stroke="#b9b04a" stroke-width="0.6"/><ellipse cx="898.1" cy="501.1" rx="2.8" ry="3.8" fill="#dcd868" stroke="#b9b04a" stroke-width="0.6"/><ellipse cx="893.5" cy="514.8" rx="3.7" ry="5.0" fill="#dcd664" stroke="#b9b04a" stroke-width="0.6"/><ellipse cx="889.4" cy="520.3" rx="2.5" ry="3.4" fill="#dcd868" stroke="#b9b04a" stroke-width="0.6"/><ellipse cx="893.6" cy="526.4" rx="3.7" ry="5.0" fill="#dcd664" stroke="#b9b04a" stroke-width="0.6"/><ellipse cx="890.2" cy="525.6" rx="2.8" ry="3.8" fill="#dcd868" stroke="#b9b04a" stroke-width="0.6"/><ellipse cx="894.6" cy="534.6" rx="2.7" ry="3.6" fill="#dcd664" stroke="#b9b04a" stroke-width="0.6"/><ellipse cx="896.3" cy="542.1" rx="2.4" ry="3.2" fill="#dcd664" stroke="#b9b04a" stroke-width="0.6"/><ellipse cx="896.6" cy="550.9" rx="2.4" ry="3.2" fill="#dcd664" stroke="#b9b04a" stroke-width="0.6"/><ellipse cx="892.3" cy="563.2" rx="3.0" ry="4.1" fill="#dcd664" stroke="#b9b04a" stroke-width="0.6"/><ellipse cx="897.1" cy="558.0" rx="2.8" ry="3.8" fill="#dcd868" stroke="#b9b04a" stroke-width="0.6"/><ellipse cx="896.1" cy="574.1" rx="2.4" ry="3.2" fill="#dcd664" stroke="#b9b04a" stroke-width="0.6"/><ellipse cx="893.2" cy="586.4" rx="3.7" ry="5.0" fill="#dcd664" stroke="#b9b04a" stroke-width="0.6"/><ellipse cx="894.3" cy="595.4" rx="3.7" ry="5.0" fill="#dcd664" stroke="#b9b04a" stroke-width="0.6"/><ellipse cx="890.2" cy="596.0" rx="2.2" ry="3.0" fill="#dcd868" stroke="#b9b04a" stroke-width="0.6"/><ellipse cx="892.6" cy="606.4" rx="2.7" ry="3.6" fill="#dcd664" stroke="#b9b04a" stroke-width="0.6"/><ellipse cx="892.9" cy="617.1" rx="3.7" ry="5.0" fill="#dcd664" stroke="#b9b04a" stroke-width="0.6"/><ellipse cx="896.7" cy="626.3" rx="2.7" ry="3.6" fill="#dcd664" stroke="#b9b04a" stroke-width="0.6"/><ellipse cx="900.7" cy="623.8" rx="2.5" ry="3.4" fill="#dcd868" stroke="#b9b04a" stroke-width="0.6"/><ellipse cx="897.1" cy="636.5" rx="3.7" ry="5.0" fill="#dcd664" stroke="#b9b04a" stroke-width="0.6"/><ellipse cx="896.4" cy="646.0" rx="3.3" ry="4.5" fill="#dcd664" stroke="#b9b04a" stroke-width="0.6"/><ellipse cx="900.7" cy="644.0" rx="2.8" ry="3.8" fill="#dcd868" stroke="#b9b04a" stroke-width="0.6"/><ellipse cx="892.7" cy="657.9" rx="2.7" ry="3.6" fill="#dcd664" stroke="#b9b04a" stroke-width="0.6"/><ellipse cx="897.0" cy="664.1" rx="2.4" ry="3.2" fill="#dcd664" stroke="#b9b04a" stroke-width="0.6"/><ellipse cx="896.6" cy="676.6" rx="2.4" ry="3.2" fill="#dcd664" stroke="#b9b04a" stroke-width="0.6"/><ellipse cx="892.0" cy="691.4" rx="3.3" ry="4.5" fill="#dcd664" stroke="#b9b04a" stroke-width="0.6"/><ellipse cx="888.1" cy="694.7" rx="2.5" ry="3.4" fill="#dcd868" stroke="#b9b04a" stroke-width="0.6"/><ellipse cx="894.2" cy="699.7" rx="3.7" ry="5.0" fill="#dcd664" stroke="#b9b04a" stroke-width="0.6"/><ellipse cx="894.8" cy="711.6" rx="2.4" ry="3.2" fill="#dcd664" stroke="#b9b04a" stroke-width="0.6"/><ellipse cx="893.5" cy="721.3" rx="3.3" ry="4.5" fill="#dcd664" stroke="#b9b04a" stroke-width="0.6"/><ellipse cx="893.8" cy="731.1" rx="2.7" ry="3.6" fill="#dcd664" stroke="#b9b04a" stroke-width="0.6"/><ellipse cx="898.4" cy="728.7" rx="2.2" ry="3.0" fill="#dcd868" stroke="#b9b04a" stroke-width="0.6"/><ellipse cx="902.3" cy="378.2" rx="2.7" ry="3.6" fill="#dcd664" stroke="#b9b04a" stroke-width="0.6"/><ellipse cx="906.7" cy="374.0" rx="2.8" ry="3.8" fill="#dcd868" stroke="#b9b04a" stroke-width="0.6"/><ellipse cx="902.4" cy="390.7" rx="2.4" ry="3.2" fill="#dcd664" stroke="#b9b04a" stroke-width="0.6"/><ellipse cx="906.5" cy="388.7" rx="2.2" ry="3.0" fill="#dcd868" stroke="#b9b04a" stroke-width="0.6"/><ellipse cx="905.1" cy="398.4" rx="2.4" ry="3.2" fill="#dcd664" stroke="#b9b04a" stroke-width="0.6"/><ellipse cx="901.1" cy="408.9" rx="2.4" ry="3.2" fill="#dcd664" stroke="#b9b04a" stroke-width="0.6"/><ellipse cx="905.8" cy="407.2" rx="2.5" ry="3.4" fill="#dcd868" stroke="#b9b04a" stroke-width="0.6"/><ellipse cx="904.8" cy="415.7" rx="3.7" ry="5.0" fill="#dcd664" stroke="#b9b04a" stroke-width="0.6"/><ellipse cx="904.0" cy="426.2" rx="3.3" ry="4.5" fill="#dcd664" stroke="#b9b04a" stroke-width="0.6"/><ellipse cx="905.3" cy="434.6" rx="2.4" ry="3.2" fill="#dcd664" stroke="#b9b04a" stroke-width="0.6"/><ellipse cx="902.2" cy="444.5" rx="3.7" ry="5.0" fill="#dcd664" stroke="#b9b04a" stroke-width="0.6"/><ellipse cx="906.3" cy="451.7" rx="3.3" ry="4.5" fill="#dcd664" stroke="#b9b04a" stroke-width="0.6"/><ellipse cx="904.8" cy="464.0" rx="3.0" ry="4.1" fill="#dcd664" stroke="#b9b04a" stroke-width="0.6"/><ellipse cx="903.2" cy="475.2" rx="2.4" ry="3.2" fill="#dcd664" stroke="#b9b04a" stroke-width="0.6"/><ellipse cx="902.8" cy="487.1" rx="3.3" ry="4.5" fill="#dcd664" stroke="#b9b04a" stroke-width="0.6"/><ellipse cx="907.5" cy="482.7" rx="2.5" ry="3.4" fill="#dcd868" stroke="#b9b04a" stroke-width="0.6"/><ellipse cx="903.6" cy="494.6" rx="3.7" ry="5.0" fill="#dcd664" stroke="#b9b04a" stroke-width="0.6"/><ellipse cx="904.2" cy="504.5" rx="3.3" ry="4.5" fill="#dcd664" stroke="#b9b04a" stroke-width="0.6"/><ellipse cx="908.6" cy="501.8" rx="2.8" ry="3.8" fill="#dcd868" stroke="#b9b04a" stroke-width="0.6"/><ellipse cx="903.9" cy="515.2" rx="3.0" ry="4.1" fill="#dcd664" stroke="#b9b04a" stroke-width="0.6"/><ellipse cx="903.7" cy="523.7" rx="3.0" ry="4.1" fill="#dcd664" stroke="#b9b04a" stroke-width="0.6"/><ellipse cx="904.3" cy="533.5" rx="2.4" ry="3.2" fill="#dcd664" stroke="#b9b04a" stroke-width="0.6"/><ellipse cx="904.5" cy="542.0" rx="2.4" ry="3.2" fill="#dcd664" stroke="#b9b04a" stroke-width="0.6"/><ellipse cx="899.9" cy="541.7" rx="2.8" ry="3.8" fill="#dcd868" stroke="#b9b04a" stroke-width="0.6"/><ellipse cx="903.0" cy="555.5" rx="2.4" ry="3.2" fill="#dcd664" stroke="#b9b04a" stroke-width="0.6"/><ellipse cx="901.9" cy="566.4" rx="3.7" ry="5.0" fill="#dcd664" stroke="#b9b04a" stroke-width="0.6"/><ellipse cx="902.2" cy="574.4" rx="3.7" ry="5.0" fill="#dcd664" stroke="#b9b04a" stroke-width="0.6"/><ellipse cx="903.8" cy="582.7" rx="3.7" ry="5.0" fill="#dcd664" stroke="#b9b04a" stroke-width="0.6"/><ellipse cx="902.0" cy="594.1" rx="2.4" ry="3.2" fill="#dcd664" stroke="#b9b04a" stroke-width="0.6"/><ellipse cx="905.4" cy="601.7" rx="3.3" ry="4.5" fill="#dcd664" stroke="#b9b04a" stroke-width="0.6"/><ellipse cx="904.1" cy="613.4" rx="3.3" ry="4.5" fill="#dcd664" stroke="#b9b04a" stroke-width="0.6"/><ellipse cx="903.9" cy="625.6" rx="2.7" ry="3.6" fill="#dcd664" stroke="#b9b04a" stroke-width="0.6"/><ellipse cx="905.3" cy="637.0" rx="3.7" ry="5.0" fill="#dcd664" stroke="#b9b04a" stroke-width="0.6"/><ellipse cx="901.3" cy="649.8" rx="3.0" ry="4.1" fill="#dcd664" stroke="#b9b04a" stroke-width="0.6"/><ellipse cx="897.0" cy="652.7" rx="2.5" ry="3.4" fill="#dcd868" stroke="#b9b04a" stroke-width="0.6"/><ellipse cx="901.9" cy="661.9" rx="2.4" ry="3.2" fill="#dcd664" stroke="#b9b04a" stroke-width="0.6"/><ellipse cx="902.7" cy="670.9" rx="3.3" ry="4.5" fill="#dcd664" stroke="#b9b04a" stroke-width="0.6"/><ellipse cx="898.1" cy="675.5" rx="2.8" ry="3.8" fill="#dcd868" stroke="#b9b04a" stroke-width="0.6"/><ellipse cx="903.2" cy="681.5" rx="3.3" ry="4.5" fill="#dcd664" stroke="#b9b04a" stroke-width="0.6"/><ellipse cx="902.1" cy="691.3" rx="3.0" ry="4.1" fill="#dcd664" stroke="#b9b04a" stroke-width="0.6"/><ellipse cx="903.9" cy="701.1" rx="3.0" ry="4.1" fill="#dcd664" stroke="#b9b04a" stroke-width="0.6"/><ellipse cx="908.3" cy="699.2" rx="2.2" ry="3.0" fill="#dcd868" stroke="#b9b04a" stroke-width="0.6"/><ellipse cx="906.6" cy="708.0" rx="2.4" ry="3.2" fill="#dcd664" stroke="#b9b04a" stroke-width="0.6"/><ellipse cx="901.0" cy="720.1" rx="2.7" ry="3.6" fill="#dcd664" stroke="#b9b04a" stroke-width="0.6"/><ellipse cx="905.0" cy="719.1" rx="2.8" ry="3.8" fill="#dcd868" stroke="#b9b04a" stroke-width="0.6"/><ellipse cx="905.7" cy="729.7" rx="2.7" ry="3.6" fill="#dcd664" stroke="#b9b04a" stroke-width="0.6"/><ellipse cx="911.7" cy="378.2" rx="3.0" ry="4.1" fill="#dcd664" stroke="#b9b04a" stroke-width="0.6"/><ellipse cx="914.2" cy="386.3" rx="2.7" ry="3.6" fill="#dcd664" stroke="#b9b04a" stroke-width="0.6"/><ellipse cx="916.0" cy="397.1" rx="3.7" ry="5.0" fill="#dcd664" stroke="#b9b04a" stroke-width="0.6"/><ellipse cx="912.8" cy="410.1" rx="3.3" ry="4.5" fill="#dcd664" stroke="#b9b04a" stroke-width="0.6"/><ellipse cx="915.4" cy="419.6" rx="2.7" ry="3.6" fill="#dcd664" stroke="#b9b04a" stroke-width="0.6"/><ellipse cx="910.8" cy="433.5" rx="3.0" ry="4.1" fill="#dcd664" stroke="#b9b04a" stroke-width="0.6"/><ellipse cx="915.8" cy="439.1" rx="3.3" ry="4.5" fill="#dcd664" stroke="#b9b04a" stroke-width="0.6"/><ellipse cx="911.1" cy="441.8" rx="2.5" ry="3.4" fill="#dcd868" stroke="#b9b04a" stroke-width="0.6"/><ellipse cx="911.8" cy="451.9" rx="2.4" ry="3.2" fill="#dcd664" stroke="#b9b04a" stroke-width="0.6"/><ellipse cx="915.4" cy="448.3" rx="2.2" ry="3.0" fill="#dcd868" stroke="#b9b04a" stroke-width="0.6"/><ellipse cx="914.0" cy="460.6" rx="3.3" ry="4.5" fill="#dcd664" stroke="#b9b04a" stroke-width="0.6"/><ellipse cx="915.5" cy="469.7" rx="3.7" ry="5.0" fill="#dcd664" stroke="#b9b04a" stroke-width="0.6"/><ellipse cx="919.4" cy="470.6" rx="2.5" ry="3.4" fill="#dcd868" stroke="#b9b04a" stroke-width="0.6"/><ellipse cx="914.4" cy="481.9" rx="2.7" ry="3.6" fill="#dcd664" stroke="#b9b04a" stroke-width="0.6"/><ellipse cx="911.4" cy="494.7" rx="2.4" ry="3.2" fill="#dcd664" stroke="#b9b04a" stroke-width="0.6"/><ellipse cx="915.4" cy="490.9" rx="2.5" ry="3.4" fill="#dcd868" stroke="#b9b04a" stroke-width="0.6"/><ellipse cx="911.3" cy="504.5" rx="3.3" ry="4.5" fill="#dcd664" stroke="#b9b04a" stroke-width="0.6"/><ellipse cx="914.9" cy="512.0" rx="3.0" ry="4.1" fill="#dcd664" stroke="#b9b04a" stroke-width="0.6"/><ellipse cx="916.0" cy="521.5" rx="2.4" ry="3.2" fill="#dcd664" stroke="#b9b04a" stroke-width="0.6"/><ellipse cx="915.6" cy="533.7" rx="3.3" ry="4.5" fill="#dcd664" stroke="#b9b04a" stroke-width="0.6"/><ellipse cx="910.8" cy="547.0" rx="3.0" ry="4.1" fill="#dcd664" stroke="#b9b04a" stroke-width="0.6"/><ellipse cx="912.4" cy="556.0" rx="3.3" ry="4.5" fill="#dcd664" stroke="#b9b04a" stroke-width="0.6"/><ellipse cx="915.9" cy="555.9" rx="2.2" ry="3.0" fill="#dcd868" stroke="#b9b04a" stroke-width="0.6"/><ellipse cx="911.2" cy="567.7" rx="3.0" ry="4.1" fill="#dcd664" stroke="#b9b04a" stroke-width="0.6"/><ellipse cx="907.2" cy="573.0" rx="2.5" ry="3.4" fill="#dcd868" stroke="#b9b04a" stroke-width="0.6"/><ellipse cx="913.4" cy="575.7" rx="3.0" ry="4.1" fill="#dcd664" stroke="#b9b04a" stroke-width="0.6"/><ellipse cx="909.9" cy="579.2" rx="2.8" ry="3.8" fill="#dcd868" stroke="#b9b04a" stroke-width="0.6"/><ellipse cx="910.9" cy="589.6" rx="3.0" ry="4.1" fill="#dcd664" stroke="#b9b04a" stroke-width="0.6"/><ellipse cx="915.1" cy="599.2" rx="2.4" ry="3.2" fill="#dcd664" stroke="#b9b04a" stroke-width="0.6"/><ellipse cx="912.5" cy="611.5" rx="2.7" ry="3.6" fill="#dcd664" stroke="#b9b04a" stroke-width="0.6"/><ellipse cx="917.0" cy="608.4" rx="2.8" ry="3.8" fill="#dcd868" stroke="#b9b04a" stroke-width="0.6"/><ellipse cx="914.7" cy="620.9" rx="2.7" ry="3.6" fill="#dcd664" stroke="#b9b04a" stroke-width="0.6"/><ellipse cx="913.2" cy="634.2" rx="3.7" ry="5.0" fill="#dcd664" stroke="#b9b04a" stroke-width="0.6"/><ellipse cx="916.8" cy="631.9" rx="2.8" ry="3.8" fill="#dcd868" stroke="#b9b04a" stroke-width="0.6"/><ellipse cx="913.4" cy="644.5" rx="3.0" ry="4.1" fill="#dcd664" stroke="#b9b04a" stroke-width="0.6"/><ellipse cx="909.4" cy="648.9" rx="2.2" ry="3.0" fill="#dcd868" stroke="#b9b04a" stroke-width="0.6"/><ellipse cx="913.4" cy="655.7" rx="2.7" ry="3.6" fill="#dcd664" stroke="#b9b04a" stroke-width="0.6"/><ellipse cx="915.2" cy="664.9" rx="3.0" ry="4.1" fill="#dcd664" stroke="#b9b04a" stroke-width="0.6"/><ellipse cx="914.6" cy="675.8" rx="3.7" ry="5.0" fill="#dcd664" stroke="#b9b04a" stroke-width="0.6"/><ellipse cx="910.9" cy="678.7" rx="2.5" ry="3.4" fill="#dcd868" stroke="#b9b04a" stroke-width="0.6"/><ellipse cx="913.4" cy="689.3" rx="2.4" ry="3.2" fill="#dcd664" stroke="#b9b04a" stroke-width="0.6"/><ellipse cx="908.8" cy="690.9" rx="2.5" ry="3.4" fill="#dcd868" stroke="#b9b04a" stroke-width="0.6"/><ellipse cx="914.9" cy="697.9" rx="3.7" ry="5.0" fill="#dcd664" stroke="#b9b04a" stroke-width="0.6"/><ellipse cx="913.1" cy="708.4" rx="3.0" ry="4.1" fill="#dcd664" stroke="#b9b04a" stroke-width="0.6"/><ellipse cx="909.1" cy="712.4" rx="2.5" ry="3.4" fill="#dcd868" stroke="#b9b04a" stroke-width="0.6"/><ellipse cx="915.8" cy="717.6" rx="3.7" ry="5.0" fill="#dcd664" stroke="#b9b04a" stroke-width="0.6"/><ellipse cx="924.4" cy="370.5" rx="3.3" ry="4.5" fill="#dcd664" stroke="#b9b04a" stroke-width="0.6"/><ellipse cx="928.5" cy="369.7" rx="2.5" ry="3.4" fill="#dcd868" stroke="#b9b04a" stroke-width="0.6"/><ellipse cx="921.2" cy="382.4" rx="2.4" ry="3.2" fill="#dcd664" stroke="#b9b04a" stroke-width="0.6"/><ellipse cx="923.5" cy="392.9" rx="3.3" ry="4.5" fill="#dcd664" stroke="#b9b04a" stroke-width="0.6"/><ellipse cx="921.8" cy="405.5" rx="3.7" ry="5.0" fill="#dcd664" stroke="#b9b04a" stroke-width="0.6"/><ellipse cx="922.1" cy="418.0" rx="3.3" ry="4.5" fill="#dcd664" stroke="#b9b04a" stroke-width="0.6"/><ellipse cx="923.8" cy="427.3" rx="2.7" ry="3.6" fill="#dcd664" stroke="#b9b04a" stroke-width="0.6"/><ellipse cx="919.1" cy="429.7" rx="2.8" ry="3.8" fill="#dcd868" stroke="#b9b04a" stroke-width="0.6"/><ellipse cx="924.9" cy="436.9" rx="2.4" ry="3.2" fill="#dcd664" stroke="#b9b04a" stroke-width="0.6"/><ellipse cx="922.7" cy="449.0" rx="3.7" ry="5.0" fill="#dcd664" stroke="#b9b04a" stroke-width="0.6"/><ellipse cx="918.8" cy="453.9" rx="2.5" ry="3.4" fill="#dcd868" stroke="#b9b04a" stroke-width="0.6"/><ellipse cx="920.1" cy="460.8" rx="3.7" ry="5.0" fill="#dcd664" stroke="#b9b04a" stroke-width="0.6"/><ellipse cx="925.3" cy="468.0" rx="3.3" ry="4.5" fill="#dcd664" stroke="#b9b04a" stroke-width="0.6"/><ellipse cx="922.8" cy="478.0" rx="3.3" ry="4.5" fill="#dcd664" stroke="#b9b04a" stroke-width="0.6"/><ellipse cx="926.6" cy="473.9" rx="2.2" ry="3.0" fill="#dcd868" stroke="#b9b04a" stroke-width="0.6"/><ellipse cx="925.1" cy="486.4" rx="2.4" ry="3.2" fill="#dcd664" stroke="#b9b04a" stroke-width="0.6"/><ellipse cx="925.3" cy="495.4" rx="3.3" ry="4.5" fill="#dcd664" stroke="#b9b04a" stroke-width="0.6"/><ellipse cx="920.6" cy="506.3" rx="3.7" ry="5.0" fill="#dcd664" stroke="#b9b04a" stroke-width="0.6"/><ellipse cx="924.1" cy="516.2" rx="3.0" ry="4.1" fill="#dcd664" stroke="#b9b04a" stroke-width="0.6"/><ellipse cx="920.4" cy="527.4" rx="3.7" ry="5.0" fill="#dcd664" stroke="#b9b04a" stroke-width="0.6"/><ellipse cx="915.8" cy="527.3" rx="2.8" ry="3.8" fill="#dcd868" stroke="#b9b04a" stroke-width="0.6"/><ellipse cx="923.5" cy="536.8" rx="2.4" ry="3.2" fill="#dcd664" stroke="#b9b04a" stroke-width="0.6"/><ellipse cx="923.1" cy="548.5" rx="2.4" ry="3.2" fill="#dcd664" stroke="#b9b04a" stroke-width="0.6"/><ellipse cx="918.4" cy="551.8" rx="2.2" ry="3.0" fill="#dcd868" stroke="#b9b04a" stroke-width="0.6"/><ellipse cx="924.3" cy="557.1" rx="3.3" ry="4.5" fill="#dcd664" stroke="#b9b04a" stroke-width="0.6"/><ellipse cx="924.2" cy="566.0" rx="2.4" ry="3.2" fill="#dcd664" stroke="#b9b04a" stroke-width="0.6"/><ellipse cx="925.5" cy="578.0" rx="2.4" ry="3.2" fill="#dcd664" stroke="#b9b04a" stroke-width="0.6"/><ellipse cx="921.2" cy="589.9" rx="3.3" ry="4.5" fill="#dcd664" stroke="#b9b04a" stroke-width="0.6"/><ellipse cx="917.1" cy="589.0" rx="2.5" ry="3.4" fill="#dcd868" stroke="#b9b04a" stroke-width="0.6"/><ellipse cx="923.1" cy="601.3" rx="2.4" ry="3.2" fill="#dcd664" stroke="#b9b04a" stroke-width="0.6"/><ellipse cx="923.1" cy="613.0" rx="3.3" ry="4.5" fill="#dcd664" stroke="#b9b04a" stroke-width="0.6"/><ellipse cx="922.5" cy="626.0" rx="3.3" ry="4.5" fill="#dcd664" stroke="#b9b04a" stroke-width="0.6"/><ellipse cx="926.8" cy="627.0" rx="2.5" ry="3.4" fill="#dcd868" stroke="#b9b04a" stroke-width="0.6"/><ellipse cx="922.7" cy="636.0" rx="3.0" ry="4.1" fill="#dcd664" stroke="#b9b04a" stroke-width="0.6"/><ellipse cx="922.5" cy="645.5" rx="3.7" ry="5.0" fill="#dcd664" stroke="#b9b04a" stroke-width="0.6"/><ellipse cx="921.2" cy="656.7" rx="3.3" ry="4.5" fill="#dcd664" stroke="#b9b04a" stroke-width="0.6"/><ellipse cx="925.4" cy="666.7" rx="3.0" ry="4.1" fill="#dcd664" stroke="#b9b04a" stroke-width="0.6"/><ellipse cx="920.2" cy="678.8" rx="2.7" ry="3.6" fill="#dcd664" stroke="#b9b04a" stroke-width="0.6"/><ellipse cx="921.5" cy="686.3" rx="3.3" ry="4.5" fill="#dcd664" stroke="#b9b04a" stroke-width="0.6"/><ellipse cx="926.2" cy="681.9" rx="2.2" ry="3.0" fill="#dcd868" stroke="#b9b04a" stroke-width="0.6"/><ellipse cx="922.4" cy="695.6" rx="2.7" ry="3.6" fill="#dcd664" stroke="#b9b04a" stroke-width="0.6"/><ellipse cx="918.2" cy="697.2" rx="2.2" ry="3.0" fill="#dcd868" stroke="#b9b04a" stroke-width="0.6"/><ellipse cx="921.2" cy="705.6" rx="2.7" ry="3.6" fill="#dcd664" stroke="#b9b04a" stroke-width="0.6"/><ellipse cx="922.6" cy="714.0" rx="3.0" ry="4.1" fill="#dcd664" stroke="#b9b04a" stroke-width="0.6"/><ellipse cx="926.4" cy="713.9" rx="2.2" ry="3.0" fill="#dcd868" stroke="#b9b04a" stroke-width="0.6"/><ellipse cx="931.5" cy="366.4" rx="3.7" ry="5.0" fill="#dcd664" stroke="#b9b04a" stroke-width="0.6"/><ellipse cx="931.1" cy="378.3" rx="3.0" ry="4.1" fill="#dcd664" stroke="#b9b04a" stroke-width="0.6"/><ellipse cx="935.1" cy="373.7" rx="2.2" ry="3.0" fill="#dcd868" stroke="#b9b04a" stroke-width="0.6"/><ellipse cx="933.2" cy="389.7" rx="3.3" ry="4.5" fill="#dcd664" stroke="#b9b04a" stroke-width="0.6"/><ellipse cx="934.2" cy="399.7" rx="3.3" ry="4.5" fill="#dcd664" stroke="#b9b04a" stroke-width="0.6"/><ellipse cx="939.2" cy="395.4" rx="2.5" ry="3.4" fill="#dcd868" stroke="#b9b04a" stroke-width="0.6"/><ellipse cx="931.1" cy="413.6" rx="2.4" ry="3.2" fill="#dcd664" stroke="#b9b04a" stroke-width="0.6"/><ellipse cx="932.6" cy="422.2" rx="2.7" ry="3.6" fill="#dcd664" stroke="#b9b04a" stroke-width="0.6"/><ellipse cx="929.9" cy="436.3" rx="3.3" ry="4.5" fill="#dcd664" stroke="#b9b04a" stroke-width="0.6"/><ellipse cx="933.3" cy="437.6" rx="2.5" ry="3.4" fill="#dcd868" stroke="#b9b04a" stroke-width="0.6"/><ellipse cx="932.9" cy="443.1" rx="2.4" ry="3.2" fill="#dcd664" stroke="#b9b04a" stroke-width="0.6"/><ellipse cx="930.4" cy="454.6" rx="3.7" ry="5.0" fill="#dcd664" stroke="#b9b04a" stroke-width="0.6"/><ellipse cx="935.0" cy="452.4" rx="2.2" ry="3.0" fill="#dcd868" stroke="#b9b04a" stroke-width="0.6"/><ellipse cx="932.6" cy="464.6" rx="2.7" ry="3.6" fill="#dcd664" stroke="#b9b04a" stroke-width="0.6"/><ellipse cx="931.6" cy="475.9" rx="3.3" ry="4.5" fill="#dcd664" stroke="#b9b04a" stroke-width="0.6"/><ellipse cx="927.6" cy="475.2" rx="2.2" ry="3.0" fill="#dcd868" stroke="#b9b04a" stroke-width="0.6"/><ellipse cx="934.7" cy="482.7" rx="2.7" ry="3.6" fill="#dcd664" stroke="#b9b04a" stroke-width="0.6"/><ellipse cx="930.6" cy="483.7" rx="2.2" ry="3.0" fill="#dcd868" stroke="#b9b04a" stroke-width="0.6"/><ellipse cx="934.8" cy="493.4" rx="2.4" ry="3.2" fill="#dcd664" stroke="#b9b04a" stroke-width="0.6"/><ellipse cx="929.8" cy="507.8" rx="3.3" ry="4.5" fill="#dcd664" stroke="#b9b04a" stroke-width="0.6"/><ellipse cx="932.8" cy="514.5" rx="3.3" ry="4.5" fill="#dcd664" stroke="#b9b04a" stroke-width="0.6"/><ellipse cx="936.4" cy="514.4" rx="2.5" ry="3.4" fill="#dcd868" stroke="#b9b04a" stroke-width="0.6"/><ellipse cx="930.2" cy="524.0" rx="3.7" ry="5.0" fill="#dcd664" stroke="#b9b04a" stroke-width="0.6"/><ellipse cx="932.2" cy="533.8" rx="3.0" ry="4.1" fill="#dcd664" stroke="#b9b04a" stroke-width="0.6"/><ellipse cx="928.1" cy="536.6" rx="2.2" ry="3.0" fill="#dcd868" stroke="#b9b04a" stroke-width="0.6"/><ellipse cx="931.1" cy="543.2" rx="2.4" ry="3.2" fill="#dcd664" stroke="#b9b04a" stroke-width="0.6"/><ellipse cx="934.8" cy="540.6" rx="2.2" ry="3.0" fill="#dcd868" stroke="#b9b04a" stroke-width="0.6"/><ellipse cx="930.4" cy="554.5" rx="3.7" ry="5.0" fill="#dcd664" stroke="#b9b04a" stroke-width="0.6"/><ellipse cx="925.6" cy="555.2" rx="2.8" ry="3.8" fill="#dcd868" stroke="#b9b04a" stroke-width="0.6"/><ellipse cx="930.6" cy="563.0" rx="3.7" ry="5.0" fill="#dcd664" stroke="#b9b04a" stroke-width="0.6"/><ellipse cx="926.4" cy="562.5" rx="2.5" ry="3.4" fill="#dcd868" stroke="#b9b04a" stroke-width="0.6"/><ellipse cx="934.3" cy="573.1" rx="2.7" ry="3.6" fill="#dcd664" stroke="#b9b04a" stroke-width="0.6"/><ellipse cx="932.6" cy="585.2" rx="3.7" ry="5.0" fill="#dcd664" stroke="#b9b04a" stroke-width="0.6"/><ellipse cx="930.7" cy="596.8" rx="2.7" ry="3.6" fill="#dcd664" stroke="#b9b04a" stroke-width="0.6"/><ellipse cx="931.0" cy="605.8" rx="3.3" ry="4.5" fill="#dcd664" stroke="#b9b04a" stroke-width="0.6"/><ellipse cx="926.1" cy="605.8" rx="2.8" ry="3.8" fill="#dcd868" stroke="#b9b04a" stroke-width="0.6"/><ellipse cx="929.4" cy="617.6" rx="3.3" ry="4.5" fill="#dcd664" stroke="#b9b04a" stroke-width="0.6"/><ellipse cx="933.8" cy="624.2" rx="2.7" ry="3.6" fill="#dcd664" stroke="#b9b04a" stroke-width="0.6"/><ellipse cx="932.9" cy="632.6" rx="3.0" ry="4.1" fill="#dcd664" stroke="#b9b04a" stroke-width="0.6"/><ellipse cx="937.6" cy="630.2" rx="2.5" ry="3.4" fill="#dcd868" stroke="#b9b04a" stroke-width="0.6"/><ellipse cx="933.7" cy="641.8" rx="2.4" ry="3.2" fill="#dcd664" stroke="#b9b04a" stroke-width="0.6"/><ellipse cx="929.7" cy="641.5" rx="2.5" ry="3.4" fill="#dcd868" stroke="#b9b04a" stroke-width="0.6"/><ellipse cx="931.1" cy="653.2" rx="2.4" ry="3.2" fill="#dcd664" stroke="#b9b04a" stroke-width="0.6"/><ellipse cx="935.7" cy="647.5" rx="2.8" ry="3.8" fill="#dcd868" stroke="#b9b04a" stroke-width="0.6"/><ellipse cx="933.5" cy="664.4" rx="3.3" ry="4.5" fill="#dcd664" stroke="#b9b04a" stroke-width="0.6"/><ellipse cx="934.6" cy="675.1" rx="3.7" ry="5.0" fill="#dcd664" stroke="#b9b04a" stroke-width="0.6"/><ellipse cx="932.0" cy="689.0" rx="3.0" ry="4.1" fill="#dcd664" stroke="#b9b04a" stroke-width="0.6"/><ellipse cx="930.5" cy="699.1" rx="3.7" ry="5.0" fill="#dcd664" stroke="#b9b04a" stroke-width="0.6"/><ellipse cx="931.5" cy="707.6" rx="3.3" ry="4.5" fill="#dcd664" stroke="#b9b04a" stroke-width="0.6"/><ellipse cx="927.8" cy="711.6" rx="2.5" ry="3.4" fill="#dcd868" stroke="#b9b04a" stroke-width="0.6"/><ellipse cx="932.1" cy="718.6" rx="2.4" ry="3.2" fill="#dcd664" stroke="#b9b04a" stroke-width="0.6"/><ellipse cx="942.0" cy="359.8" rx="3.3" ry="4.5" fill="#dcd664" stroke="#b9b04a" stroke-width="0.6"/><ellipse cx="941.8" cy="370.9" rx="3.7" ry="5.0" fill="#dcd664" stroke="#b9b04a" stroke-width="0.6"/><ellipse cx="945.6" cy="371.5" rx="2.5" ry="3.4" fill="#dcd868" stroke="#b9b04a" stroke-width="0.6"/><ellipse cx="944.6" cy="381.4" rx="2.4" ry="3.2" fill="#dcd664" stroke="#b9b04a" stroke-width="0.6"/><ellipse cx="941.1" cy="391.2" rx="3.7" ry="5.0" fill="#dcd664" stroke="#b9b04a" stroke-width="0.6"/><ellipse cx="941.7" cy="399.9" rx="2.7" ry="3.6" fill="#dcd664" stroke="#b9b04a" stroke-width="0.6"/><ellipse cx="944.0" cy="409.6" rx="2.4" ry="3.2" fill="#dcd664" stroke="#b9b04a" stroke-width="0.6"/><ellipse cx="940.1" cy="412.3" rx="2.5" ry="3.4" fill="#dcd868" stroke="#b9b04a" stroke-width="0.6"/><ellipse cx="940.6" cy="420.6" rx="2.7" ry="3.6" fill="#dcd664" stroke="#b9b04a" stroke-width="0.6"/><ellipse cx="939.4" cy="434.0" rx="3.0" ry="4.1" fill="#dcd664" stroke="#b9b04a" stroke-width="0.6"/><ellipse cx="943.0" cy="444.8" rx="3.0" ry="4.1" fill="#dcd664" stroke="#b9b04a" stroke-width="0.6"/><ellipse cx="939.2" cy="448.1" rx="2.8" ry="3.8" fill="#dcd868" stroke="#b9b04a" stroke-width="0.6"/><ellipse cx="939.7" cy="456.0" rx="2.4" ry="3.2" fill="#dcd664" stroke="#b9b04a" stroke-width="0.6"/><ellipse cx="944.4" cy="450.9" rx="2.8" ry="3.8" fill="#dcd868" stroke="#b9b04a" stroke-width="0.6"/><ellipse cx="940.5" cy="463.7" rx="2.4" ry="3.2" fill="#dcd664" stroke="#b9b04a" stroke-width="0.6"/><ellipse cx="939.0" cy="476.3" rx="3.7" ry="5.0" fill="#dcd664" stroke="#b9b04a" stroke-width="0.6"/><ellipse cx="940.9" cy="487.0" rx="3.3" ry="4.5" fill="#dcd664" stroke="#b9b04a" stroke-width="0.6"/><ellipse cx="941.8" cy="496.9" rx="2.7" ry="3.6" fill="#dcd664" stroke="#b9b04a" stroke-width="0.6"/><ellipse cx="939.1" cy="511.2" rx="2.7" ry="3.6" fill="#dcd664" stroke="#b9b04a" stroke-width="0.6"/><ellipse cx="939.2" cy="522.3" rx="2.7" ry="3.6" fill="#dcd664" stroke="#b9b04a" stroke-width="0.6"/><ellipse cx="943.7" cy="517.1" rx="2.2" ry="3.0" fill="#dcd868" stroke="#b9b04a" stroke-width="0.6"/><ellipse cx="939.9" cy="530.1" rx="3.0" ry="4.1" fill="#dcd664" stroke="#b9b04a" stroke-width="0.6"/><ellipse cx="938.9" cy="541.4" rx="2.4" ry="3.2" fill="#dcd664" stroke="#b9b04a" stroke-width="0.6"/><ellipse cx="944.1" cy="549.8" rx="2.7" ry="3.6" fill="#dcd664" stroke="#b9b04a" stroke-width="0.6"/><ellipse cx="940.0" cy="563.3" rx="3.7" ry="5.0" fill="#dcd664" stroke="#b9b04a" stroke-width="0.6"/><ellipse cx="939.8" cy="575.5" rx="2.7" ry="3.6" fill="#dcd664" stroke="#b9b04a" stroke-width="0.6"/><ellipse cx="936.2" cy="577.7" rx="2.2" ry="3.0" fill="#dcd868" stroke="#b9b04a" stroke-width="0.6"/><ellipse cx="943.7" cy="581.5" rx="2.4" ry="3.2" fill="#dcd664" stroke="#b9b04a" stroke-width="0.6"/><ellipse cx="939.6" cy="594.3" rx="2.7" ry="3.6" fill="#dcd664" stroke="#b9b04a" stroke-width="0.6"/><ellipse cx="943.3" cy="600.6" rx="2.4" ry="3.2" fill="#dcd664" stroke="#b9b04a" stroke-width="0.6"/><ellipse cx="939.3" cy="612.5" rx="3.7" ry="5.0" fill="#dcd664" stroke="#b9b04a" stroke-width="0.6"/><ellipse cx="944.1" cy="610.3" rx="2.5" ry="3.4" fill="#dcd868" stroke="#b9b04a" stroke-width="0.6"/><ellipse cx="944.2" cy="621.2" rx="3.0" ry="4.1" fill="#dcd664" stroke="#b9b04a" stroke-width="0.6"/><ellipse cx="940.3" cy="633.6" rx="3.0" ry="4.1" fill="#dcd664" stroke="#b9b04a" stroke-width="0.6"/><ellipse cx="936.6" cy="634.9" rx="2.8" ry="3.8" fill="#dcd868" stroke="#b9b04a" stroke-width="0.6"/><ellipse cx="943.5" cy="642.0" rx="3.3" ry="4.5" fill="#dcd664" stroke="#b9b04a" stroke-width="0.6"/><ellipse cx="948.2" cy="639.3" rx="2.5" ry="3.4" fill="#dcd868" stroke="#b9b04a" stroke-width="0.6"/><ellipse cx="941.5" cy="651.4" rx="3.0" ry="4.1" fill="#dcd664" stroke="#b9b04a" stroke-width="0.6"/><ellipse cx="937.6" cy="651.2" rx="2.8" ry="3.8" fill="#dcd868" stroke="#b9b04a" stroke-width="0.6"/><ellipse cx="940.1" cy="661.8" rx="3.0" ry="4.1" fill="#dcd664" stroke="#b9b04a" stroke-width="0.6"/><ellipse cx="939.8" cy="673.7" rx="2.4" ry="3.2" fill="#dcd664" stroke="#b9b04a" stroke-width="0.6"/><ellipse cx="936.4" cy="675.9" rx="2.5" ry="3.4" fill="#dcd868" stroke="#b9b04a" stroke-width="0.6"/><ellipse cx="943.7" cy="683.8" rx="2.4" ry="3.2" fill="#dcd664" stroke="#b9b04a" stroke-width="0.6"/><ellipse cx="938.8" cy="684.0" rx="2.5" ry="3.4" fill="#dcd868" stroke="#b9b04a" stroke-width="0.6"/><ellipse cx="940.9" cy="693.1" rx="2.7" ry="3.6" fill="#dcd664" stroke="#b9b04a" stroke-width="0.6"/><ellipse cx="936.9" cy="692.0" rx="2.8" ry="3.8" fill="#dcd868" stroke="#b9b04a" stroke-width="0.6"/><ellipse cx="939.5" cy="705.9" rx="3.3" ry="4.5" fill="#dcd664" stroke="#b9b04a" stroke-width="0.6"/><ellipse cx="936.0" cy="705.0" rx="2.5" ry="3.4" fill="#dcd868" stroke="#b9b04a" stroke-width="0.6"/><ellipse cx="954.0" cy="354.0" rx="3.7" ry="5.0" fill="#dcd664" stroke="#b9b04a" stroke-width="0.6"/><ellipse cx="948.7" cy="365.7" rx="3.7" ry="5.0" fill="#dcd664" stroke="#b9b04a" stroke-width="0.6"/><ellipse cx="953.4" cy="366.8" rx="2.8" ry="3.8" fill="#dcd868" stroke="#b9b04a" stroke-width="0.6"/><ellipse cx="954.0" cy="372.1" rx="3.7" ry="5.0" fill="#dcd664" stroke="#b9b04a" stroke-width="0.6"/><ellipse cx="949.6" cy="377.7" rx="2.8" ry="3.8" fill="#dcd868" stroke="#b9b04a" stroke-width="0.6"/><ellipse cx="952.2" cy="384.6" rx="2.4" ry="3.2" fill="#dcd664" stroke="#b9b04a" stroke-width="0.6"/><ellipse cx="950.2" cy="396.9" rx="3.7" ry="5.0" fill="#dcd664" stroke="#b9b04a" stroke-width="0.6"/><ellipse cx="953.6" cy="403.5" rx="2.4" ry="3.2" fill="#dcd664" stroke="#b9b04a" stroke-width="0.6"/><ellipse cx="949.9" cy="404.3" rx="2.5" ry="3.4" fill="#dcd868" stroke="#b9b04a" stroke-width="0.6"/><ellipse cx="952.9" cy="415.4" rx="2.4" ry="3.2" fill="#dcd664" stroke="#b9b04a" stroke-width="0.6"/><ellipse cx="953.0" cy="425.3" rx="2.7" ry="3.6" fill="#dcd664" stroke="#b9b04a" stroke-width="0.6"/><ellipse cx="957.5" cy="425.7" rx="2.2" ry="3.0" fill="#dcd868" stroke="#b9b04a" stroke-width="0.6"/><ellipse cx="953.9" cy="434.8" rx="3.7" ry="5.0" fill="#dcd664" stroke="#b9b04a" stroke-width="0.6"/><ellipse cx="958.6" cy="431.3" rx="2.5" ry="3.4" fill="#dcd868" stroke="#b9b04a" stroke-width="0.6"/><ellipse cx="953.4" cy="445.1" rx="3.7" ry="5.0" fill="#dcd664" stroke="#b9b04a" stroke-width="0.6"/><ellipse cx="957.6" cy="440.7" rx="2.8" ry="3.8" fill="#dcd868" stroke="#b9b04a" stroke-width="0.6"/><ellipse cx="949.1" cy="459.6" rx="3.0" ry="4.1" fill="#dcd664" stroke="#b9b04a" stroke-width="0.6"/><ellipse cx="953.7" cy="467.4" rx="3.7" ry="5.0" fill="#dcd664" stroke="#b9b04a" stroke-width="0.6"/><ellipse cx="957.7" cy="464.4" rx="2.2" ry="3.0" fill="#dcd868" stroke="#b9b04a" stroke-width="0.6"/><ellipse cx="948.8" cy="482.5" rx="3.7" ry="5.0" fill="#dcd664" stroke="#b9b04a" stroke-width="0.6"/><ellipse cx="952.5" cy="477.1" rx="2.5" ry="3.4" fill="#dcd868" stroke="#b9b04a" stroke-width="0.6"/><ellipse cx="952.5" cy="492.4" rx="3.0" ry="4.1" fill="#dcd664" stroke="#b9b04a" stroke-width="0.6"/><ellipse cx="952.9" cy="504.8" rx="2.4" ry="3.2" fill="#dcd664" stroke="#b9b04a" stroke-width="0.6"/><ellipse cx="951.0" cy="517.2" rx="3.0" ry="4.1" fill="#dcd664" stroke="#b9b04a" stroke-width="0.6"/><ellipse cx="949.5" cy="530.3" rx="3.3" ry="4.5" fill="#dcd664" stroke="#b9b04a" stroke-width="0.6"/><ellipse cx="954.0" cy="528.6" rx="2.8" ry="3.8" fill="#dcd868" stroke="#b9b04a" stroke-width="0.6"/><ellipse cx="953.3" cy="540.8" rx="3.0" ry="4.1" fill="#dcd664" stroke="#b9b04a" stroke-width="0.6"/><ellipse cx="948.9" cy="554.6" rx="3.3" ry="4.5" fill="#dcd664" stroke="#b9b04a" stroke-width="0.6"/><ellipse cx="944.1" cy="554.5" rx="2.2" ry="3.0" fill="#dcd868" stroke="#b9b04a" stroke-width="0.6"/><ellipse cx="948.9" cy="563.7" rx="3.7" ry="5.0" fill="#dcd664" stroke="#b9b04a" stroke-width="0.6"/><ellipse cx="953.7" cy="562.2" rx="2.5" ry="3.4" fill="#dcd868" stroke="#b9b04a" stroke-width="0.6"/><ellipse cx="950.9" cy="575.1" rx="2.4" ry="3.2" fill="#dcd664" stroke="#b9b04a" stroke-width="0.6"/><ellipse cx="951.2" cy="585.9" rx="3.7" ry="5.0" fill="#dcd664" stroke="#b9b04a" stroke-width="0.6"/><ellipse cx="956.0" cy="580.3" rx="2.2" ry="3.0" fill="#dcd868" stroke="#b9b04a" stroke-width="0.6"/><ellipse cx="952.9" cy="595.2" rx="3.0" ry="4.1" fill="#dcd664" stroke="#b9b04a" stroke-width="0.6"/><ellipse cx="957.1" cy="595.8" rx="2.5" ry="3.4" fill="#dcd868" stroke="#b9b04a" stroke-width="0.6"/><ellipse cx="952.5" cy="606.1" rx="3.0" ry="4.1" fill="#dcd664" stroke="#b9b04a" stroke-width="0.6"/><ellipse cx="952.5" cy="615.2" rx="3.7" ry="5.0" fill="#dcd664" stroke="#b9b04a" stroke-width="0.6"/><ellipse cx="956.2" cy="612.5" rx="2.8" ry="3.8" fill="#dcd868" stroke="#b9b04a" stroke-width="0.6"/><ellipse cx="948.6" cy="627.4" rx="3.7" ry="5.0" fill="#dcd664" stroke="#b9b04a" stroke-width="0.6"/><ellipse cx="953.1" cy="637.5" rx="3.7" ry="5.0" fill="#dcd664" stroke="#b9b04a" stroke-width="0.6"/><ellipse cx="949.0" cy="648.7" rx="2.4" ry="3.2" fill="#dcd664" stroke="#b9b04a" stroke-width="0.6"/><ellipse cx="951.1" cy="658.9" rx="3.0" ry="4.1" fill="#dcd664" stroke="#b9b04a" stroke-width="0.6"/><ellipse cx="953.2" cy="670.1" rx="3.0" ry="4.1" fill="#dcd664" stroke="#b9b04a" stroke-width="0.6"/><ellipse cx="950.6" cy="679.7" rx="3.7" ry="5.0" fill="#dcd664" stroke="#b9b04a" stroke-width="0.6"/><ellipse cx="950.4" cy="690.9" rx="2.4" ry="3.2" fill="#dcd664" stroke="#b9b04a" stroke-width="0.6"/><ellipse cx="951.8" cy="698.4" rx="3.0" ry="4.1" fill="#dcd664" stroke="#b9b04a" stroke-width="0.6"/><ellipse cx="959.1" cy="348.9" rx="2.4" ry="3.2" fill="#dcd664" stroke="#b9b04a" stroke-width="0.6"/><ellipse cx="954.3" cy="351.1" rx="2.8" ry="3.8" fill="#dcd868" stroke="#b9b04a" stroke-width="0.6"/><ellipse cx="959.9" cy="357.2" rx="3.0" ry="4.1" fill="#dcd664" stroke="#b9b04a" stroke-width="0.6"/><ellipse cx="964.3" cy="356.1" rx="2.2" ry="3.0" fill="#dcd868" stroke="#b9b04a" stroke-width="0.6"/><ellipse cx="958.1" cy="369.5" rx="3.7" ry="5.0" fill="#dcd664" stroke="#b9b04a" stroke-width="0.6"/><ellipse cx="962.4" cy="368.9" rx="2.8" ry="3.8" fill="#dcd868" stroke="#b9b04a" stroke-width="0.6"/><ellipse cx="961.0" cy="376.6" rx="3.0" ry="4.1" fill="#dcd664" stroke="#b9b04a" stroke-width="0.6"/><ellipse cx="965.7" cy="377.2" rx="2.8" ry="3.8" fill="#dcd868" stroke="#b9b04a" stroke-width="0.6"/><ellipse cx="960.7" cy="386.2" rx="3.7" ry="5.0" fill="#dcd664" stroke="#b9b04a" stroke-width="0.6"/><ellipse cx="961.3" cy="398.7" rx="2.7" ry="3.6" fill="#dcd664" stroke="#b9b04a" stroke-width="0.6"/><ellipse cx="960.8" cy="407.9" rx="2.4" ry="3.2" fill="#dcd664" stroke="#b9b04a" stroke-width="0.6"/><ellipse cx="962.6" cy="418.9" rx="3.3" ry="4.5" fill="#dcd664" stroke="#b9b04a" stroke-width="0.6"/><ellipse cx="967.2" cy="413.6" rx="2.8" ry="3.8" fill="#dcd868" stroke="#b9b04a" stroke-width="0.6"/><ellipse cx="958.6" cy="429.2" rx="2.7" ry="3.6" fill="#dcd664" stroke="#b9b04a" stroke-width="0.6"/><ellipse cx="958.7" cy="441.6" rx="2.7" ry="3.6" fill="#dcd664" stroke="#b9b04a" stroke-width="0.6"/><ellipse cx="955.2" cy="440.8" rx="2.8" ry="3.8" fill="#dcd868" stroke="#b9b04a" stroke-width="0.6"/><ellipse cx="962.3" cy="449.6" rx="3.7" ry="5.0" fill="#dcd664" stroke="#b9b04a" stroke-width="0.6"/><ellipse cx="962.1" cy="459.2" rx="3.0" ry="4.1" fill="#dcd664" stroke="#b9b04a" stroke-width="0.6"/><ellipse cx="962.2" cy="471.9" rx="2.4" ry="3.2" fill="#dcd664" stroke="#b9b04a" stroke-width="0.6"/><ellipse cx="963.2" cy="482.1" rx="3.7" ry="5.0" fill="#dcd664" stroke="#b9b04a" stroke-width="0.6"/><ellipse cx="959.1" cy="486.9" rx="2.8" ry="3.8" fill="#dcd868" stroke="#b9b04a" stroke-width="0.6"/><ellipse cx="960.6" cy="492.8" rx="3.3" ry="4.5" fill="#dcd664" stroke="#b9b04a" stroke-width="0.6"/><ellipse cx="961.9" cy="501.2" rx="2.4" ry="3.2" fill="#dcd664" stroke="#b9b04a" stroke-width="0.6"/><ellipse cx="958.4" cy="511.2" rx="2.4" ry="3.2" fill="#dcd664" stroke="#b9b04a" stroke-width="0.6"/><ellipse cx="962.8" cy="506.9" rx="2.8" ry="3.8" fill="#dcd868" stroke="#b9b04a" stroke-width="0.6"/><ellipse cx="962.4" cy="520.4" rx="2.4" ry="3.2" fill="#dcd664" stroke="#b9b04a" stroke-width="0.6"/><ellipse cx="959.5" cy="530.3" rx="3.3" ry="4.5" fill="#dcd664" stroke="#b9b04a" stroke-width="0.6"/><ellipse cx="960.3" cy="541.5" rx="2.4" ry="3.2" fill="#dcd664" stroke="#b9b04a" stroke-width="0.6"/><ellipse cx="962.1" cy="551.1" rx="3.7" ry="5.0" fill="#dcd664" stroke="#b9b04a" stroke-width="0.6"/><ellipse cx="963.4" cy="558.7" rx="3.0" ry="4.1" fill="#dcd664" stroke="#b9b04a" stroke-width="0.6"/><ellipse cx="958.5" cy="562.9" rx="2.2" ry="3.0" fill="#dcd868" stroke="#b9b04a" stroke-width="0.6"/><ellipse cx="962.8" cy="567.8" rx="3.0" ry="4.1" fill="#dcd664" stroke="#b9b04a" stroke-width="0.6"/><ellipse cx="957.8" cy="569.4" rx="2.2" ry="3.0" fill="#dcd868" stroke="#b9b04a" stroke-width="0.6"/><ellipse cx="963.4" cy="577.8" rx="3.3" ry="4.5" fill="#dcd664" stroke="#b9b04a" stroke-width="0.6"/><ellipse cx="958.6" cy="592.8" rx="3.7" ry="5.0" fill="#dcd664" stroke="#b9b04a" stroke-width="0.6"/><ellipse cx="960.4" cy="604.4" rx="3.3" ry="4.5" fill="#dcd664" stroke="#b9b04a" stroke-width="0.6"/><ellipse cx="958.5" cy="617.9" rx="3.7" ry="5.0" fill="#dcd664" stroke="#b9b04a" stroke-width="0.6"/><ellipse cx="963.0" cy="623.7" rx="2.4" ry="3.2" fill="#dcd664" stroke="#b9b04a" stroke-width="0.6"/><ellipse cx="959.1" cy="626.3" rx="2.5" ry="3.4" fill="#dcd868" stroke="#b9b04a" stroke-width="0.6"/><ellipse cx="961.1" cy="637.0" rx="3.3" ry="4.5" fill="#dcd664" stroke="#b9b04a" stroke-width="0.6"/><ellipse cx="958.1" cy="650.4" rx="2.7" ry="3.6" fill="#dcd664" stroke="#b9b04a" stroke-width="0.6"/><ellipse cx="953.4" cy="649.3" rx="2.2" ry="3.0" fill="#dcd868" stroke="#b9b04a" stroke-width="0.6"/><ellipse cx="958.5" cy="660.4" rx="3.7" ry="5.0" fill="#dcd664" stroke="#b9b04a" stroke-width="0.6"/><ellipse cx="959.3" cy="672.2" rx="3.7" ry="5.0" fill="#dcd664" stroke="#b9b04a" stroke-width="0.6"/><ellipse cx="963.7" cy="666.9" rx="2.5" ry="3.4" fill="#dcd868" stroke="#b9b04a" stroke-width="0.6"/><ellipse cx="961.7" cy="682.0" rx="3.0" ry="4.1" fill="#dcd664" stroke="#b9b04a" stroke-width="0.6"/><ellipse cx="960.2" cy="694.1" rx="3.7" ry="5.0" fill="#dcd664" stroke="#b9b04a" stroke-width="0.6"/><ellipse cx="960.1" cy="702.3" rx="3.3" ry="4.5" fill="#dcd664" stroke="#b9b04a" stroke-width="0.6"/><ellipse cx="963.8" cy="703.1" rx="2.8" ry="3.8" fill="#dcd868" stroke="#b9b04a" stroke-width="0.6"/><ellipse cx="971.4" cy="349.5" rx="3.0" ry="4.1" fill="#dcd664" stroke="#b9b04a" stroke-width="0.6"/><ellipse cx="975.6" cy="350.7" rx="2.8" ry="3.8" fill="#dcd868" stroke="#b9b04a" stroke-width="0.6"/><ellipse cx="972.2" cy="361.5" rx="2.7" ry="3.6" fill="#dcd664" stroke="#b9b04a" stroke-width="0.6"/><ellipse cx="970.5" cy="371.3" rx="3.7" ry="5.0" fill="#dcd664" stroke="#b9b04a" stroke-width="0.6"/><ellipse cx="969.5" cy="380.7" rx="3.0" ry="4.1" fill="#dcd664" stroke="#b9b04a" stroke-width="0.6"/><ellipse cx="968.9" cy="393.7" rx="3.0" ry="4.1" fill="#dcd664" stroke="#b9b04a" stroke-width="0.6"/><ellipse cx="972.3" cy="403.8" rx="3.7" ry="5.0" fill="#dcd664" stroke="#b9b04a" stroke-width="0.6"/><ellipse cx="976.3" cy="398.8" rx="2.5" ry="3.4" fill="#dcd868" stroke="#b9b04a" stroke-width="0.6"/><ellipse cx="971.8" cy="412.1" rx="3.3" ry="4.5" fill="#dcd664" stroke="#b9b04a" stroke-width="0.6"/><ellipse cx="968.3" cy="424.4" rx="2.7" ry="3.6" fill="#dcd664" stroke="#b9b04a" stroke-width="0.6"/><ellipse cx="972.5" cy="433.4" rx="3.3" ry="4.5" fill="#dcd664" stroke="#b9b04a" stroke-width="0.6"/><ellipse cx="968.8" cy="445.6" rx="2.4" ry="3.2" fill="#dcd664" stroke="#b9b04a" stroke-width="0.6"/><ellipse cx="973.1" cy="445.9" rx="2.2" ry="3.0" fill="#dcd868" stroke="#b9b04a" stroke-width="0.6"/><ellipse cx="971.7" cy="454.3" rx="3.7" ry="5.0" fill="#dcd664" stroke="#b9b04a" stroke-width="0.6"/><ellipse cx="968.1" cy="457.8" rx="2.2" ry="3.0" fill="#dcd868" stroke="#b9b04a" stroke-width="0.6"/><ellipse cx="969.8" cy="466.7" rx="2.4" ry="3.2" fill="#dcd664" stroke="#b9b04a" stroke-width="0.6"/><ellipse cx="965.9" cy="468.6" rx="2.8" ry="3.8" fill="#dcd868" stroke="#b9b04a" stroke-width="0.6"/><ellipse cx="971.1" cy="476.8" rx="3.7" ry="5.0" fill="#dcd664" stroke="#b9b04a" stroke-width="0.6"/><ellipse cx="967.5" cy="490.3" rx="3.7" ry="5.0" fill="#dcd664" stroke="#b9b04a" stroke-width="0.6"/><ellipse cx="968.9" cy="500.2" rx="2.7" ry="3.6" fill="#dcd664" stroke="#b9b04a" stroke-width="0.6"/><ellipse cx="973.2" cy="501.0" rx="2.8" ry="3.8" fill="#dcd868" stroke="#b9b04a" stroke-width="0.6"/><ellipse cx="970.9" cy="511.2" rx="3.7" ry="5.0" fill="#dcd664" stroke="#b9b04a" stroke-width="0.6"/><ellipse cx="967.8" cy="525.2" rx="3.0" ry="4.1" fill="#dcd664" stroke="#b9b04a" stroke-width="0.6"/><ellipse cx="973.0" cy="533.3" rx="3.7" ry="5.0" fill="#dcd664" stroke="#b9b04a" stroke-width="0.6"/><ellipse cx="976.9" cy="533.2" rx="2.2" ry="3.0" fill="#dcd868" stroke="#b9b04a" stroke-width="0.6"/><ellipse cx="972.3" cy="545.3" rx="3.3" ry="4.5" fill="#dcd664" stroke="#b9b04a" stroke-width="0.6"/><ellipse cx="976.4" cy="544.7" rx="2.8" ry="3.8" fill="#dcd868" stroke="#b9b04a" stroke-width="0.6"/><ellipse cx="969.7" cy="557.2" rx="3.0" ry="4.1" fill="#dcd664" stroke="#b9b04a" stroke-width="0.6"/><ellipse cx="969.6" cy="567.6" rx="2.4" ry="3.2" fill="#dcd664" stroke="#b9b04a" stroke-width="0.6"/><ellipse cx="973.7" cy="562.6" rx="2.8" ry="3.8" fill="#dcd868" stroke="#b9b04a" stroke-width="0.6"/><ellipse cx="968.8" cy="577.3" rx="3.0" ry="4.1" fill="#dcd664" stroke="#b9b04a" stroke-width="0.6"/><ellipse cx="969.5" cy="588.7" rx="2.4" ry="3.2" fill="#dcd664" stroke="#b9b04a" stroke-width="0.6"/><ellipse cx="969.6" cy="600.3" rx="3.3" ry="4.5" fill="#dcd664" stroke="#b9b04a" stroke-width="0.6"/><ellipse cx="967.5" cy="609.7" rx="3.7" ry="5.0" fill="#dcd664" stroke="#b9b04a" stroke-width="0.6"/><ellipse cx="967.8" cy="621.8" rx="3.7" ry="5.0" fill="#dcd664" stroke="#b9b04a" stroke-width="0.6"/><ellipse cx="963.3" cy="623.7" rx="2.5" ry="3.4" fill="#dcd868" stroke="#b9b04a" stroke-width="0.6"/><ellipse cx="970.9" cy="629.1" rx="3.7" ry="5.0" fill="#dcd664" stroke="#b9b04a" stroke-width="0.6"/><ellipse cx="966.5" cy="633.2" rx="2.8" ry="3.8" fill="#dcd868" stroke="#b9b04a" stroke-width="0.6"/><ellipse cx="970.7" cy="638.9" rx="3.7" ry="5.0" fill="#dcd664" stroke="#b9b04a" stroke-width="0.6"/><ellipse cx="968.0" cy="651.3" rx="2.4" ry="3.2" fill="#dcd664" stroke="#b9b04a" stroke-width="0.6"/><ellipse cx="963.6" cy="651.7" rx="2.8" ry="3.8" fill="#dcd868" stroke="#b9b04a" stroke-width="0.6"/><ellipse cx="970.2" cy="659.6" rx="3.3" ry="4.5" fill="#dcd664" stroke="#b9b04a" stroke-width="0.6"/><ellipse cx="969.4" cy="668.9" rx="3.7" ry="5.0" fill="#dcd664" stroke="#b9b04a" stroke-width="0.6"/><ellipse cx="973.5" cy="669.1" rx="2.8" ry="3.8" fill="#dcd868" stroke="#b9b04a" stroke-width="0.6"/><ellipse cx="970.7" cy="678.3" rx="2.7" ry="3.6" fill="#dcd664" stroke="#b9b04a" stroke-width="0.6"/><ellipse cx="971.5" cy="687.3" rx="3.7" ry="5.0" fill="#dcd664" stroke="#b9b04a" stroke-width="0.6"/><ellipse cx="967.5" cy="692.5" rx="2.5" ry="3.4" fill="#dcd868" stroke="#b9b04a" stroke-width="0.6"/><ellipse cx="971.7" cy="698.2" rx="2.7" ry="3.6" fill="#dcd664" stroke="#b9b04a" stroke-width="0.6"/><ellipse cx="978.9" cy="340.4" rx="2.7" ry="3.6" fill="#dcd664" stroke="#b9b04a" stroke-width="0.6"/><ellipse cx="982.6" cy="335.0" rx="2.5" ry="3.4" fill="#dcd868" stroke="#b9b04a" stroke-width="0.6"/><ellipse cx="978.9" cy="348.5" rx="2.4" ry="3.2" fill="#dcd664" stroke="#b9b04a" stroke-width="0.6"/><ellipse cx="981.1" cy="358.2" rx="3.3" ry="4.5" fill="#dcd664" stroke="#b9b04a" stroke-width="0.6"/><ellipse cx="977.1" cy="362.5" rx="2.5" ry="3.4" fill="#dcd868" stroke="#b9b04a" stroke-width="0.6"/><ellipse cx="980.7" cy="367.1" rx="3.7" ry="5.0" fill="#dcd664" stroke="#b9b04a" stroke-width="0.6"/><ellipse cx="976.3" cy="366.7" rx="2.5" ry="3.4" fill="#dcd868" stroke="#b9b04a" stroke-width="0.6"/><ellipse cx="982.4" cy="375.2" rx="3.7" ry="5.0" fill="#dcd664" stroke="#b9b04a" stroke-width="0.6"/><ellipse cx="982.3" cy="387.4" rx="2.4" ry="3.2" fill="#dcd664" stroke="#b9b04a" stroke-width="0.6"/><ellipse cx="978.4" cy="397.4" rx="3.7" ry="5.0" fill="#dcd664" stroke="#b9b04a" stroke-width="0.6"/><ellipse cx="981.9" cy="406.0" rx="2.4" ry="3.2" fill="#dcd664" stroke="#b9b04a" stroke-width="0.6"/><ellipse cx="978.0" cy="420.1" rx="2.4" ry="3.2" fill="#dcd664" stroke="#b9b04a" stroke-width="0.6"/><ellipse cx="981.2" cy="430.7" rx="3.3" ry="4.5" fill="#dcd664" stroke="#b9b04a" stroke-width="0.6"/><ellipse cx="977.3" cy="432.3" rx="2.2" ry="3.0" fill="#dcd868" stroke="#b9b04a" stroke-width="0.6"/><ellipse cx="978.2" cy="444.5" rx="3.7" ry="5.0" fill="#dcd664" stroke="#b9b04a" stroke-width="0.6"/><ellipse cx="983.1" cy="445.3" rx="2.5" ry="3.4" fill="#dcd868" stroke="#b9b04a" stroke-width="0.6"/><ellipse cx="977.5" cy="454.9" rx="2.7" ry="3.6" fill="#dcd664" stroke="#b9b04a" stroke-width="0.6"/><ellipse cx="978.0" cy="463.9" rx="2.7" ry="3.6" fill="#dcd664" stroke="#b9b04a" stroke-width="0.6"/><ellipse cx="978.4" cy="476.1" rx="2.4" ry="3.2" fill="#dcd664" stroke="#b9b04a" stroke-width="0.6"/><ellipse cx="978.4" cy="488.9" rx="3.0" ry="4.1" fill="#dcd664" stroke="#b9b04a" stroke-width="0.6"/><ellipse cx="973.6" cy="491.8" rx="2.5" ry="3.4" fill="#dcd868" stroke="#b9b04a" stroke-width="0.6"/><ellipse cx="980.2" cy="498.9" rx="3.3" ry="4.5" fill="#dcd664" stroke="#b9b04a" stroke-width="0.6"/><ellipse cx="978.9" cy="508.1" rx="3.7" ry="5.0" fill="#dcd664" stroke="#b9b04a" stroke-width="0.6"/><ellipse cx="974.9" cy="513.4" rx="2.2" ry="3.0" fill="#dcd868" stroke="#b9b04a" stroke-width="0.6"/><ellipse cx="981.9" cy="516.2" rx="2.7" ry="3.6" fill="#dcd664" stroke="#b9b04a" stroke-width="0.6"/><ellipse cx="986.6" cy="512.5" rx="2.8" ry="3.8" fill="#dcd868" stroke="#b9b04a" stroke-width="0.6"/><ellipse cx="980.8" cy="527.8" rx="3.7" ry="5.0" fill="#dcd664" stroke="#b9b04a" stroke-width="0.6"/><ellipse cx="978.5" cy="539.3" rx="2.4" ry="3.2" fill="#dcd664" stroke="#b9b04a" stroke-width="0.6"/><ellipse cx="981.2" cy="547.1" rx="2.7" ry="3.6" fill="#dcd664" stroke="#b9b04a" stroke-width="0.6"/><ellipse cx="976.4" cy="546.4" rx="2.2" ry="3.0" fill="#dcd868" stroke="#b9b04a" stroke-width="0.6"/><ellipse cx="982.1" cy="558.2" rx="2.7" ry="3.6" fill="#dcd664" stroke="#b9b04a" stroke-width="0.6"/><ellipse cx="979.2" cy="570.1" rx="3.7" ry="5.0" fill="#dcd664" stroke="#b9b04a" stroke-width="0.6"/><ellipse cx="981.0" cy="579.5" rx="3.3" ry="4.5" fill="#dcd664" stroke="#b9b04a" stroke-width="0.6"/><ellipse cx="981.9" cy="588.6" rx="3.7" ry="5.0" fill="#dcd664" stroke="#b9b04a" stroke-width="0.6"/><ellipse cx="986.5" cy="587.4" rx="2.8" ry="3.8" fill="#dcd868" stroke="#b9b04a" stroke-width="0.6"/><ellipse cx="979.9" cy="597.9" rx="3.3" ry="4.5" fill="#dcd664" stroke="#b9b04a" stroke-width="0.6"/><ellipse cx="983.7" cy="598.9" rx="2.5" ry="3.4" fill="#dcd868" stroke="#b9b04a" stroke-width="0.6"/><ellipse cx="978.1" cy="611.0" rx="3.3" ry="4.5" fill="#dcd664" stroke="#b9b04a" stroke-width="0.6"/><ellipse cx="980.0" cy="620.6" rx="3.3" ry="4.5" fill="#dcd664" stroke="#b9b04a" stroke-width="0.6"/><ellipse cx="980.8" cy="628.3" rx="3.0" ry="4.1" fill="#dcd664" stroke="#b9b04a" stroke-width="0.6"/><ellipse cx="981.9" cy="635.7" rx="3.0" ry="4.1" fill="#dcd664" stroke="#b9b04a" stroke-width="0.6"/><ellipse cx="980.8" cy="645.5" rx="3.3" ry="4.5" fill="#dcd664" stroke="#b9b04a" stroke-width="0.6"/><ellipse cx="984.7" cy="641.9" rx="2.8" ry="3.8" fill="#dcd868" stroke="#b9b04a" stroke-width="0.6"/><ellipse cx="978.5" cy="658.3" rx="2.4" ry="3.2" fill="#dcd664" stroke="#b9b04a" stroke-width="0.6"/><ellipse cx="974.8" cy="662.5" rx="2.2" ry="3.0" fill="#dcd868" stroke="#b9b04a" stroke-width="0.6"/><ellipse cx="978.4" cy="669.7" rx="3.0" ry="4.1" fill="#dcd664" stroke="#b9b04a" stroke-width="0.6"/><ellipse cx="979.9" cy="677.5" rx="3.0" ry="4.1" fill="#dcd664" stroke="#b9b04a" stroke-width="0.6"/><ellipse cx="978.4" cy="690.4" rx="3.7" ry="5.0" fill="#dcd664" stroke="#b9b04a" stroke-width="0.6"/><ellipse cx="973.6" cy="692.6" rx="2.8" ry="3.8" fill="#dcd868" stroke="#b9b04a" stroke-width="0.6"/><ellipse cx="991.9" cy="335.2" rx="3.7" ry="5.0" fill="#dcd664" stroke="#b9b04a" stroke-width="0.6"/><ellipse cx="990.9" cy="346.6" rx="3.3" ry="4.5" fill="#dcd664" stroke="#b9b04a" stroke-width="0.6"/><ellipse cx="987.9" cy="359.3" rx="3.3" ry="4.5" fill="#dcd664" stroke="#b9b04a" stroke-width="0.6"/><ellipse cx="987.4" cy="372.4" rx="2.4" ry="3.2" fill="#dcd664" stroke="#b9b04a" stroke-width="0.6"/><ellipse cx="991.0" cy="379.2" rx="3.3" ry="4.5" fill="#dcd664" stroke="#b9b04a" stroke-width="0.6"/><ellipse cx="987.2" cy="393.0" rx="2.7" ry="3.6" fill="#dcd664" stroke="#b9b04a" stroke-width="0.6"/><ellipse cx="988.9" cy="403.8" rx="3.7" ry="5.0" fill="#dcd664" stroke="#b9b04a" stroke-width="0.6"/><ellipse cx="993.1" cy="398.2" rx="2.5" ry="3.4" fill="#dcd868" stroke="#b9b04a" stroke-width="0.6"/><ellipse cx="990.6" cy="415.8" rx="3.7" ry="5.0" fill="#dcd664" stroke="#b9b04a" stroke-width="0.6"/><ellipse cx="986.4" cy="429.4" rx="3.7" ry="5.0" fill="#dcd664" stroke="#b9b04a" stroke-width="0.6"/><ellipse cx="981.8" cy="432.1" rx="2.2" ry="3.0" fill="#dcd868" stroke="#b9b04a" stroke-width="0.6"/><ellipse cx="990.3" cy="438.9" rx="2.4" ry="3.2" fill="#dcd664" stroke="#b9b04a" stroke-width="0.6"/><ellipse cx="988.3" cy="452.0" rx="2.7" ry="3.6" fill="#dcd664" stroke="#b9b04a" stroke-width="0.6"/><ellipse cx="989.3" cy="462.6" rx="2.7" ry="3.6" fill="#dcd664" stroke="#b9b04a" stroke-width="0.6"/><ellipse cx="993.0" cy="461.0" rx="2.5" ry="3.4" fill="#dcd868" stroke="#b9b04a" stroke-width="0.6"/><ellipse cx="987.3" cy="474.5" rx="2.4" ry="3.2" fill="#dcd664" stroke="#b9b04a" stroke-width="0.6"/><ellipse cx="983.5" cy="473.8" rx="2.8" ry="3.8" fill="#dcd868" stroke="#b9b04a" stroke-width="0.6"/><ellipse cx="988.2" cy="485.9" rx="2.7" ry="3.6" fill="#dcd664" stroke="#b9b04a" stroke-width="0.6"/><ellipse cx="987.6" cy="496.4" rx="2.7" ry="3.6" fill="#dcd664" stroke="#b9b04a" stroke-width="0.6"/><ellipse cx="992.2" cy="495.8" rx="2.5" ry="3.4" fill="#dcd868" stroke="#b9b04a" stroke-width="0.6"/><ellipse cx="990.7" cy="505.5" rx="3.7" ry="5.0" fill="#dcd664" stroke="#b9b04a" stroke-width="0.6"/><ellipse cx="988.1" cy="518.7" rx="3.3" ry="4.5" fill="#dcd664" stroke="#b9b04a" stroke-width="0.6"/><ellipse cx="983.7" cy="520.2" rx="2.5" ry="3.4" fill="#dcd868" stroke="#b9b04a" stroke-width="0.6"/><ellipse cx="986.7" cy="532.1" rx="2.4" ry="3.2" fill="#dcd664" stroke="#b9b04a" stroke-width="0.6"/><ellipse cx="990.3" cy="540.5" rx="2.4" ry="3.2" fill="#dcd664" stroke="#b9b04a" stroke-width="0.6"/><ellipse cx="986.7" cy="541.4" rx="2.8" ry="3.8" fill="#dcd868" stroke="#b9b04a" stroke-width="0.6"/><ellipse cx="987.1" cy="550.0" rx="3.7" ry="5.0" fill="#dcd664" stroke="#b9b04a" stroke-width="0.6"/><ellipse cx="987.8" cy="562.5" rx="3.3" ry="4.5" fill="#dcd664" stroke="#b9b04a" stroke-width="0.6"/><ellipse cx="992.7" cy="561.7" rx="2.5" ry="3.4" fill="#dcd868" stroke="#b9b04a" stroke-width="0.6"/><ellipse cx="987.9" cy="571.4" rx="3.3" ry="4.5" fill="#dcd664" stroke="#b9b04a" stroke-width="0.6"/><ellipse cx="992.0" cy="567.4" rx="2.5" ry="3.4" fill="#dcd868" stroke="#b9b04a" stroke-width="0.6"/><ellipse cx="989.2" cy="579.4" rx="3.7" ry="5.0" fill="#dcd664" stroke="#b9b04a" stroke-width="0.6"/><ellipse cx="989.1" cy="590.9" rx="2.4" ry="3.2" fill="#dcd664" stroke="#b9b04a" stroke-width="0.6"/><ellipse cx="988.8" cy="599.6" rx="3.7" ry="5.0" fill="#dcd664" stroke="#b9b04a" stroke-width="0.6"/><ellipse cx="990.8" cy="609.0" rx="3.3" ry="4.5" fill="#dcd664" stroke="#b9b04a" stroke-width="0.6"/><ellipse cx="986.6" cy="612.9" rx="2.2" ry="3.0" fill="#dcd868" stroke="#b9b04a" stroke-width="0.6"/><ellipse cx="987.0" cy="623.4" rx="2.4" ry="3.2" fill="#dcd664" stroke="#b9b04a" stroke-width="0.6"/><ellipse cx="991.7" cy="621.5" rx="2.8" ry="3.8" fill="#dcd868" stroke="#b9b04a" stroke-width="0.6"/><ellipse cx="988.0" cy="633.6" rx="2.7" ry="3.6" fill="#dcd664" stroke="#b9b04a" stroke-width="0.6"/><ellipse cx="991.9" cy="643.4" rx="2.4" ry="3.2" fill="#dcd664" stroke="#b9b04a" stroke-width="0.6"/><ellipse cx="990.3" cy="655.5" rx="3.3" ry="4.5" fill="#dcd664" stroke="#b9b04a" stroke-width="0.6"/><ellipse cx="986.7" cy="660.6" rx="2.8" ry="3.8" fill="#dcd868" stroke="#b9b04a" stroke-width="0.6"/><ellipse cx="991.6" cy="667.4" rx="3.7" ry="5.0" fill="#dcd664" stroke="#b9b04a" stroke-width="0.6"/><ellipse cx="987.1" cy="680.1" rx="3.7" ry="5.0" fill="#dcd664" stroke="#b9b04a" stroke-width="0.6"/><ellipse cx="987.9" cy="688.8" rx="2.4" ry="3.2" fill="#dcd664" stroke="#b9b04a" stroke-width="0.6"/><ellipse cx="991.9" cy="683.5" rx="2.5" ry="3.4" fill="#dcd868" stroke="#b9b04a" stroke-width="0.6"/><ellipse cx="998.2" cy="335.3" rx="3.0" ry="4.1" fill="#dcd664" stroke="#b9b04a" stroke-width="0.6"/><ellipse cx="1000.4" cy="342.2" rx="2.7" ry="3.6" fill="#dcd664" stroke="#b9b04a" stroke-width="0.6"/><ellipse cx="1004.1" cy="342.0" rx="2.5" ry="3.4" fill="#dcd868" stroke="#b9b04a" stroke-width="0.6"/><ellipse cx="1000.5" cy="353.1" rx="3.0" ry="4.1" fill="#dcd664" stroke="#b9b04a" stroke-width="0.6"/><ellipse cx="1004.2" cy="352.4" rx="2.5" ry="3.4" fill="#dcd868" stroke="#b9b04a" stroke-width="0.6"/><ellipse cx="1001.0" cy="361.0" rx="3.0" ry="4.1" fill="#dcd664" stroke="#b9b04a" stroke-width="0.6"/><ellipse cx="1005.9" cy="356.1" rx="2.2" ry="3.0" fill="#dcd868" stroke="#b9b04a" stroke-width="0.6"/><ellipse cx="999.4" cy="374.6" rx="2.7" ry="3.6" fill="#dcd664" stroke="#b9b04a" stroke-width="0.6"/><ellipse cx="997.1" cy="386.2" rx="3.7" ry="5.0" fill="#dcd664" stroke="#b9b04a" stroke-width="0.6"/><ellipse cx="1001.6" cy="385.9" rx="2.2" ry="3.0" fill="#dcd868" stroke="#b9b04a" stroke-width="0.6"/><ellipse cx="1000.1" cy="397.3" rx="3.3" ry="4.5" fill="#dcd664" stroke="#b9b04a" stroke-width="0.6"/><ellipse cx="998.0" cy="410.6" rx="2.7" ry="3.6" fill="#dcd664" stroke="#b9b04a" stroke-width="0.6"/><ellipse cx="1000.0" cy="421.3" rx="3.7" ry="5.0" fill="#dcd664" stroke="#b9b04a" stroke-width="0.6"/><ellipse cx="998.9" cy="434.6" rx="3.7" ry="5.0" fill="#dcd664" stroke="#b9b04a" stroke-width="0.6"/><ellipse cx="999.1" cy="443.0" rx="3.3" ry="4.5" fill="#dcd664" stroke="#b9b04a" stroke-width="0.6"/><ellipse cx="997.7" cy="456.3" rx="3.7" ry="5.0" fill="#dcd664" stroke="#b9b04a" stroke-width="0.6"/><ellipse cx="997.9" cy="466.6" rx="2.7" ry="3.6" fill="#dcd664" stroke="#b9b04a" stroke-width="0.6"/><ellipse cx="999.0" cy="474.9" rx="2.4" ry="3.2" fill="#dcd664" stroke="#b9b04a" stroke-width="0.6"/><ellipse cx="1000.6" cy="485.8" rx="3.7" ry="5.0" fill="#dcd664" stroke="#b9b04a" stroke-width="0.6"/><ellipse cx="1004.5" cy="482.7" rx="2.2" ry="3.0" fill="#dcd868" stroke="#b9b04a" stroke-width="0.6"/><ellipse cx="997.4" cy="495.5" rx="3.7" ry="5.0" fill="#dcd664" stroke="#b9b04a" stroke-width="0.6"/><ellipse cx="996.7" cy="504.1" rx="3.7" ry="5.0" fill="#dcd664" stroke="#b9b04a" stroke-width="0.6"/><ellipse cx="1000.8" cy="501.1" rx="2.5" ry="3.4" fill="#dcd868" stroke="#b9b04a" stroke-width="0.6"/><ellipse cx="1000.5" cy="510.3" rx="2.7" ry="3.6" fill="#dcd664" stroke="#b9b04a" stroke-width="0.6"/><ellipse cx="1001.4" cy="520.9" rx="2.7" ry="3.6" fill="#dcd664" stroke="#b9b04a" stroke-width="0.6"/><ellipse cx="999.8" cy="532.2" rx="3.0" ry="4.1" fill="#dcd664" stroke="#b9b04a" stroke-width="0.6"/><ellipse cx="1001.1" cy="543.3" rx="2.4" ry="3.2" fill="#dcd664" stroke="#b9b04a" stroke-width="0.6"/><ellipse cx="1000.6" cy="551.7" rx="2.4" ry="3.2" fill="#dcd664" stroke="#b9b04a" stroke-width="0.6"/><ellipse cx="998.1" cy="562.7" rx="2.7" ry="3.6" fill="#dcd664" stroke="#b9b04a" stroke-width="0.6"/><ellipse cx="1002.6" cy="563.2" rx="2.8" ry="3.8" fill="#dcd868" stroke="#b9b04a" stroke-width="0.6"/><ellipse cx="1001.4" cy="570.0" rx="2.4" ry="3.2" fill="#dcd664" stroke="#b9b04a" stroke-width="0.6"/><ellipse cx="997.9" cy="570.4" rx="2.8" ry="3.8" fill="#dcd868" stroke="#b9b04a" stroke-width="0.6"/><ellipse cx="1000.7" cy="579.0" rx="3.0" ry="4.1" fill="#dcd664" stroke="#b9b04a" stroke-width="0.6"/><ellipse cx="996.1" cy="579.0" rx="2.8" ry="3.8" fill="#dcd868" stroke="#b9b04a" stroke-width="0.6"/><ellipse cx="1000.1" cy="590.1" rx="3.7" ry="5.0" fill="#dcd664" stroke="#b9b04a" stroke-width="0.6"/><ellipse cx="1004.3" cy="588.0" rx="2.8" ry="3.8" fill="#dcd868" stroke="#b9b04a" stroke-width="0.6"/><ellipse cx="999.4" cy="599.3" rx="3.3" ry="4.5" fill="#dcd664" stroke="#b9b04a" stroke-width="0.6"/><ellipse cx="1000.5" cy="611.5" rx="2.7" ry="3.6" fill="#dcd664" stroke="#b9b04a" stroke-width="0.6"/><ellipse cx="996.6" cy="610.5" rx="2.8" ry="3.8" fill="#dcd868" stroke="#b9b04a" stroke-width="0.6"/><ellipse cx="1000.1" cy="619.7" rx="2.7" ry="3.6" fill="#dcd664" stroke="#b9b04a" stroke-width="0.6"/><ellipse cx="996.6" cy="623.7" rx="2.8" ry="3.8" fill="#dcd868" stroke="#b9b04a" stroke-width="0.6"/><ellipse cx="998.1" cy="632.6" rx="3.7" ry="5.0" fill="#dcd664" stroke="#b9b04a" stroke-width="0.6"/><ellipse cx="1002.6" cy="628.2" rx="2.8" ry="3.8" fill="#dcd868" stroke="#b9b04a" stroke-width="0.6"/><ellipse cx="996.8" cy="642.9" rx="3.3" ry="4.5" fill="#dcd664" stroke="#b9b04a" stroke-width="0.6"/><ellipse cx="1001.6" cy="639.7" rx="2.2" ry="3.0" fill="#dcd868" stroke="#b9b04a" stroke-width="0.6"/><ellipse cx="997.0" cy="655.3" rx="3.3" ry="4.5" fill="#dcd664" stroke="#b9b04a" stroke-width="0.6"/><ellipse cx="999.4" cy="665.1" rx="3.3" ry="4.5" fill="#dcd664" stroke="#b9b04a" stroke-width="0.6"/><ellipse cx="995.9" cy="663.5" rx="2.5" ry="3.4" fill="#dcd868" stroke="#b9b04a" stroke-width="0.6"/><ellipse cx="999.6" cy="676.5" rx="3.0" ry="4.1" fill="#dcd664" stroke="#b9b04a" stroke-width="0.6"/><ellipse cx="1008.8" cy="326.5" rx="2.7" ry="3.6" fill="#dcd664" stroke="#b9b04a" stroke-width="0.6"/><ellipse cx="1007.7" cy="338.7" rx="3.0" ry="4.1" fill="#dcd664" stroke="#b9b04a" stroke-width="0.6"/><ellipse cx="1006.0" cy="348.3" rx="2.4" ry="3.2" fill="#dcd664" stroke="#b9b04a" stroke-width="0.6"/><ellipse cx="1006.5" cy="357.9" rx="3.0" ry="4.1" fill="#dcd664" stroke="#b9b04a" stroke-width="0.6"/><ellipse cx="1003.1" cy="357.4" rx="2.8" ry="3.8" fill="#dcd868" stroke="#b9b04a" stroke-width="0.6"/><ellipse cx="1005.6" cy="370.2" rx="3.7" ry="5.0" fill="#dcd664" stroke="#b9b04a" stroke-width="0.6"/><ellipse cx="1006.1" cy="380.6" rx="2.4" ry="3.2" fill="#dcd664" stroke="#b9b04a" stroke-width="0.6"/><ellipse cx="1010.5" cy="374.9" rx="2.2" ry="3.0" fill="#dcd868" stroke="#b9b04a" stroke-width="0.6"/><ellipse cx="1008.4" cy="389.2" rx="3.0" ry="4.1" fill="#dcd664" stroke="#b9b04a" stroke-width="0.6"/><ellipse cx="1004.8" cy="393.8" rx="2.2" ry="3.0" fill="#dcd868" stroke="#b9b04a" stroke-width="0.6"/><ellipse cx="1007.1" cy="400.9" rx="2.7" ry="3.6" fill="#dcd664" stroke="#b9b04a" stroke-width="0.6"/><ellipse cx="1007.7" cy="409.4" rx="2.4" ry="3.2" fill="#dcd664" stroke="#b9b04a" stroke-width="0.6"/><ellipse cx="1012.2" cy="404.2" rx="2.2" ry="3.0" fill="#dcd868" stroke="#b9b04a" stroke-width="0.6"/><ellipse cx="1009.7" cy="418.7" rx="3.7" ry="5.0" fill="#dcd664" stroke="#b9b04a" stroke-width="0.6"/><ellipse cx="1007.5" cy="431.1" rx="3.3" ry="4.5" fill="#dcd664" stroke="#b9b04a" stroke-width="0.6"/><ellipse cx="1011.8" cy="432.4" rx="2.5" ry="3.4" fill="#dcd868" stroke="#b9b04a" stroke-width="0.6"/><ellipse cx="1009.8" cy="441.9" rx="3.3" ry="4.5" fill="#dcd664" stroke="#b9b04a" stroke-width="0.6"/><ellipse cx="1009.1" cy="455.1" rx="3.0" ry="4.1" fill="#dcd664" stroke="#b9b04a" stroke-width="0.6"/><ellipse cx="1009.7" cy="467.3" rx="3.7" ry="5.0" fill="#dcd664" stroke="#b9b04a" stroke-width="0.6"/><ellipse cx="1013.5" cy="462.1" rx="2.2" ry="3.0" fill="#dcd868" stroke="#b9b04a" stroke-width="0.6"/><ellipse cx="1005.4" cy="481.6" rx="3.0" ry="4.1" fill="#dcd664" stroke="#b9b04a" stroke-width="0.6"/><ellipse cx="1007.6" cy="490.1" rx="3.0" ry="4.1" fill="#dcd664" stroke="#b9b04a" stroke-width="0.6"/><ellipse cx="1006.2" cy="500.9" rx="3.3" ry="4.5" fill="#dcd664" stroke="#b9b04a" stroke-width="0.6"/><ellipse cx="1009.9" cy="501.7" rx="2.2" ry="3.0" fill="#dcd868" stroke="#b9b04a" stroke-width="0.6"/><ellipse cx="1008.6" cy="510.8" rx="2.4" ry="3.2" fill="#dcd664" stroke="#b9b04a" stroke-width="0.6"/><ellipse cx="1010.3" cy="522.8" rx="2.4" ry="3.2" fill="#dcd664" stroke="#b9b04a" stroke-width="0.6"/><ellipse cx="1006.4" cy="533.7" rx="2.7" ry="3.6" fill="#dcd664" stroke="#b9b04a" stroke-width="0.6"/><ellipse cx="1002.6" cy="533.9" rx="2.2" ry="3.0" fill="#dcd868" stroke="#b9b04a" stroke-width="0.6"/><ellipse cx="1006.0" cy="544.3" rx="3.3" ry="4.5" fill="#dcd664" stroke="#b9b04a" stroke-width="0.6"/><ellipse cx="1010.7" cy="552.8" rx="2.7" ry="3.6" fill="#dcd664" stroke="#b9b04a" stroke-width="0.6"/><ellipse cx="1007.1" cy="557.8" rx="2.8" ry="3.8" fill="#dcd868" stroke="#b9b04a" stroke-width="0.6"/><ellipse cx="1007.8" cy="563.0" rx="3.7" ry="5.0" fill="#dcd664" stroke="#b9b04a" stroke-width="0.6"/><ellipse cx="1010.7" cy="571.9" rx="3.3" ry="4.5" fill="#dcd664" stroke="#b9b04a" stroke-width="0.6"/><ellipse cx="1015.2" cy="566.8" rx="2.5" ry="3.4" fill="#dcd868" stroke="#b9b04a" stroke-width="0.6"/><ellipse cx="1006.2" cy="583.4" rx="3.3" ry="4.5" fill="#dcd664" stroke="#b9b04a" stroke-width="0.6"/><ellipse cx="1010.3" cy="581.1" rx="2.5" ry="3.4" fill="#dcd868" stroke="#b9b04a" stroke-width="0.6"/><ellipse cx="1005.6" cy="592.7" rx="3.7" ry="5.0" fill="#dcd664" stroke="#b9b04a" stroke-width="0.6"/><ellipse cx="1009.4" cy="587.7" rx="2.8" ry="3.8" fill="#dcd868" stroke="#b9b04a" stroke-width="0.6"/><ellipse cx="1005.8" cy="603.3" rx="3.7" ry="5.0" fill="#dcd664" stroke="#b9b04a" stroke-width="0.6"/><ellipse cx="1007.0" cy="610.6" rx="3.0" ry="4.1" fill="#dcd664" stroke="#b9b04a" stroke-width="0.6"/><ellipse cx="1011.0" cy="617.3" rx="2.7" ry="3.6" fill="#dcd664" stroke="#b9b04a" stroke-width="0.6"/><ellipse cx="1006.9" cy="629.2" rx="3.3" ry="4.5" fill="#dcd664" stroke="#b9b04a" stroke-width="0.6"/><ellipse cx="1005.5" cy="637.9" rx="2.7" ry="3.6" fill="#dcd664" stroke="#b9b04a" stroke-width="0.6"/><ellipse cx="1010.6" cy="643.3" rx="3.0" ry="4.1" fill="#dcd664" stroke="#b9b04a" stroke-width="0.6"/><ellipse cx="1014.9" cy="641.5" rx="2.8" ry="3.8" fill="#dcd868" stroke="#b9b04a" stroke-width="0.6"/><ellipse cx="1009.0" cy="654.8" rx="2.4" ry="3.2" fill="#dcd664" stroke="#b9b04a" stroke-width="0.6"/><ellipse cx="1007.2" cy="667.0" rx="3.3" ry="4.5" fill="#dcd664" stroke="#b9b04a" stroke-width="0.6"/><ellipse cx="1011.0" cy="676.3" rx="2.7" ry="3.6" fill="#dcd664" stroke="#b9b04a" stroke-width="0.6"/><ellipse cx="1020.6" cy="317.8" rx="2.4" ry="3.2" fill="#dcd664" stroke="#b9b04a" stroke-width="0.6"/><ellipse cx="1016.8" cy="332.0" rx="2.7" ry="3.6" fill="#dcd664" stroke="#b9b04a" stroke-width="0.6"/><ellipse cx="1015.0" cy="341.8" rx="2.7" ry="3.6" fill="#dcd664" stroke="#b9b04a" stroke-width="0.6"/><ellipse cx="1019.0" cy="338.1" rx="2.2" ry="3.0" fill="#dcd868" stroke="#b9b04a" stroke-width="0.6"/><ellipse cx="1015.7" cy="353.0" rx="2.4" ry="3.2" fill="#dcd664" stroke="#b9b04a" stroke-width="0.6"/><ellipse cx="1016.7" cy="362.9" rx="3.0" ry="4.1" fill="#dcd664" stroke="#b9b04a" stroke-width="0.6"/><ellipse cx="1020.2" cy="358.4" rx="2.8" ry="3.8" fill="#dcd868" stroke="#b9b04a" stroke-width="0.6"/><ellipse cx="1016.3" cy="375.8" rx="2.7" ry="3.6" fill="#dcd664" stroke="#b9b04a" stroke-width="0.6"/><ellipse cx="1015.7" cy="388.3" rx="2.7" ry="3.6" fill="#dcd664" stroke="#b9b04a" stroke-width="0.6"/><ellipse cx="1020.0" cy="398.4" rx="3.0" ry="4.1" fill="#dcd664" stroke="#b9b04a" stroke-width="0.6"/><ellipse cx="1018.5" cy="407.9" rx="3.0" ry="4.1" fill="#dcd664" stroke="#b9b04a" stroke-width="0.6"/><ellipse cx="1019.7" cy="418.8" rx="2.7" ry="3.6" fill="#dcd664" stroke="#b9b04a" stroke-width="0.6"/><ellipse cx="1015.3" cy="421.9" rx="2.2" ry="3.0" fill="#dcd868" stroke="#b9b04a" stroke-width="0.6"/><ellipse cx="1019.7" cy="427.1" rx="3.0" ry="4.1" fill="#dcd664" stroke="#b9b04a" stroke-width="0.6"/><ellipse cx="1024.5" cy="422.8" rx="2.8" ry="3.8" fill="#dcd868" stroke="#b9b04a" stroke-width="0.6"/><ellipse cx="1020.1" cy="436.1" rx="3.0" ry="4.1" fill="#dcd664" stroke="#b9b04a" stroke-width="0.6"/><ellipse cx="1016.4" cy="439.2" rx="2.2" ry="3.0" fill="#dcd868" stroke="#b9b04a" stroke-width="0.6"/><ellipse cx="1018.1" cy="447.1" rx="3.3" ry="4.5" fill="#dcd664" stroke="#b9b04a" stroke-width="0.6"/><ellipse cx="1017.1" cy="457.4" rx="2.7" ry="3.6" fill="#dcd664" stroke="#b9b04a" stroke-width="0.6"/><ellipse cx="1013.1" cy="461.4" rx="2.2" ry="3.0" fill="#dcd868" stroke="#b9b04a" stroke-width="0.6"/><ellipse cx="1019.5" cy="464.1" rx="3.0" ry="4.1" fill="#dcd664" stroke="#b9b04a" stroke-width="0.6"/><ellipse cx="1016.9" cy="477.4" rx="2.4" ry="3.2" fill="#dcd664" stroke="#b9b04a" stroke-width="0.6"/><ellipse cx="1012.9" cy="476.0" rx="2.5" ry="3.4" fill="#dcd868" stroke="#b9b04a" stroke-width="0.6"/><ellipse cx="1014.9" cy="486.4" rx="3.7" ry="5.0" fill="#dcd664" stroke="#b9b04a" stroke-width="0.6"/><ellipse cx="1020.3" cy="494.1" rx="2.7" ry="3.6" fill="#dcd664" stroke="#b9b04a" stroke-width="0.6"/><ellipse cx="1016.2" cy="495.9" rx="2.2" ry="3.0" fill="#dcd868" stroke="#b9b04a" stroke-width="0.6"/><ellipse cx="1018.1" cy="506.7" rx="3.3" ry="4.5" fill="#dcd664" stroke="#b9b04a" stroke-width="0.6"/><ellipse cx="1022.8" cy="504.6" rx="2.2" ry="3.0" fill="#dcd868" stroke="#b9b04a" stroke-width="0.6"/><ellipse cx="1020.1" cy="513.9" rx="3.3" ry="4.5" fill="#dcd664" stroke="#b9b04a" stroke-width="0.6"/><ellipse cx="1016.5" cy="519.2" rx="2.2" ry="3.0" fill="#dcd868" stroke="#b9b04a" stroke-width="0.6"/><ellipse cx="1016.7" cy="525.5" rx="3.0" ry="4.1" fill="#dcd664" stroke="#b9b04a" stroke-width="0.6"/><ellipse cx="1020.6" cy="520.8" rx="2.8" ry="3.8" fill="#dcd868" stroke="#b9b04a" stroke-width="0.6"/><ellipse cx="1018.9" cy="535.1" rx="2.4" ry="3.2" fill="#dcd664" stroke="#b9b04a" stroke-width="0.6"/><ellipse cx="1019.5" cy="543.5" rx="2.7" ry="3.6" fill="#dcd664" stroke="#b9b04a" stroke-width="0.6"/><ellipse cx="1015.6" cy="553.9" rx="2.4" ry="3.2" fill="#dcd664" stroke="#b9b04a" stroke-width="0.6"/><ellipse cx="1017.3" cy="564.1" rx="3.7" ry="5.0" fill="#dcd664" stroke="#b9b04a" stroke-width="0.6"/><ellipse cx="1021.5" cy="560.5" rx="2.5" ry="3.4" fill="#dcd868" stroke="#b9b04a" stroke-width="0.6"/><ellipse cx="1016.6" cy="573.7" rx="2.4" ry="3.2" fill="#dcd664" stroke="#b9b04a" stroke-width="0.6"/><ellipse cx="1018.1" cy="584.2" rx="2.7" ry="3.6" fill="#dcd664" stroke="#b9b04a" stroke-width="0.6"/><ellipse cx="1016.4" cy="595.4" rx="3.0" ry="4.1" fill="#dcd664" stroke="#b9b04a" stroke-width="0.6"/><ellipse cx="1020.6" cy="595.9" rx="2.5" ry="3.4" fill="#dcd868" stroke="#b9b04a" stroke-width="0.6"/><ellipse cx="1015.5" cy="604.1" rx="3.0" ry="4.1" fill="#dcd664" stroke="#b9b04a" stroke-width="0.6"/><ellipse cx="1019.9" cy="614.3" rx="3.3" ry="4.5" fill="#dcd664" stroke="#b9b04a" stroke-width="0.6"/><ellipse cx="1016.3" cy="613.9" rx="2.8" ry="3.8" fill="#dcd868" stroke="#b9b04a" stroke-width="0.6"/><ellipse cx="1015.4" cy="625.0" rx="3.0" ry="4.1" fill="#dcd664" stroke="#b9b04a" stroke-width="0.6"/><ellipse cx="1018.0" cy="635.0" rx="3.3" ry="4.5" fill="#dcd664" stroke="#b9b04a" stroke-width="0.6"/><ellipse cx="1021.6" cy="635.1" rx="2.8" ry="3.8" fill="#dcd868" stroke="#b9b04a" stroke-width="0.6"/><ellipse cx="1018.0" cy="644.8" rx="3.3" ry="4.5" fill="#dcd664" stroke="#b9b04a" stroke-width="0.6"/><ellipse cx="1021.5" cy="642.8" rx="2.2" ry="3.0" fill="#dcd868" stroke="#b9b04a" stroke-width="0.6"/><ellipse cx="1018.7" cy="655.6" rx="3.7" ry="5.0" fill="#dcd664" stroke="#b9b04a" stroke-width="0.6"/><ellipse cx="1020.1" cy="665.2" rx="3.0" ry="4.1" fill="#dcd664" stroke="#b9b04a" stroke-width="0.6"/><ellipse cx="1029.0" cy="318.7" rx="2.7" ry="3.6" fill="#dcd664" stroke="#b9b04a" stroke-width="0.6"/><ellipse cx="1027.3" cy="331.9" rx="2.4" ry="3.2" fill="#dcd664" stroke="#b9b04a" stroke-width="0.6"/><ellipse cx="1025.5" cy="341.7" rx="2.7" ry="3.6" fill="#dcd664" stroke="#b9b04a" stroke-width="0.6"/><ellipse cx="1030.2" cy="338.2" rx="2.5" ry="3.4" fill="#dcd868" stroke="#b9b04a" stroke-width="0.6"/><ellipse cx="1024.7" cy="354.1" rx="2.4" ry="3.2" fill="#dcd664" stroke="#b9b04a" stroke-width="0.6"/><ellipse cx="1029.2" cy="350.3" rx="2.5" ry="3.4" fill="#dcd868" stroke="#b9b04a" stroke-width="0.6"/><ellipse cx="1024.5" cy="363.6" rx="3.3" ry="4.5" fill="#dcd664" stroke="#b9b04a" stroke-width="0.6"/><ellipse cx="1021.0" cy="368.5" rx="2.8" ry="3.8" fill="#dcd868" stroke="#b9b04a" stroke-width="0.6"/><ellipse cx="1024.8" cy="371.7" rx="3.0" ry="4.1" fill="#dcd664" stroke="#b9b04a" stroke-width="0.6"/><ellipse cx="1029.0" cy="372.2" rx="2.8" ry="3.8" fill="#dcd868" stroke="#b9b04a" stroke-width="0.6"/><ellipse cx="1027.0" cy="379.2" rx="3.7" ry="5.0" fill="#dcd664" stroke="#b9b04a" stroke-width="0.6"/><ellipse cx="1023.0" cy="381.9" rx="2.8" ry="3.8" fill="#dcd868" stroke="#b9b04a" stroke-width="0.6"/><ellipse cx="1025.9" cy="392.3" rx="2.7" ry="3.6" fill="#dcd664" stroke="#b9b04a" stroke-width="0.6"/><ellipse cx="1030.8" cy="387.9" rx="2.5" ry="3.4" fill="#dcd868" stroke="#b9b04a" stroke-width="0.6"/><ellipse cx="1029.1" cy="399.5" rx="2.4" ry="3.2" fill="#dcd664" stroke="#b9b04a" stroke-width="0.6"/><ellipse cx="1025.4" cy="399.6" rx="2.2" ry="3.0" fill="#dcd868" stroke="#b9b04a" stroke-width="0.6"/><ellipse cx="1027.6" cy="410.6" rx="3.0" ry="4.1" fill="#dcd664" stroke="#b9b04a" stroke-width="0.6"/><ellipse cx="1028.6" cy="418.5" rx="2.4" ry="3.2" fill="#dcd664" stroke="#b9b04a" stroke-width="0.6"/><ellipse cx="1027.6" cy="430.9" rx="3.0" ry="4.1" fill="#dcd664" stroke="#b9b04a" stroke-width="0.6"/><ellipse cx="1023.6" cy="431.6" rx="2.2" ry="3.0" fill="#dcd868" stroke="#b9b04a" stroke-width="0.6"/><ellipse cx="1027.5" cy="441.3" rx="2.4" ry="3.2" fill="#dcd664" stroke="#b9b04a" stroke-width="0.6"/><ellipse cx="1027.0" cy="449.8" rx="2.7" ry="3.6" fill="#dcd664" stroke="#b9b04a" stroke-width="0.6"/><ellipse cx="1031.9" cy="445.1" rx="2.5" ry="3.4" fill="#dcd868" stroke="#b9b04a" stroke-width="0.6"/><ellipse cx="1029.4" cy="460.0" rx="3.3" ry="4.5" fill="#dcd664" stroke="#b9b04a" stroke-width="0.6"/><ellipse cx="1034.0" cy="457.6" rx="2.8" ry="3.8" fill="#dcd868" stroke="#b9b04a" stroke-width="0.6"/><ellipse cx="1029.5" cy="468.1" rx="3.7" ry="5.0" fill="#dcd664" stroke="#b9b04a" stroke-width="0.6"/><ellipse cx="1033.4" cy="462.7" rx="2.5" ry="3.4" fill="#dcd868" stroke="#b9b04a" stroke-width="0.6"/><ellipse cx="1028.1" cy="477.8" rx="3.0" ry="4.1" fill="#dcd664" stroke="#b9b04a" stroke-width="0.6"/><ellipse cx="1033.0" cy="475.8" rx="2.8" ry="3.8" fill="#dcd868" stroke="#b9b04a" stroke-width="0.6"/><ellipse cx="1029.9" cy="486.4" rx="2.7" ry="3.6" fill="#dcd664" stroke="#b9b04a" stroke-width="0.6"/><ellipse cx="1025.9" cy="491.9" rx="2.5" ry="3.4" fill="#dcd868" stroke="#b9b04a" stroke-width="0.6"/><ellipse cx="1026.8" cy="496.8" rx="2.4" ry="3.2" fill="#dcd664" stroke="#b9b04a" stroke-width="0.6"/><ellipse cx="1031.0" cy="493.2" rx="2.8" ry="3.8" fill="#dcd868" stroke="#b9b04a" stroke-width="0.6"/><ellipse cx="1029.8" cy="503.4" rx="3.3" ry="4.5" fill="#dcd664" stroke="#b9b04a" stroke-width="0.6"/><ellipse cx="1029.7" cy="513.6" rx="3.3" ry="4.5" fill="#dcd664" stroke="#b9b04a" stroke-width="0.6"/><ellipse cx="1028.4" cy="523.0" rx="2.4" ry="3.2" fill="#dcd664" stroke="#b9b04a" stroke-width="0.6"/><ellipse cx="1025.0" cy="525.9" rx="2.5" ry="3.4" fill="#dcd868" stroke="#b9b04a" stroke-width="0.6"/><ellipse cx="1028.2" cy="534.4" rx="3.7" ry="5.0" fill="#dcd664" stroke="#b9b04a" stroke-width="0.6"/><ellipse cx="1029.1" cy="543.0" rx="2.7" ry="3.6" fill="#dcd664" stroke="#b9b04a" stroke-width="0.6"/><ellipse cx="1032.6" cy="541.7" rx="2.8" ry="3.8" fill="#dcd868" stroke="#b9b04a" stroke-width="0.6"/><ellipse cx="1028.6" cy="551.6" rx="3.3" ry="4.5" fill="#dcd664" stroke="#b9b04a" stroke-width="0.6"/><ellipse cx="1027.1" cy="563.2" rx="3.3" ry="4.5" fill="#dcd664" stroke="#b9b04a" stroke-width="0.6"/><ellipse cx="1023.2" cy="567.3" rx="2.8" ry="3.8" fill="#dcd868" stroke="#b9b04a" stroke-width="0.6"/><ellipse cx="1026.2" cy="572.6" rx="3.0" ry="4.1" fill="#dcd664" stroke="#b9b04a" stroke-width="0.6"/><ellipse cx="1029.0" cy="583.2" rx="2.7" ry="3.6" fill="#dcd664" stroke="#b9b04a" stroke-width="0.6"/><ellipse cx="1029.3" cy="591.2" rx="2.7" ry="3.6" fill="#dcd664" stroke="#b9b04a" stroke-width="0.6"/><ellipse cx="1027.1" cy="600.5" rx="2.7" ry="3.6" fill="#dcd664" stroke="#b9b04a" stroke-width="0.6"/><ellipse cx="1026.4" cy="613.1" rx="3.3" ry="4.5" fill="#dcd664" stroke="#b9b04a" stroke-width="0.6"/><ellipse cx="1027.4" cy="622.6" rx="2.4" ry="3.2" fill="#dcd664" stroke="#b9b04a" stroke-width="0.6"/><ellipse cx="1029.8" cy="630.8" rx="2.4" ry="3.2" fill="#dcd664" stroke="#b9b04a" stroke-width="0.6"/><ellipse cx="1025.8" cy="641.8" rx="3.7" ry="5.0" fill="#dcd664" stroke="#b9b04a" stroke-width="0.6"/><ellipse cx="1026.7" cy="649.3" rx="3.0" ry="4.1" fill="#dcd664" stroke="#b9b04a" stroke-width="0.6"/><ellipse cx="1021.9" cy="648.1" rx="2.8" ry="3.8" fill="#dcd868" stroke="#b9b04a" stroke-width="0.6"/><ellipse cx="1024.7" cy="660.2" rx="3.3" ry="4.5" fill="#dcd664" stroke="#b9b04a" stroke-width="0.6"/><ellipse cx="1028.7" cy="657.4" rx="2.8" ry="3.8" fill="#dcd868" stroke="#b9b04a" stroke-width="0.6"/><ellipse cx="1025.4" cy="669.4" rx="2.7" ry="3.6" fill="#dcd664" stroke="#b9b04a" stroke-width="0.6"/></g></defs>
<polygon points="876,412 1032,318 1032,668 876,764" fill="#cacbd6"/>
<g clip-path="url(#slabclip)"><use href="#slabG"/></g>
<polygon points="494.0,363.0 516.0,365.9 516.0,716.9 494.0,714.0" fill="#c5c8d0" stroke="#1a1a1a" stroke-width="1.0" stroke-linejoin="round" />
<polygon points="516.0,365.9 684.0,387.7 684.0,738.7 516.0,716.9" fill="url(#blueFace)" stroke="#1a1a1a" stroke-width="1.0" stroke-linejoin="round" />
<polygon points="684.0,387.7 707.0,390.7 707.0,741.7 684.0,738.7" fill="url(#membG)" stroke="#1a1a1a" stroke-width="1.0" stroke-linejoin="round" />
<polygon points="707.0,390.7 876.0,412.0 876.0,764.0 707.0,741.7" fill="url(#tanFace)" stroke="none" stroke-width="1.0" stroke-linejoin="round" opacity="0.35"/>
<clipPath id="slabclip2"><polygon points="843,412 876,394 876,764 843,762"/></clipPath>
<g clip-path="url(#slabclip2)" opacity="0.55"><use href="#slabG"/></g>
<polygon points="707.0,390.7 876.0,412.0 876.0,764.0 707.0,741.7" fill="none" stroke="#1a1a1a" stroke-width="1.0" stroke-linejoin="round" />
<path d="M865 295.69 V646.69 L707 741.69 M865 646.69 L1033 668" stroke="#8a7c66" stroke-width="0.8" fill="none" opacity="0.6"/>
<polygon points="876.0,412.0 899.0,411.0 899.0,765.0 876.0,764.0" fill="#c9ccd4" stroke="none" stroke-width="1" stroke-linejoin="round" opacity="0.3"/>
<path d="M876 412 V764 M899 411 V765 L1056 672 V319 L1033 318 M876 764 L899 765 M1033 669 L879 762" stroke="#222" stroke-width="1.1" fill="none"/>
<path d="M876 412 L1033 318 M899 411 L1055 319" stroke="#1e2a20" stroke-width="1.1" fill="none" opacity="0.85"/>
<polygon points="879.0,762.0 1033.0,669.0 1056.0,672.0 899.0,765.0" fill="#c6c8d0" stroke="none" stroke-width="1" stroke-linejoin="round" opacity="0.8"/>
<linearGradient id="ringTop" x1="385" y1="0" x2="1140" y2="0" gradientUnits="userSpaceOnUse"><stop offset="0" stop-color="#9ba8b4" stop-opacity="1"/><stop offset="0.15" stop-color="#9ba8b4" stop-opacity="0.95"/><stop offset="0.21" stop-color="#6f8497" stop-opacity="0.85"/><stop offset="0.26" stop-color="#6f8497" stop-opacity="0.5"/><stop offset="0.36" stop-color="#6f8497" stop-opacity="0"/><stop offset="0.83" stop-color="#6f8497" stop-opacity="0"/><stop offset="0.86" stop-color="#6f8497" stop-opacity="0.8"/><stop offset="0.9" stop-color="#9ba8b4" stop-opacity="0.95"/><stop offset="1" stop-color="#9ba8b4" stop-opacity="1"/></linearGradient><linearGradient id="ringBot" x1="385" y1="0" x2="1140" y2="0" gradientUnits="userSpaceOnUse"><stop offset="0" stop-color="#9ba8b4" stop-opacity="1"/><stop offset="0.14" stop-color="#9ba8b4" stop-opacity="0.95"/><stop offset="0.18" stop-color="#6f8497" stop-opacity="0.85"/><stop offset="0.24" stop-color="#6f8497" stop-opacity="0.55"/><stop offset="0.31" stop-color="#6f8497" stop-opacity="0"/><stop offset="0.5" stop-color="#6f8497" stop-opacity="0"/><stop offset="0.56" stop-color="#6f8497" stop-opacity="0.55"/><stop offset="0.7" stop-color="#6f8497" stop-opacity="0.75"/><stop offset="0.86" stop-color="#6f8497" stop-opacity="0.9"/><stop offset="0.9" stop-color="#9ba8b4" stop-opacity="0.95"/><stop offset="1" stop-color="#9ba8b4" stop-opacity="1"/></linearGradient><linearGradient id="ringTopH" x1="385" y1="0" x2="1140" y2="0" gradientUnits="userSpaceOnUse"><stop offset="0" stop-color="#e6edf3" stop-opacity="0.35"/><stop offset="0.15" stop-color="#e6edf3" stop-opacity="0.33249999999999996"/><stop offset="0.21" stop-color="#e6edf3" stop-opacity="0.2975"/><stop offset="0.26" stop-color="#e6edf3" stop-opacity="0.175"/><stop offset="0.36" stop-color="#e6edf3" stop-opacity="0.0"/><stop offset="0.83" stop-color="#e6edf3" stop-opacity="0.0"/><stop offset="0.86" stop-color="#e6edf3" stop-opacity="0.27999999999999997"/><stop offset="0.9" stop-color="#e6edf3" stop-opacity="0.33249999999999996"/><stop offset="1" stop-color="#e6edf3" stop-opacity="0.35"/></linearGradient><linearGradient id="ringBotH" x1="385" y1="0" x2="1140" y2="0" gradientUnits="userSpaceOnUse"><stop offset="0" stop-color="#e6edf3" stop-opacity="0.35"/><stop offset="0.14" stop-color="#e6edf3" stop-opacity="0.33249999999999996"/><stop offset="0.18" stop-color="#e6edf3" stop-opacity="0.2975"/><stop offset="0.24" stop-color="#e6edf3" stop-opacity="0.1925"/><stop offset="0.31" stop-color="#e6edf3" stop-opacity="0.0"/><stop offset="0.5" stop-color="#e6edf3" stop-opacity="0.0"/><stop offset="0.56" stop-color="#e6edf3" stop-opacity="0.1925"/><stop offset="0.7" stop-color="#e6edf3" stop-opacity="0.26249999999999996"/><stop offset="0.86" stop-color="#e6edf3" stop-opacity="0.315"/><stop offset="0.9" stop-color="#e6edf3" stop-opacity="0.33249999999999996"/><stop offset="1" stop-color="#e6edf3" stop-opacity="0.35"/></linearGradient>
<g transform="rotate(1.7 762 520)" fill="none" filter="url(#soft)"><path d="M385 520 A377 30 0 0 1 1139 520" stroke="url(#ringTop)" stroke-width="5.5"/><path d="M385 520 A377 30 0 0 0 1139 520" stroke="url(#ringBot)" stroke-width="7"/><path d="M387 519 A375 28.5 0 0 1 1137 519" stroke="url(#ringTopH)" stroke-width="2.2"/><path d="M387 519 A375 29.5 0 0 0 1137 519" stroke="url(#ringBotH)" stroke-width="2.6"/></g>
<g fill="rgba(98,98,98,0.52)"><path d="M657.5 560.3 L655.9 602 Q659.3 606.5 662.6999999999999 602 L661.0999999999999 560.3 Z"/><path d="M662.9 548.3 L662.3 539.5 Q660.1 520.3 659.3 520.3 Q658.5 520.3 656.3 539.5 L655.7 548.3 Z"/><path d="M663.6 561.9 L671.4 565.8 Q689.2 573.5 689.6 572.8 Q690.0 572.1 674.4 560.6 L667.2 555.7 Z"/><path d="M651.4 555.7 L644.2 560.6 Q628.6 572.1 629.0 572.8 Q629.4 573.5 647.2 565.8 L655.0 561.9 Z"/></g><circle cx="659.3" cy="555.3" r="6.6" fill="none" stroke="rgba(235,235,225,0.45)" stroke-width="2.6"/><circle cx="659.3" cy="555.3" r="4.8" fill="rgba(98,98,98,0.52)"/>
<g fill="rgba(98,98,98,0.52)"><path d="M695.5 549.2 L693.9 603 Q697.3 607.5 700.6999999999999 603 L699.0999999999999 549.2 Z"/><path d="M700.9 537.2 L700.3 526.2 Q698.1 504.2 697.3 504.2 Q696.5 504.2 694.3 526.2 L693.7 537.2 Z"/><path d="M701.6 550.8 L711.4 555.8 Q731.5 564.9 731.9 564.2 Q732.3 563.5 714.4 550.6 L705.2 544.6 Z"/><path d="M689.4 544.6 L680.2 550.6 Q662.3 563.5 662.7 564.2 Q663.1 564.9 683.2 555.8 L693.0 550.8 Z"/></g><circle cx="697.3" cy="544.2" r="6.6" fill="none" stroke="rgba(235,235,225,0.45)" stroke-width="2.6"/><circle cx="697.3" cy="544.2" r="4.8" fill="rgba(98,98,98,0.52)"/>
<g fill="rgba(98,98,98,0.52)"><path d="M736.2 560.5 L734.6 603 Q738 607.5 741.4 603 L739.8 560.5 Z"/><path d="M741.6 548.5 L741.0 540.0 Q738.8 521.0 738.0 521.0 Q737.2 521.0 735.0 540.0 L734.4 548.5 Z"/><path d="M742.3 562.1 L749.9 565.9 Q767.5 573.4 767.9 572.8 Q768.3 572.1 752.9 560.7 L745.9 555.9 Z"/><path d="M730.1 555.9 L723.1 560.7 Q707.7 572.1 708.1 572.8 Q708.5 573.4 726.1 565.9 L733.7 562.1 Z"/></g><circle cx="738" cy="555.5" r="6.6" fill="none" stroke="rgba(235,235,225,0.45)" stroke-width="2.6"/><circle cx="738" cy="555.5" r="4.8" fill="rgba(98,98,98,0.52)"/>
<text transform="translate(559.5,453.2) skewY(5.4)" font-family="'Liberation Sans', sans-serif" font-size="25.8" textLength="85" lengthAdjust="spacingAndGlyphs" >PH=12</text>
<text transform="translate(538.5,499.5) skewY(5.4)" font-family="'Liberation Sans', sans-serif" font-size="27" >[Fe(CN)<tspan font-size="18" dy="7">6</tspan><tspan dy="-7">]</tspan><tspan font-size="15" dy="-9">4-</tspan></text>
<text transform="translate(538.5,606.5) skewY(5.4)" font-family="'Liberation Sans', sans-serif" font-size="27" >[Fe(CN)<tspan font-size="18" dy="7">6</tspan><tspan dy="-7">]</tspan><tspan font-size="15" dy="-9">3-</tspan></text>
<text transform="translate(752.8,469) skewY(5.4)" font-family="'Liberation Sans', sans-serif" font-size="25.8" textLength="84.5" lengthAdjust="spacingAndGlyphs" >PH=12</text>
<text transform="translate(709.5,513) skewY(5.4)" font-family="'Liberation Sans', sans-serif" font-size="25" textLength="169" lengthAdjust="spacingAndGlyphs" >[Zn(OH)EDTA]<tspan font-size="14" dy="-9">3-</tspan></text>
<text x="794.5" y="630" font-family="'Liberation Sans', sans-serif" font-size="28.5" text-anchor="middle">Zn</text>
<path d="M600 523 V580" stroke="#000" stroke-width="3.8"/><path d="M590 532.5 L600 522.5 L610 532.5 M590 570.5 L600 580.5 L610 570.5" stroke="#000" stroke-width="3.8" fill="none"/>
<path d="M794 537 V595" stroke="#000" stroke-width="3.8"/><path d="M784 546.5 L794 536.5 L804 546.5 M784 585.5 L794 595.5 L804 585.5" stroke="#000" stroke-width="3.8" fill="none"/>
<text x="485" y="284.8" font-family="'Liberation Sans', sans-serif" font-size="30.5" textLength="137.5" lengthAdjust="spacingAndGlyphs">Electrode</text>
<text x="782" y="255.3" font-family="'Liberation Sans', sans-serif" font-size="32.5" textLength="157.5" lengthAdjust="spacingAndGlyphs">Membrane</text>
<circle cx="81" cy="390" r="77.5" fill="#ffffff" fill-opacity="0.25"/>
<circle cx="81" cy="390" r="64" fill="url(#bubble)"/>
<line x1="87" y1="358" x2="105" y2="357" stroke="#333" stroke-width="1"/><line x1="105" y1="357" x2="111" y2="375" stroke="#333" stroke-width="1"/>
<circle cx="56.6" cy="370.7" r="9" fill="url(#gball2)"/><circle cx="56.6" cy="370.7" r="9" fill="url(#sph)"/>
<circle cx="44.5" cy="398.7" r="9" fill="url(#gball2)"/><circle cx="44.5" cy="398.7" r="9" fill="url(#sph)"/>
<circle cx="65.6" cy="422.8" r="9" fill="url(#gball2)"/><circle cx="65.6" cy="422.8" r="9" fill="url(#sph)"/>
<circle cx="87" cy="358" r="6" fill="url(#bballR)"/><circle cx="111" cy="375" r="6" fill="url(#bballR)"/><circle cx="105" cy="357" r="5.5" fill="url(#rballR)"/>
<line x1="79" y1="392" x2="79" y2="367" stroke="#1e2a34" stroke-width="0.96"/><line x1="79" y1="392" x2="79" y2="417" stroke="#1e2a34" stroke-width="0.96"/><line x1="79" y1="392" x2="55" y2="395" stroke="#1e2a34" stroke-width="0.96"/><line x1="79" y1="392" x2="103" y2="389.5" stroke="#1e2a34" stroke-width="0.96"/><line x1="79" y1="392" x2="61" y2="379" stroke="#1e2a34" stroke-width="0.96"/><line x1="79" y1="392" x2="96" y2="406" stroke="#1e2a34" stroke-width="0.96"/><line x1="79.0" y1="376.5" x2="79.0" y2="368.5" stroke="#5388ae" stroke-width="4.48" stroke-linecap="round"/><line x1="79.0" y1="372.0" x2="79.0" y2="368.5" stroke="#7fb6dc" stroke-width="1.92" stroke-linecap="round" opacity="0.8"/><line x1="79.0" y1="407.5" x2="79.0" y2="415.5" stroke="#5388ae" stroke-width="4.48" stroke-linecap="round"/><line x1="79.0" y1="412.0" x2="79.0" y2="415.5" stroke="#7fb6dc" stroke-width="1.92" stroke-linecap="round" opacity="0.8"/><line x1="64.1" y1="393.9" x2="56.4" y2="394.8" stroke="#5388ae" stroke-width="4.48" stroke-linecap="round"/><line x1="59.8" y1="394.4" x2="56.4" y2="394.8" stroke="#7fb6dc" stroke-width="1.92" stroke-linecap="round" opacity="0.8"/><line x1="93.9" y1="390.4" x2="101.6" y2="389.6" stroke="#5388ae" stroke-width="4.48" stroke-linecap="round"/><line x1="98.2" y1="390.0" x2="101.6" y2="389.6" stroke="#7fb6dc" stroke-width="1.92" stroke-linecap="round" opacity="0.8"/><line x1="67.8" y1="383.9" x2="62.1" y2="379.8" stroke="#5388ae" stroke-width="4.48" stroke-linecap="round"/><line x1="64.6" y1="381.6" x2="62.1" y2="379.8" stroke="#7fb6dc" stroke-width="1.92" stroke-linecap="round" opacity="0.8"/><line x1="89.5" y1="400.7" x2="95.0" y2="405.2" stroke="#5388ae" stroke-width="4.48" stroke-linecap="round"/><line x1="92.6" y1="403.2" x2="95.0" y2="405.2" stroke="#7fb6dc" stroke-width="1.92" stroke-linecap="round" opacity="0.8"/><circle cx="79" cy="392" r="6.08" fill="url(#hub)"/>
<radialGradient id="pm1g0" cx="191" cy="560" r="16" gradientUnits="userSpaceOnUse"><stop offset="0.25" stop-color="#000"/><stop offset="1" stop-color="#fff"/></radialGradient><mask id="pm1" maskUnits="userSpaceOnUse" x="0" y="0" width="1498" height="1063"><rect x="0" y="0" width="1498" height="1063" fill="#fff"/><circle cx="191" cy="560" r="16" fill="url(#pm1g0)"/></mask><g mask="url(#pm1)"><g fill="none" stroke-linejoin="round" stroke-linecap="round" filter="url(#soft)"><path d="M191 560 L113 686" stroke="#3f5f7c" stroke-width="10.12" transform="translate(0,0.66)"/><path d="M191 560 L113 686" stroke="#6a9ac0" stroke-width="8.80" transform="translate(0,-0.44)"/><path d="M191 560 L113 686" stroke="#98cdf0" stroke-width="6.60" transform="translate(0,-1.76)"/><path d="M191 560 L113 686" stroke="#c8e8fc" stroke-width="2.86" transform="translate(0,-2.86)"/></g></g>
<g transform="translate(111,705) rotate(8)"><path d="M-34.0 -22 H34.0 A7.5 22 0 0 1 34.0 22 H-34.0 A7.5 22 0 0 1 -34.0 -22 Z" fill="#dcdcdd" stroke="#222" stroke-width="1.1"/><ellipse cx="34.0" cy="0" rx="7.5" ry="22" fill="#dcdcdd" stroke="#222" stroke-width="1.1"/><text x="-4" y="5.2" font-family="'Liberation Sans', sans-serif" font-size="14.5" text-anchor="middle" textLength="38" lengthAdjust="spacingAndGlyphs" style="stroke-width:0.3px">Pump</text></g>
<radialGradient id="pm2g0" cx="610" cy="713" r="14" gradientUnits="userSpaceOnUse"><stop offset="0.25" stop-color="#000"/><stop offset="1" stop-color="#fff"/></radialGradient><radialGradient id="pm2g1" cx="128" cy="707" r="18" gradientUnits="userSpaceOnUse"><stop offset="0.25" stop-color="#000"/><stop offset="1" stop-color="#fff"/></radialGradient><mask id="pm2" maskUnits="userSpaceOnUse" x="0" y="0" width="1498" height="1063"><rect x="0" y="0" width="1498" height="1063" fill="#fff"/><circle cx="610" cy="713" r="14" fill="url(#pm2g0)"/><circle cx="128" cy="707" r="18" fill="url(#pm2g1)"/></mask><g mask="url(#pm2)"><g fill="none" stroke-linejoin="round" stroke-linecap="round" filter="url(#soft)"><path d="M128 707 L556 767 L610 713" stroke="#3f5f7c" stroke-width="10.12" transform="translate(0,0.66)"/><path d="M128 707 L556 767 L610 713" stroke="#6a9ac0" stroke-width="8.80" transform="translate(0,-0.44)"/><path d="M128 707 L556 767 L610 713" stroke="#98cdf0" stroke-width="6.60" transform="translate(0,-1.76)"/><path d="M128 707 L556 767 L610 713" stroke="#c8e8fc" stroke-width="2.86" transform="translate(0,-2.86)"/></g></g>
<radialGradient id="pm3g0" cx="1294" cy="808" r="16" gradientUnits="userSpaceOnUse"><stop offset="0.25" stop-color="#000"/><stop offset="1" stop-color="#fff"/></radialGradient><mask id="pm3" maskUnits="userSpaceOnUse" x="0" y="0" width="1498" height="1063"><rect x="0" y="0" width="1498" height="1063" fill="#fff"/><circle cx="1294" cy="808" r="16" fill="url(#pm3g0)"/></mask><g mask="url(#pm3)"><g fill="none" stroke-linejoin="round" stroke-linecap="round" filter="url(#soft)"><path d="M1294 808 L1219 924" stroke="#56452e" stroke-width="10.12" transform="translate(0,0.66)"/><path d="M1294 808 L1219 924" stroke="#b09a6e" stroke-width="8.80" transform="translate(0,-0.44)"/><path d="M1294 808 L1219 924" stroke="#dfc89e" stroke-width="6.60" transform="translate(0,-1.76)"/><path d="M1294 808 L1219 924" stroke="#f6ecd8" stroke-width="2.86" transform="translate(0,-2.86)"/></g></g>
<g transform="translate(1204,943) rotate(8)"><path d="M-33.0 -22 H33.0 A7.5 22 0 0 1 33.0 22 H-33.0 A7.5 22 0 0 1 -33.0 -22 Z" fill="#d9d9da" stroke="#222" stroke-width="1.1"/><ellipse cx="33.0" cy="0" rx="7.5" ry="22" fill="#d9d9da" stroke="#222" stroke-width="1.1"/><text x="-4" y="5.2" font-family="'Liberation Sans', sans-serif" font-size="14.5" text-anchor="middle" textLength="38" lengthAdjust="spacingAndGlyphs" style="stroke-width:0.3px">Pump</text></g>
<radialGradient id="pm4g0" cx="794" cy="738" r="14" gradientUnits="userSpaceOnUse"><stop offset="0.25" stop-color="#000"/><stop offset="1" stop-color="#fff"/></radialGradient><radialGradient id="pm4g1" cx="1180" cy="939.5" r="20" gradientUnits="userSpaceOnUse"><stop offset="0.25" stop-color="#000"/><stop offset="1" stop-color="#fff"/></radialGradient><mask id="pm4" maskUnits="userSpaceOnUse" x="0" y="0" width="1498" height="1063"><rect x="0" y="0" width="1498" height="1063" fill="#fff"/><circle cx="794" cy="738" r="14" fill="url(#pm4g0)"/><circle cx="1180" cy="939.5" r="20" fill="url(#pm4g1)"/></mask><g mask="url(#pm4)"><g fill="none" stroke-linejoin="round" stroke-linecap="round" filter="url(#soft)"><path d="M794 738 L659 863 L1180 939.5" stroke="#56452e" stroke-width="10.12" transform="translate(0,0.66)"/><path d="M794 738 L659 863 L1180 939.5" stroke="#b09a6e" stroke-width="8.80" transform="translate(0,-0.44)"/><path d="M794 738 L659 863 L1180 939.5" stroke="#dfc89e" stroke-width="6.60" transform="translate(0,-1.76)"/><path d="M794 738 L659 863 L1180 939.5" stroke="#f6ecd8" stroke-width="2.86" transform="translate(0,-2.86)"/></g></g>
<g>
<path d="M88 966 V893 a5 5 0 0 0 -5 -5 H56 a5 5 0 0 0 -5 5 V966" fill="#fff"/>
<circle cx="101.5" cy="938.5" r="1" fill="none"/>
</g>
<path d="M102 939L102.0 973.0M102.0 954.3L109.3 961.4M102.0 954.3L94.7 961.4M102.0 964.5L108.8 971.1M102.0 964.5L95.2 971.1M102 939L72.6 956.0M88.7 946.6L86.3 956.5M88.7 946.6L78.9 943.9M79.9 951.8L77.6 961.0M79.9 951.8L70.8 949.2M102 939L72.6 922.0M88.7 931.4L78.9 934.1M88.7 931.4L86.3 921.5M79.9 926.2L70.8 928.8M79.9 926.2L77.6 917.0M102 939L102.0 905.0M102.0 923.7L94.7 916.6M102.0 923.7L109.3 916.6M102.0 913.5L95.2 906.9M102.0 913.5L108.8 906.9M102 939L131.4 922.0M115.3 931.4L117.7 921.5M115.3 931.4L125.1 934.1M124.1 926.2L126.4 917.0M124.1 926.2L133.2 928.8M102 939L131.4 956.0M115.3 946.6L125.1 943.9M115.3 946.6L117.7 956.5M124.1 951.8L133.2 949.2M124.1 951.8L126.4 961.0" stroke="#92c2e8" stroke-width="3" fill="none" stroke-linecap="butt"/>
<path d="M51 967 V892 a4 4 0 0 1 4 -4 H84 a4 4 0 0 1 4 4 V967 A34.5 34.5 0 1 1 51 967 Z" fill="#ffffff" stroke="#1c3552" stroke-width="4.2"/>
<g stroke="#3568a0" stroke-width="2.4">
<line x1="53" y1="896.6" x2="62" y2="896.6"/><line x1="53" y1="903.8" x2="71" y2="903.8"/>
<line x1="53" y1="911.8" x2="62" y2="911.8"/><line x1="53" y1="919" x2="71" y2="919"/>
<line x1="53" y1="926" x2="62" y2="926"/><line x1="53" y1="933" x2="71" y2="933"/>
<line x1="53" y1="941" x2="62" y2="941"/><line x1="53" y1="948.8" x2="71" y2="948.8"/>
</g>
<path d="M62.5 975 V960 a3 3 0 0 1 3 -3 H72 a3 3 0 0 1 3 3 V975 A21 21 0 1 1 62.5 975 Z" fill="#5aaee2"/>
<path d="M48.35 990 Q58.5 983 68.75 988 T89.15 990 A21 21 0 1 1 48.35 990 Z" fill="#a8d8f5"/>
<circle cx="101.3" cy="889.5" r="6.5" fill="#5aaee2" stroke="#1c3552" stroke-width="1.8"/>

<text x="111.5" y="1014.8" font-family="'Liberation Sans', sans-serif" font-size="41.5" fill="#1d4466" style="stroke:#1d4466" textLength="113" lengthAdjust="spacingAndGlyphs">-10 ℃</text>
<circle cx="329.2" cy="965.8" r="25.2" fill="url(#gball2)"/><circle cx="329.2" cy="965.8" r="25.2" fill="url(#sph)"/>
<text x="266" y="1017.7" font-family="'Liberation Sans', sans-serif" font-size="30" textLength="33" lengthAdjust="spacingAndGlyphs">Na</text>
<text x="301.3" y="1012.6" font-family="'Liberation Sans', sans-serif" font-size="22" style="stroke-width:0">+</text>
<text x="324" y="1017.7" font-family="'Liberation Sans', sans-serif" font-size="30" textLength="27" lengthAdjust="spacingAndGlyphs">or</text>
<text x="358.5" y="1017.7" font-family="'Liberation Sans', sans-serif" font-size="30" textLength="17" lengthAdjust="spacingAndGlyphs">K</text>
<text x="376.5" y="1012.6" font-family="'Liberation Sans', sans-serif" font-size="22" style="stroke-width:0">+</text>
<line x1="458.7" y1="960.6" x2="458.7" y2="930.5" stroke="#1e2a34" stroke-width="1.20"/><line x1="458.7" y1="960.6" x2="458.7" y2="993" stroke="#1e2a34" stroke-width="1.20"/><line x1="458.7" y1="960.6" x2="430" y2="963.8" stroke="#1e2a34" stroke-width="1.20"/><line x1="458.7" y1="960.6" x2="487.5" y2="959.6" stroke="#1e2a34" stroke-width="1.20"/><line x1="458.7" y1="960.6" x2="437.5" y2="945.5" stroke="#1e2a34" stroke-width="1.20"/><line x1="458.7" y1="960.6" x2="478" y2="979" stroke="#1e2a34" stroke-width="1.20"/><line x1="458.7" y1="941.9" x2="458.7" y2="932.3" stroke="#5388ae" stroke-width="5.60" stroke-linecap="round"/><line x1="458.7" y1="936.5" x2="458.7" y2="932.3" stroke="#7fb6dc" stroke-width="2.40" stroke-linecap="round" opacity="0.8"/><line x1="458.7" y1="980.7" x2="458.7" y2="991.1" stroke="#5388ae" stroke-width="5.60" stroke-linecap="round"/><line x1="458.7" y1="986.5" x2="458.7" y2="991.1" stroke="#7fb6dc" stroke-width="2.40" stroke-linecap="round" opacity="0.8"/><line x1="440.9" y1="962.6" x2="431.7" y2="963.6" stroke="#5388ae" stroke-width="5.60" stroke-linecap="round"/><line x1="435.7" y1="963.2" x2="431.7" y2="963.6" stroke="#7fb6dc" stroke-width="2.40" stroke-linecap="round" opacity="0.8"/><line x1="476.6" y1="960.0" x2="485.8" y2="959.7" stroke="#5388ae" stroke-width="5.60" stroke-linecap="round"/><line x1="481.7" y1="959.8" x2="485.8" y2="959.7" stroke="#7fb6dc" stroke-width="2.40" stroke-linecap="round" opacity="0.8"/><line x1="445.6" y1="951.2" x2="438.8" y2="946.4" stroke="#5388ae" stroke-width="5.60" stroke-linecap="round"/><line x1="441.7" y1="948.5" x2="438.8" y2="946.4" stroke="#7fb6dc" stroke-width="2.40" stroke-linecap="round" opacity="0.8"/><line x1="470.7" y1="972.0" x2="476.8" y2="977.9" stroke="#5388ae" stroke-width="5.60" stroke-linecap="round"/><line x1="474.1" y1="975.3" x2="476.8" y2="977.9" stroke="#7fb6dc" stroke-width="2.40" stroke-linecap="round" opacity="0.8"/><circle cx="458.7" cy="960.6" r="7.60" fill="url(#hub)"/>
<text x="416" y="1021.6" font-family="'Liberation Sans', sans-serif" font-size="28.5" textLength="84.5" lengthAdjust="spacingAndGlyphs">Fe(CN)</text>
<text x="502" y="1029.8" font-family="'Liberation Sans', sans-serif" font-size="18">6</text>
<text x="511.5" y="1015.5" font-family="'Liberation Sans', sans-serif" font-size="17.5" textLength="14" lengthAdjust="spacingAndGlyphs">4-</text>
<circle cx="584.3" cy="965.8" r="23.5" fill="url(#bball2)"/><circle cx="584.3" cy="965.8" r="23.5" fill="url(#sph)"/>
<text x="569" y="1024" font-family="'Liberation Sans', sans-serif" font-size="30" textLength="20.5" lengthAdjust="spacingAndGlyphs">Li</text>
<text x="592.5" y="1018.5" font-family="'Liberation Sans', sans-serif" font-size="22" style="stroke-width:0">+</text>
<circle cx="690" cy="965.8" r="23.5" fill="url(#rball2)"/><circle cx="690" cy="965.8" r="23.5" fill="url(#sph)"/>
<text x="667" y="1025.6" font-family="'Liberation Sans', sans-serif" font-size="30" textLength="39" lengthAdjust="spacingAndGlyphs">OH</text>
<text x="708.3" y="1016.5" font-family="'Liberation Sans', sans-serif" font-size="13" style="stroke-width:0" textLength="5" lengthAdjust="spacingAndGlyphs">-</text></svg>
</body></html>
